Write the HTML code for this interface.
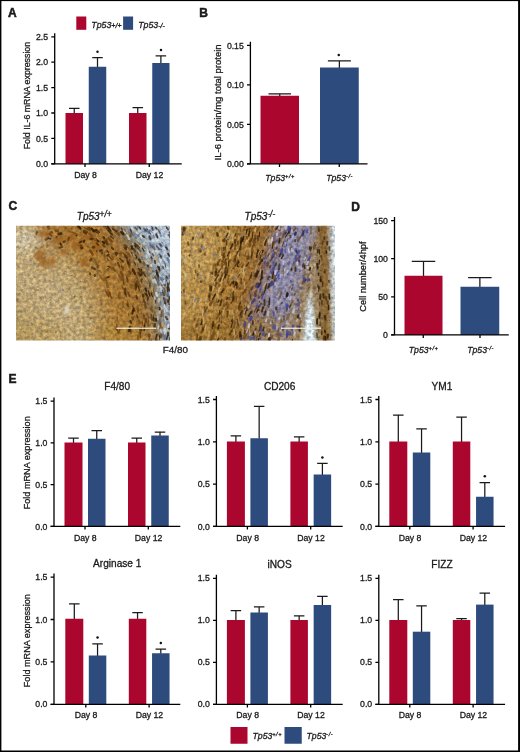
<!DOCTYPE html>
<html><head><meta charset="utf-8"><title>Figure</title>
<style>
html,body{margin:0;padding:0;background:#fff;}
body{width:520px;height:752px;overflow:hidden;position:relative;font-family:"Liberation Sans",sans-serif;}
svg{position:absolute;left:0;top:0;display:block;}
svg text{font-family:"Liberation Sans",sans-serif;fill:#1a1a1a;stroke:#1a1a1a;stroke-width:0.3px;}
</style></head><body>
<svg width="520" height="752" viewBox="0 0 520 752" style="opacity:0.999">
<rect x="0" y="0" width="520" height="752" fill="#fff"/>
<path d="M74.25 113.50V108.25M69.00 108.25H79.50" stroke="#1a1a1a" stroke-width="1.25" fill="none"/>
<rect x="65.50" y="113.00" width="17.50" height="50.80" fill="#AB062D"/>
<path d="M97.50 67.25V57.50M92.25 57.50H102.75" stroke="#1a1a1a" stroke-width="1.25" fill="none"/>
<rect x="88.75" y="66.75" width="17.50" height="97.05" fill="#2E4B7E"/>
<circle cx="97.50" cy="51.75" r="1.25" fill="#111"/>
<path d="M137.75 113.50V107.50M132.50 107.50H143.00" stroke="#1a1a1a" stroke-width="1.25" fill="none"/>
<rect x="129.00" y="113.00" width="17.50" height="50.80" fill="#AB062D"/>
<path d="M160.88 63.50V55.75M155.62 55.75H166.12" stroke="#1a1a1a" stroke-width="1.25" fill="none"/>
<rect x="152.25" y="63.00" width="17.25" height="100.80" fill="#2E4B7E"/>
<circle cx="161.00" cy="50.00" r="1.25" fill="#111"/>
<path d="M54.70 33.20V163.80M51.30 163.80H181.75" stroke="#000" stroke-width="1.3" fill="none"/>
<path d="M51.30 163.80H54.70M51.30 138.40H54.70M51.30 113.00H54.70M51.30 87.60H54.70M51.30 62.20H54.70M51.30 36.80H54.70M85.00 163.80V167.00M149.25 163.80V167.00" stroke="#000" stroke-width="1.3" fill="none"/>
<text x="48.10" y="166.95" font-size="8.7" text-anchor="end">0.0</text>
<text x="48.10" y="141.55" font-size="8.7" text-anchor="end">0.5</text>
<text x="48.10" y="116.15" font-size="8.7" text-anchor="end">1.0</text>
<text x="48.10" y="90.75" font-size="8.7" text-anchor="end">1.5</text>
<text x="48.10" y="65.35" font-size="8.7" text-anchor="end">2.0</text>
<text x="48.10" y="39.95" font-size="8.7" text-anchor="end">2.5</text>
<text x="85.50" y="178.00" font-size="8.7" text-anchor="middle">Day 8</text>
<text x="149.50" y="178.00" font-size="8.7" text-anchor="middle">Day 12</text>
<text transform="translate(29.60,95.60) rotate(-90)" font-size="9.3" text-anchor="middle" textLength="107.5" lengthAdjust="spacingAndGlyphs">Fold IL-6 mRNA expression</text>
<rect x="76.3" y="16.5" width="10" height="13.3" fill="#AB062D"/>
<rect x="123.1" y="16.5" width="10" height="13.3" fill="#2E4B7E"/>
<text x="91.30" y="28.20" font-size="8.8" font-style="italic" text-anchor="start">Tp53<tspan font-size="7.00" dy="-0.50" letter-spacing="0">+/+</tspan></text>
<text x="138.20" y="28.20" font-size="8.8" font-style="italic" text-anchor="start">Tp53<tspan font-size="7.00" dy="-0.50" letter-spacing="0">-/-</tspan></text>
<text x="8.00" y="16.60" font-size="12.0" text-anchor="start" font-weight="bold" style="stroke-width:0.5px">A</text>
<path d="M279.75 96.25V93.75M268.50 93.75H291.00" stroke="#1a1a1a" stroke-width="1.25" fill="none"/>
<rect x="260.50" y="95.75" width="38.50" height="68.05" fill="#AB062D"/>
<path d="M339.38 68.00V60.75M327.88 60.75H350.88" stroke="#1a1a1a" stroke-width="1.25" fill="none"/>
<rect x="320.00" y="67.50" width="38.75" height="96.30" fill="#2E4B7E"/>
<circle cx="338.75" cy="55.00" r="1.25" fill="#111"/>
<path d="M250.40 41.85V163.80M247.00 163.80H367.50" stroke="#000" stroke-width="1.3" fill="none"/>
<path d="M247.00 163.80H250.40M247.00 124.35H250.40M247.00 84.90H250.40M247.00 45.45H250.40M279.50 163.80V167.00M339.25 163.80V167.00" stroke="#000" stroke-width="1.3" fill="none"/>
<text x="243.80" y="166.95" font-size="8.7" text-anchor="end">0.00</text>
<text x="243.80" y="127.50" font-size="8.7" text-anchor="end">0.05</text>
<text x="243.80" y="88.05" font-size="8.7" text-anchor="end">0.10</text>
<text x="243.80" y="48.60" font-size="8.7" text-anchor="end">0.15</text>
<text x="280.00" y="181.00" font-size="8.7" font-style="italic" text-anchor="middle">Tp53<tspan font-size="5.74" dy="-3.22" letter-spacing="0.45">+/+</tspan></text>
<text x="339.50" y="181.00" font-size="8.7" font-style="italic" text-anchor="middle">Tp53<tspan font-size="5.74" dy="-3.22" letter-spacing="0.45">-/-</tspan></text>
<text transform="translate(220.50,102.40) rotate(-90)" font-size="9.3" text-anchor="middle" textLength="116" lengthAdjust="spacingAndGlyphs">IL-6 protein/mg total protein</text>
<text x="199.30" y="16.80" font-size="12.0" text-anchor="start" font-weight="bold" style="stroke-width:0.5px">B</text>
<text x="8.60" y="210.20" font-size="12.0" text-anchor="start" font-weight="bold" style="stroke-width:0.5px">C</text>
<text x="76.80" y="219.90" font-size="10" font-style="italic" text-anchor="start">Tp53<tspan font-size="8.20" dy="-3.00" letter-spacing="0">+/+</tspan></text>
<text x="244.60" y="219.90" font-size="10" font-style="italic" text-anchor="start">Tp53<tspan font-size="8.20" dy="-3.00" letter-spacing="0">-/-</tspan></text>
<defs>
<filter id="tex1" x="0" y="0" width="100%" height="100%" color-interpolation-filters="sRGB">
<feGaussianBlur in="SourceGraphic" stdDeviation="1.5" result="b"/>
<feTurbulence type="fractalNoise" baseFrequency="0.3" numOctaves="3" seed="5" result="n"/>
<feColorMatrix in="n" values="1 0 0 0 0  0.94 0.06 0 0 0  0.84 0 0.16 0 0  0 0 0 0 1" result="ng"/>
<feComposite in="b" in2="ng" operator="arithmetic" k1="0.72" k2="0.61" k3="0" k4="0"/>
</filter>
<filter id="tex2" x="0" y="0" width="100%" height="100%" color-interpolation-filters="sRGB">
<feGaussianBlur in="SourceGraphic" stdDeviation="1.5" result="b"/>
<feTurbulence type="fractalNoise" baseFrequency="0.3" numOctaves="3" seed="17" result="n"/>
<feColorMatrix in="n" values="1 0 0 0 0  0.94 0.06 0 0 0  0.84 0 0.16 0 0  0 0 0 0 1" result="ng"/>
<feComposite in="b" in2="ng" operator="arithmetic" k1="0.8" k2="0.57" k3="0" k4="0"/>
</filter>
<filter id="sblur" x="-10%" y="-10%" width="120%" height="120%"><feGaussianBlur stdDeviation="0.6"/></filter>
<filter id="lblur" x="-20%" y="-20%" width="140%" height="140%"><feGaussianBlur stdDeviation="1.8"/></filter>
<filter id="xblur" x="-30%" y="-30%" width="160%" height="160%"><feGaussianBlur stdDeviation="7"/></filter>
<clipPath id="c1"><rect x="16" y="225.8" width="154" height="114.6"/></clipPath>
<clipPath id="c2"><rect x="181" y="225.8" width="154" height="114.6"/></clipPath>
<radialGradient id="rg1" gradientUnits="userSpaceOnUse" cx="0" cy="330" r="210">
<stop offset="0" stop-color="#B89E6A"/>
<stop offset="0.30" stop-color="#C4AC7E"/>
<stop offset="0.42" stop-color="#C0A672"/>
<stop offset="0.49" stop-color="#B48E52"/>
<stop offset="0.56" stop-color="#AE7E38"/>
<stop offset="0.68" stop-color="#A47434"/>
<stop offset="0.75" stop-color="#8E7C5C"/>
<stop offset="0.79" stop-color="#98A2A8"/>
<stop offset="0.87" stop-color="#AEBECE"/>
<stop offset="1" stop-color="#B6C6D6"/>
</radialGradient>
<linearGradient id="lg2" gradientUnits="userSpaceOnUse" x1="181" y1="226" x2="353.4" y2="277.7">
<stop offset="0" stop-color="#BC9854"/>
<stop offset="0.23" stop-color="#B48C48"/>
<stop offset="0.37" stop-color="#A87A36"/>
<stop offset="0.46" stop-color="#9A6E36"/>
<stop offset="0.53" stop-color="#8E7C84"/>
<stop offset="0.61" stop-color="#8E8CAA"/>
<stop offset="0.70" stop-color="#948EA2"/>
<stop offset="0.75" stop-color="#9A8468"/>
<stop offset="1" stop-color="#987C48"/>
</linearGradient>
</defs>
<g clip-path="url(#c1)">
<g filter="url(#tex1)"><rect x="4.0" y="213.8" width="178.0" height="138.6" fill="url(#rg1)"/><g filter="url(#xblur)"><ellipse cx="24" cy="238" rx="16" ry="14" fill="#D6CCB2" fill-opacity="0.85"/><ellipse cx="30" cy="335" rx="40" ry="14" fill="#B89A5C" fill-opacity="0.7"/><ellipse cx="70" cy="236" rx="30" ry="9" fill="#A87834" fill-opacity="0.8"/><ellipse cx="46" cy="258" rx="9" ry="9" fill="#A87834" fill-opacity="0.7"/><ellipse cx="120" cy="335" rx="28" ry="12" fill="#B08A3C" fill-opacity="0.6"/></g></g>
<g filter="url(#lblur)"><ellipse cx="45" cy="234" rx="8" ry="3.5" fill="#9A5E18" fill-opacity="0.75"/><ellipse cx="58" cy="240" rx="6" ry="3.5" fill="#9A5E18" fill-opacity="0.75"/><ellipse cx="40" cy="255" rx="5" ry="6" fill="#9A5E18" fill-opacity="0.75"/><ellipse cx="44" cy="263" rx="4" ry="4" fill="#9A5E18" fill-opacity="0.75"/><ellipse cx="52" cy="262" rx="3" ry="5" fill="#9A5E18" fill-opacity="0.75"/><ellipse cx="70" cy="238" rx="6" ry="3.5" fill="#9A5E18" fill-opacity="0.75"/><ellipse cx="78" cy="246" rx="7" ry="4" fill="#9A5E18" fill-opacity="0.75"/><ellipse cx="64" cy="252" rx="4" ry="3" fill="#9A5E18" fill-opacity="0.75"/><ellipse cx="88" cy="236" rx="7" ry="4" fill="#9A5E18" fill-opacity="0.75"/><ellipse cx="97" cy="248" rx="5" ry="6" fill="#9A5E18" fill-opacity="0.75"/><ellipse cx="84" cy="262" rx="4" ry="5" fill="#9A5E18" fill-opacity="0.75"/><ellipse cx="67" cy="310" rx="2.2" ry="5" fill="#EAE4D2" fill-opacity="0.85"/></g>
<g filter="url(#sblur)">
<path d="M157.9 277.5L158.8 280.9" stroke="#2E1A06" stroke-width="1.3" stroke-opacity="0.67" stroke-linecap="round"/><path d="M121.8 228.1L123.8 233.1" stroke="#2E1A06" stroke-width="1.9" stroke-opacity="0.71" stroke-linecap="round"/><path d="M96.5 232.0L98.3 233.3" stroke="#2E1A06" stroke-width="1.1" stroke-opacity="0.65" stroke-linecap="round"/><path d="M170.1 337.5L169.2 342.3" stroke="#2E1A06" stroke-width="1.5" stroke-opacity="0.55" stroke-linecap="round"/><path d="M132.9 269.5L135.1 273.9" stroke="#2E1A06" stroke-width="2.2" stroke-opacity="0.81" stroke-linecap="round"/><path d="M155.2 277.1L157.2 282.2" stroke="#2E1A06" stroke-width="1.2" stroke-opacity="0.72" stroke-linecap="round"/><path d="M135.4 256.0L136.4 257.5" stroke="#2E1A06" stroke-width="2.3" stroke-opacity="0.78" stroke-linecap="round"/><path d="M137.7 244.6L139.8 247.7" stroke="#2E1A06" stroke-width="1.3" stroke-opacity="0.76" stroke-linecap="round"/><path d="M165.8 316.5L165.3 319.2" stroke="#2E1A06" stroke-width="1.4" stroke-opacity="0.62" stroke-linecap="round"/><path d="M147.7 298.4L147.5 300.3" stroke="#2E1A06" stroke-width="1.4" stroke-opacity="0.56" stroke-linecap="round"/><path d="M134.1 262.5L135.9 264.5" stroke="#2E1A06" stroke-width="1.2" stroke-opacity="0.70" stroke-linecap="round"/><path d="M163.6 279.3L163.8 283.1" stroke="#2E1A06" stroke-width="1.3" stroke-opacity="0.52" stroke-linecap="round"/><path d="M155.6 318.3L156.2 320.7" stroke="#2E1A06" stroke-width="2.0" stroke-opacity="0.85" stroke-linecap="round"/><path d="M151.1 293.5L152.6 296.4" stroke="#2E1A06" stroke-width="1.1" stroke-opacity="0.86" stroke-linecap="round"/><path d="M107.4 258.4L108.3 260.4" stroke="#2E1A06" stroke-width="1.2" stroke-opacity="0.55" stroke-linecap="round"/><path d="M108.8 256.0L112.4 259.8" stroke="#2E1A06" stroke-width="1.1" stroke-opacity="0.57" stroke-linecap="round"/><path d="M83.8 232.1L85.5 233.4" stroke="#2E1A06" stroke-width="1.8" stroke-opacity="0.51" stroke-linecap="round"/><path d="M166.7 299.0L167.2 303.2" stroke="#2E1A06" stroke-width="1.3" stroke-opacity="0.47" stroke-linecap="round"/><path d="M129.8 326.8L129.2 331.2" stroke="#2E1A06" stroke-width="2.1" stroke-opacity="0.84" stroke-linecap="round"/><path d="M155.0 324.1L154.5 327.2" stroke="#2E1A06" stroke-width="2.1" stroke-opacity="0.70" stroke-linecap="round"/><path d="M168.8 324.4L169.2 328.8" stroke="#2E1A06" stroke-width="2.0" stroke-opacity="0.70" stroke-linecap="round"/><path d="M123.3 280.8L123.7 284.8" stroke="#2E1A06" stroke-width="1.4" stroke-opacity="0.45" stroke-linecap="round"/><path d="M155.6 299.8L155.4 303.1" stroke="#2E1A06" stroke-width="1.5" stroke-opacity="0.74" stroke-linecap="round"/><path d="M140.0 328.1L140.3 333.1" stroke="#2E1A06" stroke-width="1.8" stroke-opacity="0.59" stroke-linecap="round"/><path d="M145.4 321.0L144.4 325.2" stroke="#2E1A06" stroke-width="1.4" stroke-opacity="0.52" stroke-linecap="round"/><path d="M166.7 276.9L167.7 278.4" stroke="#2E1A06" stroke-width="2.1" stroke-opacity="0.47" stroke-linecap="round"/><path d="M125.0 289.8L125.3 292.5" stroke="#2E1A06" stroke-width="1.1" stroke-opacity="0.51" stroke-linecap="round"/><path d="M84.0 227.4L88.1 229.9" stroke="#2E1A06" stroke-width="1.3" stroke-opacity="0.47" stroke-linecap="round"/><path d="M140.0 333.5L140.7 337.7" stroke="#2E1A06" stroke-width="1.7" stroke-opacity="0.53" stroke-linecap="round"/><path d="M125.2 245.3L126.8 247.3" stroke="#2E1A06" stroke-width="1.9" stroke-opacity="0.67" stroke-linecap="round"/><path d="M159.5 307.6L159.8 309.6" stroke="#2E1A06" stroke-width="1.9" stroke-opacity="0.84" stroke-linecap="round"/><path d="M151.1 314.5L151.7 319.7" stroke="#2E1A06" stroke-width="1.9" stroke-opacity="0.54" stroke-linecap="round"/><path d="M167.4 336.0L166.6 339.6" stroke="#2E1A06" stroke-width="1.5" stroke-opacity="0.84" stroke-linecap="round"/><path d="M147.4 264.9L148.2 266.6" stroke="#2E1A06" stroke-width="1.8" stroke-opacity="0.78" stroke-linecap="round"/><path d="M88.9 228.0L93.2 230.1" stroke="#2E1A06" stroke-width="2.1" stroke-opacity="0.52" stroke-linecap="round"/><path d="M144.9 302.2L145.8 307.4" stroke="#2E1A06" stroke-width="2.2" stroke-opacity="0.49" stroke-linecap="round"/><path d="M145.5 288.7L146.4 291.3" stroke="#2E1A06" stroke-width="2.1" stroke-opacity="0.84" stroke-linecap="round"/><path d="M164.3 284.2L166.0 287.6" stroke="#2E1A06" stroke-width="1.7" stroke-opacity="0.67" stroke-linecap="round"/><path d="M107.4 227.0L111.0 231.0" stroke="#2E1A06" stroke-width="1.6" stroke-opacity="0.79" stroke-linecap="round"/><path d="M121.2 232.0L123.6 234.7" stroke="#2E1A06" stroke-width="2.2" stroke-opacity="0.85" stroke-linecap="round"/><path d="M141.4 327.3L141.8 330.7" stroke="#2E1A06" stroke-width="1.3" stroke-opacity="0.72" stroke-linecap="round"/><path d="M135.2 227.6L136.8 229.2" stroke="#2E1A06" stroke-width="1.9" stroke-opacity="0.59" stroke-linecap="round"/><path d="M96.8 243.2L98.2 245.0" stroke="#2E1A06" stroke-width="1.9" stroke-opacity="0.68" stroke-linecap="round"/><path d="M146.1 293.6L148.0 298.2" stroke="#2E1A06" stroke-width="2.0" stroke-opacity="0.80" stroke-linecap="round"/><path d="M154.8 260.6L155.2 263.4" stroke="#2E1A06" stroke-width="1.4" stroke-opacity="0.88" stroke-linecap="round"/><path d="M142.8 272.2L145.5 276.0" stroke="#2E1A06" stroke-width="1.6" stroke-opacity="0.74" stroke-linecap="round"/><path d="M102.7 241.9L104.5 243.3" stroke="#2E1A06" stroke-width="2.1" stroke-opacity="0.88" stroke-linecap="round"/><path d="M107.4 225.5L109.7 229.2" stroke="#2E1A06" stroke-width="1.3" stroke-opacity="0.65" stroke-linecap="round"/><path d="M129.2 271.3L130.5 273.2" stroke="#2E1A06" stroke-width="1.7" stroke-opacity="0.46" stroke-linecap="round"/><path d="M153.9 315.5L153.2 319.8" stroke="#2E1A06" stroke-width="1.9" stroke-opacity="0.62" stroke-linecap="round"/><path d="M167.6 316.8L167.1 319.3" stroke="#2E1A06" stroke-width="2.0" stroke-opacity="0.78" stroke-linecap="round"/><path d="M141.1 269.8L141.8 274.8" stroke="#2E1A06" stroke-width="1.9" stroke-opacity="0.78" stroke-linecap="round"/><path d="M132.5 270.6L135.2 274.0" stroke="#2E1A06" stroke-width="1.5" stroke-opacity="0.65" stroke-linecap="round"/><path d="M117.7 262.7L119.5 266.4" stroke="#2E1A06" stroke-width="1.7" stroke-opacity="0.62" stroke-linecap="round"/><path d="M170.0 297.3L170.0 301.6" stroke="#2E1A06" stroke-width="2.3" stroke-opacity="0.46" stroke-linecap="round"/><path d="M164.5 288.2L165.3 293.6" stroke="#2E1A06" stroke-width="2.1" stroke-opacity="0.48" stroke-linecap="round"/><path d="M108.3 230.6L112.0 234.4" stroke="#2E1A06" stroke-width="1.7" stroke-opacity="0.71" stroke-linecap="round"/><path d="M130.3 229.0L132.2 234.1" stroke="#2E1A06" stroke-width="1.2" stroke-opacity="0.84" stroke-linecap="round"/><path d="M126.8 276.8L127.8 282.1" stroke="#2E1A06" stroke-width="1.8" stroke-opacity="0.50" stroke-linecap="round"/><path d="M96.3 238.7L98.3 241.4" stroke="#2E1A06" stroke-width="1.6" stroke-opacity="0.56" stroke-linecap="round"/><path d="M135.7 283.9L135.9 289.4" stroke="#2E1A06" stroke-width="2.0" stroke-opacity="0.55" stroke-linecap="round"/><path d="M136.2 296.1L137.3 298.8" stroke="#2E1A06" stroke-width="1.9" stroke-opacity="0.69" stroke-linecap="round"/><path d="M131.7 246.3L132.3 248.8" stroke="#2E1A06" stroke-width="2.2" stroke-opacity="0.83" stroke-linecap="round"/><path d="M110.5 236.5L113.5 238.6" stroke="#2E1A06" stroke-width="1.2" stroke-opacity="0.74" stroke-linecap="round"/><path d="M130.4 321.0L131.0 322.8" stroke="#2E1A06" stroke-width="2.1" stroke-opacity="0.72" stroke-linecap="round"/><path d="M133.4 249.0L135.4 251.5" stroke="#2E1A06" stroke-width="2.1" stroke-opacity="0.61" stroke-linecap="round"/><path d="M130.8 329.7L131.0 332.9" stroke="#2E1A06" stroke-width="1.2" stroke-opacity="0.83" stroke-linecap="round"/><path d="M119.9 258.4L123.2 261.7" stroke="#2E1A06" stroke-width="1.4" stroke-opacity="0.73" stroke-linecap="round"/><path d="M127.1 304.1L128.2 306.5" stroke="#2E1A06" stroke-width="1.5" stroke-opacity="0.76" stroke-linecap="round"/><path d="M125.2 288.5L125.3 293.6" stroke="#2E1A06" stroke-width="2.2" stroke-opacity="0.64" stroke-linecap="round"/><path d="M139.0 259.5L140.4 261.9" stroke="#2E1A06" stroke-width="2.2" stroke-opacity="0.83" stroke-linecap="round"/><path d="M138.1 285.4L139.4 290.1" stroke="#2E1A06" stroke-width="1.3" stroke-opacity="0.78" stroke-linecap="round"/><path d="M151.3 257.3L152.0 258.8" stroke="#2E1A06" stroke-width="1.8" stroke-opacity="0.69" stroke-linecap="round"/><path d="M163.8 298.3L165.9 302.6" stroke="#2E1A06" stroke-width="1.8" stroke-opacity="0.79" stroke-linecap="round"/><path d="M129.6 327.9L129.4 329.8" stroke="#2E1A06" stroke-width="1.3" stroke-opacity="0.77" stroke-linecap="round"/><path d="M115.5 252.8L116.4 255.0" stroke="#2E1A06" stroke-width="1.7" stroke-opacity="0.78" stroke-linecap="round"/><path d="M164.9 301.1L165.4 304.6" stroke="#2E1A06" stroke-width="2.0" stroke-opacity="0.75" stroke-linecap="round"/><path d="M156.3 270.5L157.5 275.2" stroke="#2E1A06" stroke-width="2.1" stroke-opacity="0.80" stroke-linecap="round"/><path d="M144.6 325.0L144.2 330.3" stroke="#2E1A06" stroke-width="1.7" stroke-opacity="0.76" stroke-linecap="round"/><path d="M138.6 272.8L140.4 275.4" stroke="#2E1A06" stroke-width="2.0" stroke-opacity="0.88" stroke-linecap="round"/><path d="M135.0 245.6L136.0 247.1" stroke="#2E1A06" stroke-width="1.8" stroke-opacity="0.84" stroke-linecap="round"/><path d="M106.8 250.7L108.4 252.3" stroke="#2E1A06" stroke-width="1.3" stroke-opacity="0.78" stroke-linecap="round"/><path d="M141.7 279.5L142.0 282.0" stroke="#2E1A06" stroke-width="2.2" stroke-opacity="0.60" stroke-linecap="round"/><path d="M138.7 268.3L140.1 271.6" stroke="#2E1A06" stroke-width="1.4" stroke-opacity="0.88" stroke-linecap="round"/><path d="M116.8 252.4L117.7 253.7" stroke="#2E1A06" stroke-width="1.5" stroke-opacity="0.79" stroke-linecap="round"/><path d="M125.4 294.3L126.3 296.2" stroke="#2E1A06" stroke-width="1.5" stroke-opacity="0.56" stroke-linecap="round"/><path d="M149.9 282.9L149.8 287.0" stroke="#2E1A06" stroke-width="1.4" stroke-opacity="0.68" stroke-linecap="round"/><path d="M146.1 319.1L146.5 320.9" stroke="#2E1A06" stroke-width="2.0" stroke-opacity="0.49" stroke-linecap="round"/><path d="M162.3 290.7L164.0 295.3" stroke="#2E1A06" stroke-width="2.0" stroke-opacity="0.63" stroke-linecap="round"/><path d="M142.4 248.1L144.1 251.3" stroke="#2E1A06" stroke-width="1.3" stroke-opacity="0.81" stroke-linecap="round"/><path d="M143.6 300.0L144.0 301.5" stroke="#2E1A06" stroke-width="2.0" stroke-opacity="0.55" stroke-linecap="round"/><path d="M137.9 247.9L140.3 251.1" stroke="#2E1A06" stroke-width="1.6" stroke-opacity="0.68" stroke-linecap="round"/><path d="M127.5 261.2L129.8 265.9" stroke="#2E1A06" stroke-width="2.0" stroke-opacity="0.59" stroke-linecap="round"/><path d="M142.6 235.7L144.1 237.1" stroke="#2E1A06" stroke-width="1.9" stroke-opacity="0.75" stroke-linecap="round"/><path d="M144.5 292.9L145.3 294.6" stroke="#2E1A06" stroke-width="1.3" stroke-opacity="0.50" stroke-linecap="round"/><path d="M157.3 273.0L158.2 276.5" stroke="#2E1A06" stroke-width="2.0" stroke-opacity="0.80" stroke-linecap="round"/><path d="M78.4 226.5L80.6 228.7" stroke="#2E1A06" stroke-width="2.3" stroke-opacity="0.79" stroke-linecap="round"/><path d="M143.0 294.8L143.2 296.9" stroke="#2E1A06" stroke-width="2.2" stroke-opacity="0.69" stroke-linecap="round"/><path d="M167.9 282.8L168.1 287.1" stroke="#2E1A06" stroke-width="1.3" stroke-opacity="0.86" stroke-linecap="round"/><path d="M111.9 247.8L113.2 249.1" stroke="#2E1A06" stroke-width="1.8" stroke-opacity="0.75" stroke-linecap="round"/><path d="M156.3 337.1L155.7 341.9" stroke="#2E1A06" stroke-width="1.2" stroke-opacity="0.80" stroke-linecap="round"/><path d="M142.6 245.8L145.2 248.4" stroke="#2E1A06" stroke-width="1.1" stroke-opacity="0.53" stroke-linecap="round"/><path d="M167.8 331.4L168.2 335.5" stroke="#2E1A06" stroke-width="1.9" stroke-opacity="0.77" stroke-linecap="round"/><path d="M139.1 226.8L140.5 228.6" stroke="#2E1A06" stroke-width="1.3" stroke-opacity="0.62" stroke-linecap="round"/><path d="M102.4 244.5L105.0 246.9" stroke="#2E1A06" stroke-width="1.8" stroke-opacity="0.59" stroke-linecap="round"/><path d="M113.1 228.9L116.5 231.4" stroke="#2E1A06" stroke-width="2.3" stroke-opacity="0.71" stroke-linecap="round"/><path d="M133.0 310.3L132.4 313.6" stroke="#2E1A06" stroke-width="2.1" stroke-opacity="0.82" stroke-linecap="round"/><path d="M127.9 292.2L129.6 296.4" stroke="#2E1A06" stroke-width="1.8" stroke-opacity="0.48" stroke-linecap="round"/><path d="M156.9 334.6L155.8 338.6" stroke="#2E1A06" stroke-width="1.6" stroke-opacity="0.80" stroke-linecap="round"/><path d="M153.6 317.7L154.1 320.8" stroke="#2E1A06" stroke-width="1.8" stroke-opacity="0.47" stroke-linecap="round"/><path d="M159.6 336.1L160.1 339.5" stroke="#2E1A06" stroke-width="1.5" stroke-opacity="0.85" stroke-linecap="round"/><path d="M152.8 246.2L155.4 250.2" stroke="#2E1A06" stroke-width="1.7" stroke-opacity="0.52" stroke-linecap="round"/><path d="M151.6 338.7L151.3 341.0" stroke="#2E1A06" stroke-width="1.3" stroke-opacity="0.83" stroke-linecap="round"/><path d="M127.1 259.2L128.4 264.1" stroke="#2E1A06" stroke-width="2.0" stroke-opacity="0.51" stroke-linecap="round"/><path d="M124.7 247.5L126.2 249.1" stroke="#2E1A06" stroke-width="1.9" stroke-opacity="0.79" stroke-linecap="round"/><path d="M151.8 292.3L152.6 294.5" stroke="#2E1A06" stroke-width="2.2" stroke-opacity="0.74" stroke-linecap="round"/><path d="M96.2 229.8L99.3 232.2" stroke="#2E1A06" stroke-width="1.4" stroke-opacity="0.80" stroke-linecap="round"/><path d="M131.8 252.8L133.0 255.1" stroke="#2E1A06" stroke-width="1.3" stroke-opacity="0.84" stroke-linecap="round"/><path d="M136.4 283.3L136.8 286.8" stroke="#2E1A06" stroke-width="1.9" stroke-opacity="0.67" stroke-linecap="round"/><path d="M134.8 243.3L137.4 246.2" stroke="#2E1A06" stroke-width="1.6" stroke-opacity="0.78" stroke-linecap="round"/><path d="M137.0 315.2L137.3 317.7" stroke="#2E1A06" stroke-width="1.4" stroke-opacity="0.70" stroke-linecap="round"/><path d="M91.6 228.3L94.1 231.4" stroke="#2E1A06" stroke-width="1.8" stroke-opacity="0.83" stroke-linecap="round"/><path d="M137.3 252.2L138.5 253.9" stroke="#2E1A06" stroke-width="1.2" stroke-opacity="0.59" stroke-linecap="round"/><path d="M143.8 315.1L144.1 316.8" stroke="#2E1A06" stroke-width="1.5" stroke-opacity="0.54" stroke-linecap="round"/><path d="M133.2 308.8L133.9 311.1" stroke="#2E1A06" stroke-width="1.8" stroke-opacity="0.55" stroke-linecap="round"/><path d="M166.9 295.0L167.3 296.6" stroke="#2E1A06" stroke-width="1.9" stroke-opacity="0.48" stroke-linecap="round"/><path d="M148.5 291.1L149.8 295.9" stroke="#2E1A06" stroke-width="1.6" stroke-opacity="0.81" stroke-linecap="round"/><path d="M168.1 301.3L169.8 306.0" stroke="#2E1A06" stroke-width="1.6" stroke-opacity="0.48" stroke-linecap="round"/><path d="M121.6 266.5L123.4 268.3" stroke="#2E1A06" stroke-width="1.3" stroke-opacity="0.56" stroke-linecap="round"/><path d="M125.1 255.5L127.1 257.7" stroke="#2E1A06" stroke-width="2.2" stroke-opacity="0.60" stroke-linecap="round"/><path d="M132.8 306.4L135.1 311.0" stroke="#2E1A06" stroke-width="1.5" stroke-opacity="0.62" stroke-linecap="round"/><path d="M94.7 231.2L97.2 233.0" stroke="#2E1A06" stroke-width="1.1" stroke-opacity="0.51" stroke-linecap="round"/><path d="M106.7 228.5L108.7 230.4" stroke="#2E1A06" stroke-width="1.8" stroke-opacity="0.51" stroke-linecap="round"/><path d="M123.9 253.6L125.7 257.6" stroke="#2E1A06" stroke-width="1.3" stroke-opacity="0.54" stroke-linecap="round"/><path d="M148.6 250.6L150.1 252.8" stroke="#2E1A06" stroke-width="1.4" stroke-opacity="0.47" stroke-linecap="round"/>
<path d="M119.4 330.0L119.1 332.3" stroke="#6A3E0E" stroke-width="2.1" stroke-opacity="0.78" stroke-linecap="round"/><path d="M112.3 234.9L114.5 237.3" stroke="#6A3E0E" stroke-width="1.3" stroke-opacity="0.55" stroke-linecap="round"/><path d="M122.8 287.4L125.3 290.9" stroke="#6A3E0E" stroke-width="1.7" stroke-opacity="0.55" stroke-linecap="round"/><path d="M105.4 278.4L107.0 280.7" stroke="#6A3E0E" stroke-width="1.2" stroke-opacity="0.54" stroke-linecap="round"/><path d="M153.1 289.4L153.5 291.9" stroke="#6A3E0E" stroke-width="1.5" stroke-opacity="0.59" stroke-linecap="round"/><path d="M161.1 312.2L161.2 316.2" stroke="#6A3E0E" stroke-width="1.8" stroke-opacity="0.57" stroke-linecap="round"/><path d="M149.9 267.5L153.1 271.6" stroke="#6A3E0E" stroke-width="1.4" stroke-opacity="0.60" stroke-linecap="round"/><path d="M120.4 252.0L121.1 253.3" stroke="#6A3E0E" stroke-width="1.8" stroke-opacity="0.50" stroke-linecap="round"/><path d="M123.1 301.8L123.1 307.2" stroke="#6A3E0E" stroke-width="1.4" stroke-opacity="0.65" stroke-linecap="round"/><path d="M130.8 285.9L131.9 288.1" stroke="#6A3E0E" stroke-width="1.7" stroke-opacity="0.47" stroke-linecap="round"/><path d="M94.4 239.8L95.9 240.7" stroke="#6A3E0E" stroke-width="1.3" stroke-opacity="0.68" stroke-linecap="round"/><path d="M134.8 279.8L135.0 282.0" stroke="#6A3E0E" stroke-width="2.4" stroke-opacity="0.42" stroke-linecap="round"/><path d="M137.5 268.9L139.8 272.6" stroke="#6A3E0E" stroke-width="2.2" stroke-opacity="0.53" stroke-linecap="round"/><path d="M145.6 318.9L146.0 322.6" stroke="#6A3E0E" stroke-width="2.2" stroke-opacity="0.65" stroke-linecap="round"/><path d="M143.8 316.6L144.1 318.6" stroke="#6A3E0E" stroke-width="2.1" stroke-opacity="0.49" stroke-linecap="round"/><path d="M120.9 272.1L122.8 275.6" stroke="#6A3E0E" stroke-width="2.5" stroke-opacity="0.80" stroke-linecap="round"/><path d="M65.3 227.8L68.4 229.8" stroke="#6A3E0E" stroke-width="1.7" stroke-opacity="0.52" stroke-linecap="round"/><path d="M139.1 320.6L139.4 323.2" stroke="#6A3E0E" stroke-width="2.1" stroke-opacity="0.71" stroke-linecap="round"/><path d="M121.7 286.4L124.1 290.4" stroke="#6A3E0E" stroke-width="1.4" stroke-opacity="0.44" stroke-linecap="round"/><path d="M90.0 238.9L92.4 240.2" stroke="#6A3E0E" stroke-width="2.0" stroke-opacity="0.46" stroke-linecap="round"/><path d="M111.6 256.2L113.0 258.2" stroke="#6A3E0E" stroke-width="1.7" stroke-opacity="0.50" stroke-linecap="round"/><path d="M140.0 270.4L140.6 272.0" stroke="#6A3E0E" stroke-width="2.1" stroke-opacity="0.65" stroke-linecap="round"/><path d="M149.6 338.2L148.7 341.3" stroke="#6A3E0E" stroke-width="2.2" stroke-opacity="0.47" stroke-linecap="round"/><path d="M138.1 308.5L137.9 311.6" stroke="#6A3E0E" stroke-width="2.4" stroke-opacity="0.71" stroke-linecap="round"/><path d="M122.7 252.8L126.5 256.2" stroke="#6A3E0E" stroke-width="2.0" stroke-opacity="0.49" stroke-linecap="round"/><path d="M117.2 317.2L117.2 320.2" stroke="#6A3E0E" stroke-width="1.7" stroke-opacity="0.51" stroke-linecap="round"/><path d="M129.1 248.1L131.3 252.0" stroke="#6A3E0E" stroke-width="2.2" stroke-opacity="0.47" stroke-linecap="round"/><path d="M124.1 245.0L125.3 247.3" stroke="#6A3E0E" stroke-width="2.5" stroke-opacity="0.53" stroke-linecap="round"/><path d="M112.5 267.5L115.0 270.7" stroke="#6A3E0E" stroke-width="2.1" stroke-opacity="0.76" stroke-linecap="round"/><path d="M147.6 296.1L148.2 299.6" stroke="#6A3E0E" stroke-width="1.4" stroke-opacity="0.73" stroke-linecap="round"/><path d="M121.3 275.9L123.1 279.6" stroke="#6A3E0E" stroke-width="1.7" stroke-opacity="0.49" stroke-linecap="round"/><path d="M107.4 290.0L109.6 292.9" stroke="#6A3E0E" stroke-width="2.1" stroke-opacity="0.58" stroke-linecap="round"/><path d="M106.0 291.7L108.7 296.2" stroke="#6A3E0E" stroke-width="1.9" stroke-opacity="0.80" stroke-linecap="round"/><path d="M129.3 259.5L130.0 263.9" stroke="#6A3E0E" stroke-width="1.8" stroke-opacity="0.75" stroke-linecap="round"/><path d="M90.2 250.6L93.0 254.6" stroke="#6A3E0E" stroke-width="2.5" stroke-opacity="0.73" stroke-linecap="round"/><path d="M137.3 282.2L140.4 286.7" stroke="#6A3E0E" stroke-width="2.4" stroke-opacity="0.68" stroke-linecap="round"/><path d="M137.0 280.8L137.4 283.3" stroke="#6A3E0E" stroke-width="2.4" stroke-opacity="0.71" stroke-linecap="round"/><path d="M137.6 242.2L139.8 244.2" stroke="#6A3E0E" stroke-width="1.3" stroke-opacity="0.54" stroke-linecap="round"/><path d="M148.9 320.4L149.4 322.3" stroke="#6A3E0E" stroke-width="1.7" stroke-opacity="0.74" stroke-linecap="round"/><path d="M151.0 308.0L151.0 310.3" stroke="#6A3E0E" stroke-width="1.8" stroke-opacity="0.41" stroke-linecap="round"/><path d="M112.1 256.0L113.8 259.5" stroke="#6A3E0E" stroke-width="1.5" stroke-opacity="0.45" stroke-linecap="round"/><path d="M122.2 278.4L123.4 280.1" stroke="#6A3E0E" stroke-width="2.5" stroke-opacity="0.64" stroke-linecap="round"/><path d="M128.7 265.9L130.1 268.3" stroke="#6A3E0E" stroke-width="1.4" stroke-opacity="0.65" stroke-linecap="round"/><path d="M119.0 275.6L121.4 280.3" stroke="#6A3E0E" stroke-width="2.2" stroke-opacity="0.64" stroke-linecap="round"/><path d="M83.7 232.3L86.4 234.0" stroke="#6A3E0E" stroke-width="1.8" stroke-opacity="0.78" stroke-linecap="round"/><path d="M118.4 252.7L120.6 254.9" stroke="#6A3E0E" stroke-width="2.5" stroke-opacity="0.50" stroke-linecap="round"/><path d="M142.3 321.3L142.4 325.2" stroke="#6A3E0E" stroke-width="1.3" stroke-opacity="0.76" stroke-linecap="round"/><path d="M118.5 262.7L119.6 267.7" stroke="#6A3E0E" stroke-width="1.2" stroke-opacity="0.65" stroke-linecap="round"/><path d="M119.4 292.5L119.3 297.9" stroke="#6A3E0E" stroke-width="2.6" stroke-opacity="0.56" stroke-linecap="round"/><path d="M143.8 298.1L143.4 302.4" stroke="#6A3E0E" stroke-width="1.3" stroke-opacity="0.58" stroke-linecap="round"/><path d="M129.7 234.4L130.8 236.3" stroke="#6A3E0E" stroke-width="2.1" stroke-opacity="0.70" stroke-linecap="round"/><path d="M128.4 313.8L128.7 315.7" stroke="#6A3E0E" stroke-width="1.2" stroke-opacity="0.74" stroke-linecap="round"/><path d="M161.4 327.7L161.5 329.3" stroke="#6A3E0E" stroke-width="2.0" stroke-opacity="0.61" stroke-linecap="round"/><path d="M93.2 257.9L96.5 261.1" stroke="#6A3E0E" stroke-width="1.8" stroke-opacity="0.42" stroke-linecap="round"/><path d="M100.3 276.6L103.6 280.3" stroke="#6A3E0E" stroke-width="2.4" stroke-opacity="0.46" stroke-linecap="round"/><path d="M148.6 334.7L149.4 337.8" stroke="#6A3E0E" stroke-width="1.4" stroke-opacity="0.73" stroke-linecap="round"/><path d="M128.9 306.4L129.3 308.5" stroke="#6A3E0E" stroke-width="1.2" stroke-opacity="0.44" stroke-linecap="round"/><path d="M114.9 322.1L115.1 323.8" stroke="#6A3E0E" stroke-width="1.3" stroke-opacity="0.50" stroke-linecap="round"/><path d="M116.8 324.8L116.7 330.1" stroke="#6A3E0E" stroke-width="1.9" stroke-opacity="0.76" stroke-linecap="round"/><path d="M129.1 254.1L130.7 256.7" stroke="#6A3E0E" stroke-width="1.9" stroke-opacity="0.54" stroke-linecap="round"/><path d="M99.5 270.8L101.2 272.5" stroke="#6A3E0E" stroke-width="1.7" stroke-opacity="0.53" stroke-linecap="round"/><path d="M89.1 250.5L92.0 253.9" stroke="#6A3E0E" stroke-width="1.2" stroke-opacity="0.56" stroke-linecap="round"/><path d="M109.4 292.0L110.3 294.7" stroke="#6A3E0E" stroke-width="1.9" stroke-opacity="0.70" stroke-linecap="round"/><path d="M137.5 272.3L139.6 276.8" stroke="#6A3E0E" stroke-width="1.6" stroke-opacity="0.67" stroke-linecap="round"/><path d="M143.7 262.1L144.4 264.8" stroke="#6A3E0E" stroke-width="2.3" stroke-opacity="0.66" stroke-linecap="round"/><path d="M112.9 226.2L115.8 230.6" stroke="#6A3E0E" stroke-width="2.0" stroke-opacity="0.40" stroke-linecap="round"/><path d="M129.3 271.6L129.7 275.8" stroke="#6A3E0E" stroke-width="2.5" stroke-opacity="0.43" stroke-linecap="round"/><path d="M135.4 274.3L137.3 278.3" stroke="#6A3E0E" stroke-width="1.8" stroke-opacity="0.57" stroke-linecap="round"/><path d="M128.7 233.1L129.6 234.9" stroke="#6A3E0E" stroke-width="2.1" stroke-opacity="0.62" stroke-linecap="round"/><path d="M87.5 228.4L90.0 230.4" stroke="#6A3E0E" stroke-width="2.1" stroke-opacity="0.77" stroke-linecap="round"/><path d="M106.6 284.0L107.6 286.8" stroke="#6A3E0E" stroke-width="2.4" stroke-opacity="0.54" stroke-linecap="round"/><path d="M104.5 278.5L107.3 283.2" stroke="#6A3E0E" stroke-width="2.2" stroke-opacity="0.49" stroke-linecap="round"/><path d="M104.2 254.5L104.9 256.1" stroke="#6A3E0E" stroke-width="1.7" stroke-opacity="0.69" stroke-linecap="round"/><path d="M155.3 276.5L156.9 279.6" stroke="#6A3E0E" stroke-width="2.3" stroke-opacity="0.44" stroke-linecap="round"/><path d="M161.6 311.2L163.2 315.7" stroke="#6A3E0E" stroke-width="2.3" stroke-opacity="0.49" stroke-linecap="round"/><path d="M108.6 237.8L111.3 241.5" stroke="#6A3E0E" stroke-width="2.5" stroke-opacity="0.77" stroke-linecap="round"/><path d="M121.3 265.0L123.0 270.0" stroke="#6A3E0E" stroke-width="1.6" stroke-opacity="0.74" stroke-linecap="round"/><path d="M127.0 255.3L128.9 257.0" stroke="#6A3E0E" stroke-width="2.0" stroke-opacity="0.50" stroke-linecap="round"/><path d="M148.4 321.8L148.4 325.7" stroke="#6A3E0E" stroke-width="2.2" stroke-opacity="0.61" stroke-linecap="round"/><path d="M117.3 328.9L118.0 333.4" stroke="#6A3E0E" stroke-width="1.3" stroke-opacity="0.77" stroke-linecap="round"/><path d="M160.6 282.0L162.0 285.5" stroke="#6A3E0E" stroke-width="1.5" stroke-opacity="0.78" stroke-linecap="round"/><path d="M115.1 232.5L119.3 235.5" stroke="#6A3E0E" stroke-width="2.0" stroke-opacity="0.45" stroke-linecap="round"/><path d="M118.1 232.9L119.1 234.2" stroke="#6A3E0E" stroke-width="2.6" stroke-opacity="0.67" stroke-linecap="round"/><path d="M147.1 314.1L148.4 317.4" stroke="#6A3E0E" stroke-width="1.9" stroke-opacity="0.47" stroke-linecap="round"/><path d="M95.9 265.1L98.3 267.7" stroke="#6A3E0E" stroke-width="2.2" stroke-opacity="0.57" stroke-linecap="round"/><path d="M89.6 233.6L92.0 236.1" stroke="#6A3E0E" stroke-width="2.6" stroke-opacity="0.62" stroke-linecap="round"/><path d="M161.4 335.1L159.8 340.2" stroke="#6A3E0E" stroke-width="2.4" stroke-opacity="0.77" stroke-linecap="round"/><path d="M109.0 293.8L111.7 298.3" stroke="#6A3E0E" stroke-width="1.9" stroke-opacity="0.78" stroke-linecap="round"/><path d="M149.6 334.7L150.0 336.3" stroke="#6A3E0E" stroke-width="2.4" stroke-opacity="0.68" stroke-linecap="round"/><path d="M132.4 317.7L132.9 319.1" stroke="#6A3E0E" stroke-width="2.3" stroke-opacity="0.79" stroke-linecap="round"/><path d="M143.7 271.3L145.0 273.8" stroke="#6A3E0E" stroke-width="1.2" stroke-opacity="0.71" stroke-linecap="round"/><path d="M95.8 262.5L98.2 265.9" stroke="#6A3E0E" stroke-width="1.5" stroke-opacity="0.75" stroke-linecap="round"/><path d="M136.3 262.8L137.1 265.1" stroke="#6A3E0E" stroke-width="1.6" stroke-opacity="0.61" stroke-linecap="round"/><path d="M127.4 300.8L128.3 305.3" stroke="#6A3E0E" stroke-width="1.3" stroke-opacity="0.71" stroke-linecap="round"/><path d="M156.0 337.8L156.6 340.8" stroke="#6A3E0E" stroke-width="2.3" stroke-opacity="0.71" stroke-linecap="round"/><path d="M72.2 232.2L76.9 234.3" stroke="#6A3E0E" stroke-width="1.5" stroke-opacity="0.75" stroke-linecap="round"/><path d="M164.3 331.2L163.5 333.9" stroke="#6A3E0E" stroke-width="1.4" stroke-opacity="0.69" stroke-linecap="round"/><path d="M151.5 306.4L152.3 311.7" stroke="#6A3E0E" stroke-width="1.7" stroke-opacity="0.45" stroke-linecap="round"/><path d="M68.3 230.9L70.8 232.0" stroke="#6A3E0E" stroke-width="1.4" stroke-opacity="0.61" stroke-linecap="round"/><path d="M131.9 284.0L134.8 288.4" stroke="#6A3E0E" stroke-width="1.5" stroke-opacity="0.43" stroke-linecap="round"/><path d="M157.9 282.5L158.7 284.5" stroke="#6A3E0E" stroke-width="2.0" stroke-opacity="0.52" stroke-linecap="round"/><path d="M138.3 335.6L137.9 338.9" stroke="#6A3E0E" stroke-width="2.4" stroke-opacity="0.59" stroke-linecap="round"/><path d="M133.0 271.0L134.0 272.4" stroke="#6A3E0E" stroke-width="1.4" stroke-opacity="0.69" stroke-linecap="round"/><path d="M47.6 227.3L49.5 228.8" stroke="#6A3E0E" stroke-width="1.9" stroke-opacity="0.66" stroke-linecap="round"/><path d="M87.0 246.2L88.2 247.2" stroke="#6A3E0E" stroke-width="1.3" stroke-opacity="0.50" stroke-linecap="round"/><path d="M110.6 266.6L112.0 269.7" stroke="#6A3E0E" stroke-width="1.6" stroke-opacity="0.54" stroke-linecap="round"/><path d="M151.8 290.8L152.5 293.9" stroke="#6A3E0E" stroke-width="1.8" stroke-opacity="0.53" stroke-linecap="round"/><path d="M159.5 321.1L160.7 326.0" stroke="#6A3E0E" stroke-width="1.9" stroke-opacity="0.79" stroke-linecap="round"/><path d="M126.1 251.4L128.7 254.1" stroke="#6A3E0E" stroke-width="2.5" stroke-opacity="0.51" stroke-linecap="round"/><path d="M94.8 268.6L95.6 269.9" stroke="#6A3E0E" stroke-width="1.6" stroke-opacity="0.63" stroke-linecap="round"/>
<path d="M138.5 250.5L139.9 254.8" stroke="#C8A060" stroke-width="1.1" stroke-opacity="0.76" stroke-linecap="round"/><path d="M167.1 328.9L166.3 332.9" stroke="#C8A060" stroke-width="1.5" stroke-opacity="0.72" stroke-linecap="round"/><path d="M138.0 244.2L140.8 247.7" stroke="#C8A060" stroke-width="1.1" stroke-opacity="0.77" stroke-linecap="round"/><path d="M159.5 298.5L159.7 300.7" stroke="#C8A060" stroke-width="1.0" stroke-opacity="0.79" stroke-linecap="round"/><path d="M149.8 260.2L150.6 262.6" stroke="#C8A060" stroke-width="1.6" stroke-opacity="0.79" stroke-linecap="round"/><path d="M126.8 230.5L129.0 234.6" stroke="#C8A060" stroke-width="1.6" stroke-opacity="0.75" stroke-linecap="round"/><path d="M137.9 250.1L139.2 253.9" stroke="#C8A060" stroke-width="1.5" stroke-opacity="0.61" stroke-linecap="round"/><path d="M155.5 256.8L157.2 261.4" stroke="#C8A060" stroke-width="1.8" stroke-opacity="0.71" stroke-linecap="round"/><path d="M130.1 253.3L131.3 255.6" stroke="#C8A060" stroke-width="1.1" stroke-opacity="0.53" stroke-linecap="round"/><path d="M161.7 297.5L162.5 300.7" stroke="#C8A060" stroke-width="1.1" stroke-opacity="0.59" stroke-linecap="round"/><path d="M154.7 252.8L155.2 256.4" stroke="#C8A060" stroke-width="1.4" stroke-opacity="0.48" stroke-linecap="round"/><path d="M133.3 231.3L134.7 233.3" stroke="#C8A060" stroke-width="1.1" stroke-opacity="0.69" stroke-linecap="round"/><path d="M162.9 321.7L162.8 325.2" stroke="#C8A060" stroke-width="1.2" stroke-opacity="0.79" stroke-linecap="round"/><path d="M151.3 276.3L151.6 279.5" stroke="#C8A060" stroke-width="1.8" stroke-opacity="0.71" stroke-linecap="round"/><path d="M132.8 254.0L135.2 257.0" stroke="#C8A060" stroke-width="1.3" stroke-opacity="0.80" stroke-linecap="round"/><path d="M135.9 261.0L136.6 265.1" stroke="#C8A060" stroke-width="1.1" stroke-opacity="0.63" stroke-linecap="round"/><path d="M153.6 300.4L153.6 303.2" stroke="#C8A060" stroke-width="1.3" stroke-opacity="0.46" stroke-linecap="round"/><path d="M142.9 268.1L144.2 270.6" stroke="#C8A060" stroke-width="1.4" stroke-opacity="0.41" stroke-linecap="round"/><path d="M150.1 331.4L150.6 334.1" stroke="#C8A060" stroke-width="1.0" stroke-opacity="0.43" stroke-linecap="round"/><path d="M122.1 227.0L124.1 231.0" stroke="#C8A060" stroke-width="1.1" stroke-opacity="0.68" stroke-linecap="round"/><path d="M150.3 249.4L152.2 252.2" stroke="#C8A060" stroke-width="1.3" stroke-opacity="0.72" stroke-linecap="round"/><path d="M156.6 302.2L157.3 304.6" stroke="#C8A060" stroke-width="1.5" stroke-opacity="0.49" stroke-linecap="round"/><path d="M151.8 324.4L152.1 327.1" stroke="#C8A060" stroke-width="1.1" stroke-opacity="0.69" stroke-linecap="round"/><path d="M145.5 278.0L147.1 281.1" stroke="#C8A060" stroke-width="1.7" stroke-opacity="0.70" stroke-linecap="round"/><path d="M149.9 319.6L149.6 323.6" stroke="#C8A060" stroke-width="1.6" stroke-opacity="0.58" stroke-linecap="round"/><path d="M152.2 337.1L150.9 341.7" stroke="#C8A060" stroke-width="1.0" stroke-opacity="0.50" stroke-linecap="round"/><path d="M164.9 286.4L166.2 289.7" stroke="#C8A060" stroke-width="1.7" stroke-opacity="0.61" stroke-linecap="round"/><path d="M154.4 301.8L154.9 304.4" stroke="#C8A060" stroke-width="1.4" stroke-opacity="0.53" stroke-linecap="round"/><path d="M132.3 231.4L133.2 233.3" stroke="#C8A060" stroke-width="1.0" stroke-opacity="0.48" stroke-linecap="round"/><path d="M142.6 245.2L144.4 248.7" stroke="#C8A060" stroke-width="1.7" stroke-opacity="0.42" stroke-linecap="round"/><path d="M141.5 253.1L144.1 256.3" stroke="#C8A060" stroke-width="1.3" stroke-opacity="0.79" stroke-linecap="round"/><path d="M156.9 302.1L157.7 304.1" stroke="#C8A060" stroke-width="1.1" stroke-opacity="0.52" stroke-linecap="round"/><path d="M166.4 300.7L167.3 304.4" stroke="#C8A060" stroke-width="1.5" stroke-opacity="0.60" stroke-linecap="round"/><path d="M150.4 268.6L151.7 270.3" stroke="#C8A060" stroke-width="1.7" stroke-opacity="0.64" stroke-linecap="round"/><path d="M152.4 291.6L153.0 294.7" stroke="#C8A060" stroke-width="1.7" stroke-opacity="0.45" stroke-linecap="round"/><path d="M164.1 326.9L163.2 330.5" stroke="#C8A060" stroke-width="1.8" stroke-opacity="0.74" stroke-linecap="round"/><path d="M134.9 231.5L137.6 234.3" stroke="#C8A060" stroke-width="1.2" stroke-opacity="0.64" stroke-linecap="round"/><path d="M145.7 247.1L147.8 250.1" stroke="#C8A060" stroke-width="0.9" stroke-opacity="0.40" stroke-linecap="round"/><path d="M113.7 228.0L116.0 229.4" stroke="#C8A060" stroke-width="1.0" stroke-opacity="0.43" stroke-linecap="round"/><path d="M152.1 287.4L152.2 291.2" stroke="#C8A060" stroke-width="1.5" stroke-opacity="0.79" stroke-linecap="round"/><path d="M168.4 315.2L168.7 318.1" stroke="#C8A060" stroke-width="1.4" stroke-opacity="0.72" stroke-linecap="round"/><path d="M151.8 280.1L153.0 282.2" stroke="#C8A060" stroke-width="1.7" stroke-opacity="0.70" stroke-linecap="round"/><path d="M159.8 263.0L160.3 265.4" stroke="#C8A060" stroke-width="1.0" stroke-opacity="0.41" stroke-linecap="round"/><path d="M154.2 315.2L155.2 317.6" stroke="#C8A060" stroke-width="1.4" stroke-opacity="0.59" stroke-linecap="round"/><path d="M162.0 295.2L162.2 298.1" stroke="#C8A060" stroke-width="1.7" stroke-opacity="0.72" stroke-linecap="round"/><path d="M162.3 323.5L162.3 326.3" stroke="#C8A060" stroke-width="1.2" stroke-opacity="0.47" stroke-linecap="round"/><path d="M142.5 280.9L144.0 284.5" stroke="#C8A060" stroke-width="1.2" stroke-opacity="0.47" stroke-linecap="round"/><path d="M166.0 294.0L166.2 296.4" stroke="#C8A060" stroke-width="1.4" stroke-opacity="0.65" stroke-linecap="round"/><path d="M151.2 335.3L150.8 338.5" stroke="#C8A060" stroke-width="1.2" stroke-opacity="0.56" stroke-linecap="round"/><path d="M156.9 259.2L158.8 261.7" stroke="#C8A060" stroke-width="1.0" stroke-opacity="0.66" stroke-linecap="round"/>
<path d="M153.1 234.7L153.7 236.2" stroke="#566A90" stroke-width="1.5" stroke-opacity="0.75" stroke-linecap="round"/><path d="M127.7 228.1L128.9 230.4" stroke="#566A90" stroke-width="1.6" stroke-opacity="0.48" stroke-linecap="round"/><path d="M168.9 290.4L168.7 293.7" stroke="#566A90" stroke-width="2.1" stroke-opacity="0.66" stroke-linecap="round"/><path d="M163.3 260.3L164.1 262.2" stroke="#566A90" stroke-width="1.9" stroke-opacity="0.51" stroke-linecap="round"/><path d="M166.1 244.8L166.8 247.6" stroke="#566A90" stroke-width="2.3" stroke-opacity="0.48" stroke-linecap="round"/><path d="M155.9 279.5L156.4 280.7" stroke="#566A90" stroke-width="1.5" stroke-opacity="0.66" stroke-linecap="round"/><path d="M161.0 321.2L161.2 322.3" stroke="#566A90" stroke-width="1.6" stroke-opacity="0.52" stroke-linecap="round"/><path d="M137.3 234.8L138.3 235.9" stroke="#566A90" stroke-width="2.1" stroke-opacity="0.69" stroke-linecap="round"/><path d="M159.4 244.1L161.5 246.8" stroke="#566A90" stroke-width="2.2" stroke-opacity="0.45" stroke-linecap="round"/><path d="M160.4 292.7L161.9 295.3" stroke="#566A90" stroke-width="1.5" stroke-opacity="0.69" stroke-linecap="round"/><path d="M151.0 266.1L151.7 268.1" stroke="#566A90" stroke-width="1.2" stroke-opacity="0.44" stroke-linecap="round"/><path d="M147.4 230.5L148.9 233.0" stroke="#566A90" stroke-width="1.9" stroke-opacity="0.76" stroke-linecap="round"/><path d="M127.7 231.4L129.6 234.1" stroke="#566A90" stroke-width="1.2" stroke-opacity="0.59" stroke-linecap="round"/><path d="M161.2 331.0L160.4 334.1" stroke="#566A90" stroke-width="1.5" stroke-opacity="0.50" stroke-linecap="round"/><path d="M168.4 261.2L169.0 262.0" stroke="#566A90" stroke-width="1.5" stroke-opacity="0.69" stroke-linecap="round"/><path d="M144.9 230.0L146.0 231.2" stroke="#566A90" stroke-width="2.1" stroke-opacity="0.76" stroke-linecap="round"/><path d="M164.9 335.7L164.9 338.5" stroke="#566A90" stroke-width="2.1" stroke-opacity="0.71" stroke-linecap="round"/><path d="M164.3 333.1L163.5 336.3" stroke="#566A90" stroke-width="2.2" stroke-opacity="0.73" stroke-linecap="round"/><path d="M144.8 230.3L145.3 231.3" stroke="#566A90" stroke-width="1.8" stroke-opacity="0.76" stroke-linecap="round"/><path d="M168.3 275.7L168.8 278.3" stroke="#566A90" stroke-width="2.0" stroke-opacity="0.55" stroke-linecap="round"/><path d="M156.6 302.8L156.6 303.9" stroke="#566A90" stroke-width="1.9" stroke-opacity="0.69" stroke-linecap="round"/><path d="M167.7 292.2L167.8 295.4" stroke="#566A90" stroke-width="2.4" stroke-opacity="0.58" stroke-linecap="round"/><path d="M153.9 270.8L154.4 271.7" stroke="#566A90" stroke-width="1.6" stroke-opacity="0.80" stroke-linecap="round"/><path d="M168.3 313.9L168.4 315.3" stroke="#566A90" stroke-width="1.9" stroke-opacity="0.64" stroke-linecap="round"/><path d="M166.9 269.3L167.2 270.5" stroke="#566A90" stroke-width="1.5" stroke-opacity="0.49" stroke-linecap="round"/><path d="M161.5 239.1L162.8 241.6" stroke="#566A90" stroke-width="1.2" stroke-opacity="0.72" stroke-linecap="round"/><path d="M123.3 229.2L124.3 231.3" stroke="#566A90" stroke-width="2.0" stroke-opacity="0.45" stroke-linecap="round"/><path d="M162.7 259.1L163.6 260.4" stroke="#566A90" stroke-width="1.4" stroke-opacity="0.41" stroke-linecap="round"/><path d="M149.7 230.6L151.6 232.6" stroke="#566A90" stroke-width="2.0" stroke-opacity="0.73" stroke-linecap="round"/><path d="M137.3 225.2L138.7 227.2" stroke="#566A90" stroke-width="2.1" stroke-opacity="0.78" stroke-linecap="round"/><path d="M160.7 249.3L161.4 250.1" stroke="#566A90" stroke-width="1.3" stroke-opacity="0.72" stroke-linecap="round"/><path d="M139.4 249.9L140.8 251.2" stroke="#566A90" stroke-width="2.1" stroke-opacity="0.59" stroke-linecap="round"/><path d="M167.7 258.0L168.1 260.0" stroke="#566A90" stroke-width="2.4" stroke-opacity="0.70" stroke-linecap="round"/><path d="M162.5 283.1L162.8 284.4" stroke="#566A90" stroke-width="1.3" stroke-opacity="0.58" stroke-linecap="round"/><path d="M160.9 292.8L161.7 294.3" stroke="#566A90" stroke-width="1.9" stroke-opacity="0.56" stroke-linecap="round"/><path d="M158.8 248.9L159.9 250.0" stroke="#566A90" stroke-width="1.2" stroke-opacity="0.72" stroke-linecap="round"/><path d="M149.9 243.0L150.4 243.9" stroke="#566A90" stroke-width="1.5" stroke-opacity="0.65" stroke-linecap="round"/><path d="M160.0 319.3L159.2 322.3" stroke="#566A90" stroke-width="1.9" stroke-opacity="0.77" stroke-linecap="round"/><path d="M166.9 280.9L167.6 284.3" stroke="#566A90" stroke-width="1.7" stroke-opacity="0.43" stroke-linecap="round"/><path d="M165.2 280.2L165.6 281.6" stroke="#566A90" stroke-width="1.6" stroke-opacity="0.47" stroke-linecap="round"/><path d="M151.9 245.1L153.7 247.2" stroke="#566A90" stroke-width="1.8" stroke-opacity="0.80" stroke-linecap="round"/><path d="M155.5 276.0L156.4 278.4" stroke="#566A90" stroke-width="1.4" stroke-opacity="0.54" stroke-linecap="round"/><path d="M162.4 310.3L162.2 311.5" stroke="#566A90" stroke-width="1.2" stroke-opacity="0.42" stroke-linecap="round"/><path d="M141.7 257.0L142.4 257.8" stroke="#566A90" stroke-width="1.8" stroke-opacity="0.74" stroke-linecap="round"/><path d="M165.0 298.5L165.4 301.6" stroke="#566A90" stroke-width="2.3" stroke-opacity="0.67" stroke-linecap="round"/><path d="M158.1 280.4L158.5 281.9" stroke="#566A90" stroke-width="2.2" stroke-opacity="0.51" stroke-linecap="round"/><path d="M168.6 262.4L170.0 265.6" stroke="#566A90" stroke-width="1.8" stroke-opacity="0.47" stroke-linecap="round"/><path d="M169.0 296.0L169.4 298.1" stroke="#566A90" stroke-width="2.0" stroke-opacity="0.74" stroke-linecap="round"/><path d="M135.8 237.1L136.5 238.2" stroke="#566A90" stroke-width="1.4" stroke-opacity="0.62" stroke-linecap="round"/><path d="M161.0 276.3L162.0 279.0" stroke="#566A90" stroke-width="1.7" stroke-opacity="0.45" stroke-linecap="round"/><path d="M161.3 279.6L162.7 282.0" stroke="#566A90" stroke-width="2.0" stroke-opacity="0.45" stroke-linecap="round"/><path d="M164.4 267.5L164.6 268.5" stroke="#566A90" stroke-width="2.0" stroke-opacity="0.42" stroke-linecap="round"/><path d="M133.7 232.8L134.4 234.2" stroke="#566A90" stroke-width="2.1" stroke-opacity="0.49" stroke-linecap="round"/><path d="M162.2 239.9L162.8 243.1" stroke="#566A90" stroke-width="2.1" stroke-opacity="0.51" stroke-linecap="round"/><path d="M160.6 301.5L160.5 304.5" stroke="#566A90" stroke-width="1.4" stroke-opacity="0.60" stroke-linecap="round"/><path d="M150.1 245.6L150.9 247.2" stroke="#566A90" stroke-width="1.9" stroke-opacity="0.78" stroke-linecap="round"/><path d="M161.3 278.6L161.5 280.1" stroke="#566A90" stroke-width="2.0" stroke-opacity="0.74" stroke-linecap="round"/><path d="M158.6 272.1L160.0 274.2" stroke="#566A90" stroke-width="1.6" stroke-opacity="0.53" stroke-linecap="round"/><path d="M131.5 233.5L132.8 235.2" stroke="#566A90" stroke-width="2.2" stroke-opacity="0.65" stroke-linecap="round"/><path d="M160.5 234.1L161.2 235.8" stroke="#566A90" stroke-width="1.8" stroke-opacity="0.68" stroke-linecap="round"/>
<path d="M132.5 243.5L133.0 244.6" stroke="#D4DEEA" stroke-width="1.3" stroke-opacity="0.51" stroke-linecap="round"/><path d="M160.8 339.2L160.3 341.6" stroke="#D4DEEA" stroke-width="1.9" stroke-opacity="0.64" stroke-linecap="round"/><path d="M160.3 286.4L161.6 288.8" stroke="#D4DEEA" stroke-width="1.7" stroke-opacity="0.69" stroke-linecap="round"/><path d="M131.5 228.0L133.0 229.5" stroke="#D4DEEA" stroke-width="1.9" stroke-opacity="0.74" stroke-linecap="round"/><path d="M158.8 299.1L158.8 301.3" stroke="#D4DEEA" stroke-width="2.1" stroke-opacity="0.57" stroke-linecap="round"/><path d="M128.5 238.1L129.2 239.0" stroke="#D4DEEA" stroke-width="2.2" stroke-opacity="0.70" stroke-linecap="round"/><path d="M131.1 226.4L132.1 227.4" stroke="#D4DEEA" stroke-width="2.3" stroke-opacity="0.46" stroke-linecap="round"/><path d="M165.1 328.8L165.7 331.1" stroke="#D4DEEA" stroke-width="2.1" stroke-opacity="0.71" stroke-linecap="round"/><path d="M151.1 265.0L151.4 266.0" stroke="#D4DEEA" stroke-width="1.9" stroke-opacity="0.83" stroke-linecap="round"/><path d="M136.6 232.4L137.6 233.7" stroke="#D4DEEA" stroke-width="1.6" stroke-opacity="0.78" stroke-linecap="round"/><path d="M167.7 315.7L168.1 317.5" stroke="#D4DEEA" stroke-width="2.0" stroke-opacity="0.50" stroke-linecap="round"/><path d="M157.7 317.1L158.1 319.4" stroke="#D4DEEA" stroke-width="1.6" stroke-opacity="0.47" stroke-linecap="round"/><path d="M166.4 268.0L167.5 270.7" stroke="#D4DEEA" stroke-width="2.4" stroke-opacity="0.48" stroke-linecap="round"/><path d="M160.8 329.6L161.4 331.9" stroke="#D4DEEA" stroke-width="2.1" stroke-opacity="0.65" stroke-linecap="round"/><path d="M161.9 230.4L164.0 232.4" stroke="#D4DEEA" stroke-width="1.3" stroke-opacity="0.82" stroke-linecap="round"/><path d="M123.2 230.6L125.2 233.0" stroke="#D4DEEA" stroke-width="1.4" stroke-opacity="0.57" stroke-linecap="round"/><path d="M155.8 250.4L157.2 251.9" stroke="#D4DEEA" stroke-width="1.7" stroke-opacity="0.83" stroke-linecap="round"/><path d="M147.3 249.4L148.1 251.0" stroke="#D4DEEA" stroke-width="1.9" stroke-opacity="0.70" stroke-linecap="round"/><path d="M163.0 241.0L164.4 244.1" stroke="#D4DEEA" stroke-width="1.2" stroke-opacity="0.60" stroke-linecap="round"/><path d="M158.5 326.2L158.1 328.4" stroke="#D4DEEA" stroke-width="1.6" stroke-opacity="0.75" stroke-linecap="round"/><path d="M160.7 259.5L161.2 260.9" stroke="#D4DEEA" stroke-width="1.6" stroke-opacity="0.74" stroke-linecap="round"/><path d="M168.5 324.7L168.2 326.8" stroke="#D4DEEA" stroke-width="2.0" stroke-opacity="0.77" stroke-linecap="round"/><path d="M169.2 233.4L170.2 234.6" stroke="#D4DEEA" stroke-width="2.2" stroke-opacity="0.82" stroke-linecap="round"/><path d="M157.2 234.9L159.3 237.6" stroke="#D4DEEA" stroke-width="1.9" stroke-opacity="0.75" stroke-linecap="round"/><path d="M165.9 235.3L166.8 237.7" stroke="#D4DEEA" stroke-width="2.3" stroke-opacity="0.74" stroke-linecap="round"/><path d="M166.8 266.0L167.1 268.3" stroke="#D4DEEA" stroke-width="1.2" stroke-opacity="0.80" stroke-linecap="round"/><path d="M160.6 232.3L161.1 233.4" stroke="#D4DEEA" stroke-width="2.3" stroke-opacity="0.51" stroke-linecap="round"/><path d="M127.2 235.8L128.0 236.7" stroke="#D4DEEA" stroke-width="1.7" stroke-opacity="0.58" stroke-linecap="round"/><path d="M152.4 239.6L153.2 241.0" stroke="#D4DEEA" stroke-width="1.3" stroke-opacity="0.76" stroke-linecap="round"/><path d="M158.2 263.4L159.3 265.0" stroke="#D4DEEA" stroke-width="2.1" stroke-opacity="0.60" stroke-linecap="round"/><path d="M126.8 234.7L128.3 236.2" stroke="#D4DEEA" stroke-width="1.5" stroke-opacity="0.59" stroke-linecap="round"/><path d="M152.3 240.4L153.2 241.6" stroke="#D4DEEA" stroke-width="1.8" stroke-opacity="0.78" stroke-linecap="round"/><path d="M168.9 306.3L169.5 309.0" stroke="#D4DEEA" stroke-width="2.4" stroke-opacity="0.84" stroke-linecap="round"/><path d="M169.9 318.6L169.6 320.2" stroke="#D4DEEA" stroke-width="1.9" stroke-opacity="0.47" stroke-linecap="round"/><path d="M159.7 258.6L160.8 261.3" stroke="#D4DEEA" stroke-width="1.8" stroke-opacity="0.66" stroke-linecap="round"/><path d="M164.8 318.5L165.5 320.5" stroke="#D4DEEA" stroke-width="1.5" stroke-opacity="0.76" stroke-linecap="round"/><path d="M163.3 265.1L164.0 268.0" stroke="#D4DEEA" stroke-width="1.9" stroke-opacity="0.60" stroke-linecap="round"/><path d="M140.5 235.3L141.7 237.8" stroke="#D4DEEA" stroke-width="1.8" stroke-opacity="0.83" stroke-linecap="round"/><path d="M165.7 308.5L166.8 311.2" stroke="#D4DEEA" stroke-width="1.7" stroke-opacity="0.65" stroke-linecap="round"/><path d="M149.0 256.2L149.5 257.6" stroke="#D4DEEA" stroke-width="1.5" stroke-opacity="0.49" stroke-linecap="round"/><path d="M146.5 255.6L146.8 257.5" stroke="#D4DEEA" stroke-width="2.3" stroke-opacity="0.71" stroke-linecap="round"/><path d="M155.7 225.4L156.9 226.4" stroke="#D4DEEA" stroke-width="1.6" stroke-opacity="0.82" stroke-linecap="round"/><path d="M169.6 292.1L170.2 294.7" stroke="#D4DEEA" stroke-width="1.9" stroke-opacity="0.61" stroke-linecap="round"/><path d="M167.6 329.9L167.8 331.2" stroke="#D4DEEA" stroke-width="2.3" stroke-opacity="0.46" stroke-linecap="round"/><path d="M164.3 330.3L164.7 333.4" stroke="#D4DEEA" stroke-width="2.1" stroke-opacity="0.82" stroke-linecap="round"/><path d="M159.9 311.7L159.8 313.2" stroke="#D4DEEA" stroke-width="2.2" stroke-opacity="0.45" stroke-linecap="round"/><path d="M159.4 274.0L161.2 276.5" stroke="#D4DEEA" stroke-width="1.6" stroke-opacity="0.57" stroke-linecap="round"/><path d="M155.7 238.1L156.6 239.6" stroke="#D4DEEA" stroke-width="2.2" stroke-opacity="0.75" stroke-linecap="round"/><path d="M168.7 324.6L168.4 327.0" stroke="#D4DEEA" stroke-width="2.2" stroke-opacity="0.66" stroke-linecap="round"/><path d="M143.9 243.3L144.3 244.3" stroke="#D4DEEA" stroke-width="2.2" stroke-opacity="0.53" stroke-linecap="round"/><path d="M161.0 238.4L162.3 240.9" stroke="#D4DEEA" stroke-width="2.3" stroke-opacity="0.63" stroke-linecap="round"/><path d="M145.3 261.3L147.5 263.7" stroke="#D4DEEA" stroke-width="2.3" stroke-opacity="0.46" stroke-linecap="round"/><path d="M139.0 229.4L140.0 230.4" stroke="#D4DEEA" stroke-width="2.2" stroke-opacity="0.46" stroke-linecap="round"/><path d="M147.5 252.1L149.0 254.5" stroke="#D4DEEA" stroke-width="2.1" stroke-opacity="0.71" stroke-linecap="round"/><path d="M164.6 304.9L164.6 306.9" stroke="#D4DEEA" stroke-width="1.8" stroke-opacity="0.83" stroke-linecap="round"/><path d="M164.1 280.9L164.1 283.1" stroke="#D4DEEA" stroke-width="2.1" stroke-opacity="0.79" stroke-linecap="round"/><path d="M164.4 309.6L164.7 312.1" stroke="#D4DEEA" stroke-width="1.3" stroke-opacity="0.74" stroke-linecap="round"/><path d="M165.1 227.5L166.5 229.2" stroke="#D4DEEA" stroke-width="1.9" stroke-opacity="0.71" stroke-linecap="round"/><path d="M153.0 279.9L153.3 281.8" stroke="#D4DEEA" stroke-width="2.0" stroke-opacity="0.49" stroke-linecap="round"/><path d="M150.5 232.1L152.8 234.5" stroke="#D4DEEA" stroke-width="1.4" stroke-opacity="0.70" stroke-linecap="round"/><path d="M163.3 257.9L164.2 260.0" stroke="#D4DEEA" stroke-width="2.4" stroke-opacity="0.51" stroke-linecap="round"/><path d="M167.7 267.7L168.2 268.6" stroke="#D4DEEA" stroke-width="1.6" stroke-opacity="0.66" stroke-linecap="round"/><path d="M160.6 281.1L162.3 283.8" stroke="#D4DEEA" stroke-width="1.7" stroke-opacity="0.73" stroke-linecap="round"/><path d="M152.4 251.7L154.4 253.8" stroke="#D4DEEA" stroke-width="1.8" stroke-opacity="0.57" stroke-linecap="round"/><path d="M154.7 296.9L155.1 299.6" stroke="#D4DEEA" stroke-width="1.5" stroke-opacity="0.68" stroke-linecap="round"/><path d="M160.6 226.8L161.8 228.2" stroke="#D4DEEA" stroke-width="1.5" stroke-opacity="0.76" stroke-linecap="round"/><path d="M156.2 292.9L156.9 295.7" stroke="#D4DEEA" stroke-width="2.3" stroke-opacity="0.76" stroke-linecap="round"/><path d="M154.6 279.7L156.0 282.5" stroke="#D4DEEA" stroke-width="2.3" stroke-opacity="0.67" stroke-linecap="round"/><path d="M160.7 289.2L161.5 291.4" stroke="#D4DEEA" stroke-width="1.7" stroke-opacity="0.56" stroke-linecap="round"/><path d="M157.7 230.0L158.0 231.1" stroke="#D4DEEA" stroke-width="2.0" stroke-opacity="0.56" stroke-linecap="round"/>
<path d="M168.1 253.3L169.8 256.3" stroke="#2A1704" stroke-width="1.5" stroke-opacity="0.51" stroke-linecap="round"/><path d="M169.0 234.6L170.3 238.0" stroke="#2A1704" stroke-width="1.7" stroke-opacity="0.59" stroke-linecap="round"/><path d="M169.2 306.4L169.2 309.7" stroke="#2A1704" stroke-width="1.9" stroke-opacity="0.46" stroke-linecap="round"/><path d="M160.2 243.6L162.0 246.4" stroke="#2A1704" stroke-width="1.0" stroke-opacity="0.66" stroke-linecap="round"/><path d="M159.5 243.9L160.6 245.6" stroke="#2A1704" stroke-width="1.3" stroke-opacity="0.48" stroke-linecap="round"/><path d="M168.1 253.9L168.8 255.8" stroke="#2A1704" stroke-width="1.8" stroke-opacity="0.69" stroke-linecap="round"/><path d="M156.8 246.1L158.9 249.0" stroke="#2A1704" stroke-width="1.8" stroke-opacity="0.55" stroke-linecap="round"/><path d="M166.0 275.7L167.5 278.0" stroke="#2A1704" stroke-width="1.3" stroke-opacity="0.44" stroke-linecap="round"/><path d="M167.9 287.5L168.1 289.3" stroke="#2A1704" stroke-width="1.0" stroke-opacity="0.67" stroke-linecap="round"/><path d="M151.5 226.6L153.1 228.2" stroke="#2A1704" stroke-width="1.2" stroke-opacity="0.60" stroke-linecap="round"/><path d="M168.2 287.6L169.5 290.6" stroke="#2A1704" stroke-width="1.9" stroke-opacity="0.69" stroke-linecap="round"/><path d="M169.1 275.0L170.0 277.0" stroke="#2A1704" stroke-width="1.3" stroke-opacity="0.46" stroke-linecap="round"/><path d="M169.6 232.4L170.3 233.9" stroke="#2A1704" stroke-width="2.0" stroke-opacity="0.58" stroke-linecap="round"/><path d="M165.7 247.0L167.7 249.5" stroke="#2A1704" stroke-width="1.5" stroke-opacity="0.60" stroke-linecap="round"/><path d="M139.8 227.9L140.6 229.2" stroke="#2A1704" stroke-width="1.5" stroke-opacity="0.62" stroke-linecap="round"/><path d="M157.9 266.6L159.1 269.2" stroke="#2A1704" stroke-width="1.9" stroke-opacity="0.74" stroke-linecap="round"/><path d="M169.6 281.4L169.8 284.8" stroke="#2A1704" stroke-width="1.3" stroke-opacity="0.41" stroke-linecap="round"/><path d="M160.8 255.9L161.3 257.9" stroke="#2A1704" stroke-width="1.9" stroke-opacity="0.49" stroke-linecap="round"/><path d="M166.1 247.3L167.0 249.4" stroke="#2A1704" stroke-width="1.7" stroke-opacity="0.52" stroke-linecap="round"/><path d="M158.3 229.9L160.1 233.1" stroke="#2A1704" stroke-width="1.9" stroke-opacity="0.56" stroke-linecap="round"/><path d="M167.1 288.5L167.7 291.6" stroke="#2A1704" stroke-width="1.3" stroke-opacity="0.79" stroke-linecap="round"/><path d="M156.3 234.3L157.6 237.4" stroke="#2A1704" stroke-width="1.9" stroke-opacity="0.79" stroke-linecap="round"/><path d="M146.5 228.1L147.6 229.7" stroke="#2A1704" stroke-width="1.2" stroke-opacity="0.55" stroke-linecap="round"/><path d="M149.0 231.7L150.5 233.9" stroke="#2A1704" stroke-width="1.3" stroke-opacity="0.47" stroke-linecap="round"/><path d="M166.9 228.0L168.2 229.5" stroke="#2A1704" stroke-width="1.8" stroke-opacity="0.67" stroke-linecap="round"/><path d="M168.9 296.7L169.7 298.9" stroke="#2A1704" stroke-width="1.2" stroke-opacity="0.64" stroke-linecap="round"/><path d="M143.7 228.3L146.1 230.3" stroke="#2A1704" stroke-width="1.8" stroke-opacity="0.44" stroke-linecap="round"/><path d="M167.9 283.2L167.8 287.0" stroke="#2A1704" stroke-width="1.0" stroke-opacity="0.71" stroke-linecap="round"/><path d="M155.8 227.5L156.9 229.0" stroke="#2A1704" stroke-width="1.6" stroke-opacity="0.72" stroke-linecap="round"/><path d="M164.9 263.3L165.8 267.2" stroke="#2A1704" stroke-width="1.0" stroke-opacity="0.64" stroke-linecap="round"/><path d="M159.4 254.4L161.0 256.3" stroke="#2A1704" stroke-width="1.8" stroke-opacity="0.48" stroke-linecap="round"/><path d="M152.0 228.4L153.0 230.1" stroke="#2A1704" stroke-width="1.7" stroke-opacity="0.67" stroke-linecap="round"/><path d="M165.7 277.6L166.5 280.9" stroke="#2A1704" stroke-width="1.0" stroke-opacity="0.62" stroke-linecap="round"/><path d="M168.3 299.6L168.1 301.8" stroke="#2A1704" stroke-width="1.7" stroke-opacity="0.77" stroke-linecap="round"/><path d="M149.3 236.1L150.5 239.6" stroke="#2A1704" stroke-width="1.8" stroke-opacity="0.70" stroke-linecap="round"/><path d="M150.2 244.7L152.5 247.7" stroke="#2A1704" stroke-width="1.0" stroke-opacity="0.43" stroke-linecap="round"/><path d="M162.9 266.1L163.4 268.4" stroke="#2A1704" stroke-width="1.2" stroke-opacity="0.70" stroke-linecap="round"/><path d="M159.2 267.0L159.6 270.7" stroke="#2A1704" stroke-width="1.5" stroke-opacity="0.77" stroke-linecap="round"/><path d="M166.0 225.5L166.8 228.3" stroke="#2A1704" stroke-width="1.3" stroke-opacity="0.55" stroke-linecap="round"/><path d="M152.6 253.9L153.7 256.0" stroke="#2A1704" stroke-width="1.3" stroke-opacity="0.60" stroke-linecap="round"/>
<path d="M106.7 239.5L104.4 241.0" stroke="#3A2006" stroke-width="1.9" stroke-opacity="0.50" stroke-linecap="round"/><path d="M64.7 241.5L63.8 241.7" stroke="#3A2006" stroke-width="2.5" stroke-opacity="0.68" stroke-linecap="round"/><path d="M94.9 275.1L94.8 275.9" stroke="#3A2006" stroke-width="2.3" stroke-opacity="0.74" stroke-linecap="round"/><path d="M102.0 253.4L102.2 252.8" stroke="#3A2006" stroke-width="2.2" stroke-opacity="0.60" stroke-linecap="round"/><path d="M92.1 267.5L94.6 268.9" stroke="#3A2006" stroke-width="2.6" stroke-opacity="0.64" stroke-linecap="round"/><path d="M79.7 242.6L81.3 241.5" stroke="#3A2006" stroke-width="1.9" stroke-opacity="0.88" stroke-linecap="round"/><path d="M50.4 238.7L48.7 238.3" stroke="#3A2006" stroke-width="1.9" stroke-opacity="0.79" stroke-linecap="round"/><path d="M103.6 237.1L104.4 238.6" stroke="#3A2006" stroke-width="2.2" stroke-opacity="0.76" stroke-linecap="round"/><path d="M96.7 250.8L97.1 251.8" stroke="#3A2006" stroke-width="1.6" stroke-opacity="0.55" stroke-linecap="round"/><path d="M90.5 260.1L91.4 259.0" stroke="#3A2006" stroke-width="2.8" stroke-opacity="0.66" stroke-linecap="round"/><path d="M97.6 240.8L98.4 241.3" stroke="#3A2006" stroke-width="2.4" stroke-opacity="0.70" stroke-linecap="round"/><path d="M58.7 234.0L61.1 233.6" stroke="#3A2006" stroke-width="2.8" stroke-opacity="0.83" stroke-linecap="round"/><path d="M48.8 226.0L48.2 226.0" stroke="#3A2006" stroke-width="2.1" stroke-opacity="0.64" stroke-linecap="round"/><path d="M78.2 225.9L79.9 227.9" stroke="#3A2006" stroke-width="1.8" stroke-opacity="0.83" stroke-linecap="round"/><path d="M51.4 236.0L49.6 233.6" stroke="#3A2006" stroke-width="1.7" stroke-opacity="0.51" stroke-linecap="round"/><path d="M37.1 231.7L36.4 234.5" stroke="#3A2006" stroke-width="1.7" stroke-opacity="0.63" stroke-linecap="round"/><path d="M76.2 235.8L77.0 235.4" stroke="#3A2006" stroke-width="1.5" stroke-opacity="0.89" stroke-linecap="round"/><path d="M108.8 254.4L107.3 255.7" stroke="#3A2006" stroke-width="2.0" stroke-opacity="0.86" stroke-linecap="round"/><path d="M106.3 241.6L107.3 244.3" stroke="#3A2006" stroke-width="2.8" stroke-opacity="0.68" stroke-linecap="round"/><path d="M84.6 231.4L86.7 232.1" stroke="#3A2006" stroke-width="2.8" stroke-opacity="0.63" stroke-linecap="round"/><path d="M90.0 273.3L90.4 274.5" stroke="#3A2006" stroke-width="2.0" stroke-opacity="0.66" stroke-linecap="round"/><path d="M45.8 239.4L47.4 238.5" stroke="#3A2006" stroke-width="2.7" stroke-opacity="0.54" stroke-linecap="round"/><path d="M55.8 230.5L58.0 231.0" stroke="#3A2006" stroke-width="2.7" stroke-opacity="0.52" stroke-linecap="round"/><path d="M60.3 243.3L61.1 244.9" stroke="#3A2006" stroke-width="1.9" stroke-opacity="0.89" stroke-linecap="round"/><path d="M81.4 248.3L82.6 248.2" stroke="#3A2006" stroke-width="2.1" stroke-opacity="0.69" stroke-linecap="round"/><path d="M93.6 231.1L96.2 230.2" stroke="#3A2006" stroke-width="2.4" stroke-opacity="0.84" stroke-linecap="round"/><path d="M57.2 236.4L56.3 237.2" stroke="#3A2006" stroke-width="1.4" stroke-opacity="0.71" stroke-linecap="round"/><path d="M69.0 237.4L68.2 240.1" stroke="#3A2006" stroke-width="1.8" stroke-opacity="0.59" stroke-linecap="round"/><path d="M59.7 247.7L62.5 246.8" stroke="#3A2006" stroke-width="1.9" stroke-opacity="0.70" stroke-linecap="round"/><path d="M80.9 245.7L81.5 247.2" stroke="#3A2006" stroke-width="2.7" stroke-opacity="0.54" stroke-linecap="round"/><path d="M94.0 247.2L93.2 247.4" stroke="#3A2006" stroke-width="2.8" stroke-opacity="0.69" stroke-linecap="round"/><path d="M101.6 250.3L100.0 251.1" stroke="#3A2006" stroke-width="2.4" stroke-opacity="0.77" stroke-linecap="round"/><path d="M93.4 238.7L91.0 239.4" stroke="#3A2006" stroke-width="1.6" stroke-opacity="0.70" stroke-linecap="round"/><path d="M84.3 240.5L83.7 241.6" stroke="#3A2006" stroke-width="2.5" stroke-opacity="0.84" stroke-linecap="round"/><path d="M107.9 266.2L109.4 267.2" stroke="#3A2006" stroke-width="1.4" stroke-opacity="0.85" stroke-linecap="round"/><path d="M107.1 277.6L109.0 276.9" stroke="#3A2006" stroke-width="1.9" stroke-opacity="0.81" stroke-linecap="round"/><path d="M106.1 226.5L103.8 226.6" stroke="#3A2006" stroke-width="1.6" stroke-opacity="0.61" stroke-linecap="round"/><path d="M90.4 238.8L91.9 238.0" stroke="#3A2006" stroke-width="1.8" stroke-opacity="0.52" stroke-linecap="round"/><path d="M51.0 232.0L52.4 232.2" stroke="#3A2006" stroke-width="1.6" stroke-opacity="0.63" stroke-linecap="round"/><path d="M107.7 269.8L108.4 269.1" stroke="#3A2006" stroke-width="2.6" stroke-opacity="0.49" stroke-linecap="round"/>
<path d="M88.9 313.8L88.0 314.4" stroke="#6A4A1E" stroke-width="1.4" stroke-opacity="0.48" stroke-linecap="round"/><path d="M61.8 305.8L62.1 307.6" stroke="#6A4A1E" stroke-width="1.3" stroke-opacity="0.40" stroke-linecap="round"/><path d="M37.5 330.8L38.6 330.9" stroke="#6A4A1E" stroke-width="1.6" stroke-opacity="0.29" stroke-linecap="round"/><path d="M79.4 240.8L80.2 241.3" stroke="#6A4A1E" stroke-width="2.0" stroke-opacity="0.27" stroke-linecap="round"/><path d="M102.5 304.3L101.1 304.5" stroke="#6A4A1E" stroke-width="1.4" stroke-opacity="0.44" stroke-linecap="round"/><path d="M47.8 245.3L46.9 246.7" stroke="#6A4A1E" stroke-width="1.9" stroke-opacity="0.46" stroke-linecap="round"/><path d="M34.7 289.3L36.1 290.4" stroke="#6A4A1E" stroke-width="1.4" stroke-opacity="0.36" stroke-linecap="round"/><path d="M99.8 275.6L101.2 275.9" stroke="#6A4A1E" stroke-width="1.1" stroke-opacity="0.55" stroke-linecap="round"/><path d="M35.9 247.3L35.9 248.1" stroke="#6A4A1E" stroke-width="1.5" stroke-opacity="0.58" stroke-linecap="round"/><path d="M73.0 275.1L71.2 275.6" stroke="#6A4A1E" stroke-width="1.0" stroke-opacity="0.53" stroke-linecap="round"/><path d="M90.1 306.7L89.3 308.0" stroke="#6A4A1E" stroke-width="1.9" stroke-opacity="0.53" stroke-linecap="round"/><path d="M38.5 286.6L39.2 287.2" stroke="#6A4A1E" stroke-width="1.1" stroke-opacity="0.25" stroke-linecap="round"/><path d="M74.9 296.2L74.4 296.5" stroke="#6A4A1E" stroke-width="1.1" stroke-opacity="0.57" stroke-linecap="round"/><path d="M92.5 242.5L92.5 244.0" stroke="#6A4A1E" stroke-width="1.5" stroke-opacity="0.44" stroke-linecap="round"/><path d="M35.4 232.7L36.6 233.0" stroke="#6A4A1E" stroke-width="1.9" stroke-opacity="0.35" stroke-linecap="round"/><path d="M17.6 299.1L16.9 300.6" stroke="#6A4A1E" stroke-width="1.9" stroke-opacity="0.49" stroke-linecap="round"/><path d="M104.3 316.5L105.2 317.3" stroke="#6A4A1E" stroke-width="1.6" stroke-opacity="0.39" stroke-linecap="round"/><path d="M59.3 267.4L60.3 268.3" stroke="#6A4A1E" stroke-width="1.3" stroke-opacity="0.30" stroke-linecap="round"/><path d="M74.8 296.4L74.0 298.0" stroke="#6A4A1E" stroke-width="1.8" stroke-opacity="0.46" stroke-linecap="round"/><path d="M105.2 290.0L105.2 290.8" stroke="#6A4A1E" stroke-width="1.4" stroke-opacity="0.34" stroke-linecap="round"/><path d="M41.4 246.6L42.7 247.0" stroke="#6A4A1E" stroke-width="1.8" stroke-opacity="0.50" stroke-linecap="round"/><path d="M103.7 329.7L104.9 330.6" stroke="#6A4A1E" stroke-width="1.1" stroke-opacity="0.30" stroke-linecap="round"/><path d="M18.8 245.9L17.1 246.6" stroke="#6A4A1E" stroke-width="1.0" stroke-opacity="0.29" stroke-linecap="round"/><path d="M98.3 262.3L98.1 263.3" stroke="#6A4A1E" stroke-width="1.6" stroke-opacity="0.58" stroke-linecap="round"/><path d="M22.7 273.3L21.6 274.6" stroke="#6A4A1E" stroke-width="1.3" stroke-opacity="0.26" stroke-linecap="round"/><path d="M38.4 289.8L37.1 290.2" stroke="#6A4A1E" stroke-width="1.4" stroke-opacity="0.51" stroke-linecap="round"/><path d="M108.3 279.5L108.0 280.8" stroke="#6A4A1E" stroke-width="1.9" stroke-opacity="0.28" stroke-linecap="round"/><path d="M56.0 331.2L55.9 332.3" stroke="#6A4A1E" stroke-width="1.4" stroke-opacity="0.51" stroke-linecap="round"/><path d="M81.2 296.8L80.2 297.1" stroke="#6A4A1E" stroke-width="1.6" stroke-opacity="0.58" stroke-linecap="round"/><path d="M83.4 323.9L82.9 324.2" stroke="#6A4A1E" stroke-width="1.2" stroke-opacity="0.49" stroke-linecap="round"/><path d="M90.3 317.9L91.3 318.3" stroke="#6A4A1E" stroke-width="1.8" stroke-opacity="0.50" stroke-linecap="round"/><path d="M69.4 288.2L68.8 289.2" stroke="#6A4A1E" stroke-width="2.0" stroke-opacity="0.52" stroke-linecap="round"/><path d="M62.7 290.1L63.5 290.4" stroke="#6A4A1E" stroke-width="1.7" stroke-opacity="0.53" stroke-linecap="round"/><path d="M40.9 247.6L40.9 248.5" stroke="#6A4A1E" stroke-width="1.2" stroke-opacity="0.34" stroke-linecap="round"/><path d="M54.6 324.0L54.3 324.6" stroke="#6A4A1E" stroke-width="1.1" stroke-opacity="0.48" stroke-linecap="round"/><path d="M77.4 244.4L78.9 245.4" stroke="#6A4A1E" stroke-width="1.7" stroke-opacity="0.54" stroke-linecap="round"/><path d="M78.8 261.6L77.5 262.9" stroke="#6A4A1E" stroke-width="1.6" stroke-opacity="0.46" stroke-linecap="round"/><path d="M104.5 336.8L104.1 338.0" stroke="#6A4A1E" stroke-width="1.5" stroke-opacity="0.40" stroke-linecap="round"/><path d="M80.3 281.1L80.8 281.8" stroke="#6A4A1E" stroke-width="1.6" stroke-opacity="0.52" stroke-linecap="round"/><path d="M34.0 276.8L34.7 277.0" stroke="#6A4A1E" stroke-width="1.3" stroke-opacity="0.58" stroke-linecap="round"/>
<path d="M25.1 284.5L26.9 284.6" stroke="#8C94A8" stroke-width="2.0" stroke-opacity="0.39" stroke-linecap="round"/><path d="M50.2 236.8L49.9 237.3" stroke="#8C94A8" stroke-width="1.6" stroke-opacity="0.38" stroke-linecap="round"/><path d="M76.9 306.6L78.6 307.4" stroke="#8C94A8" stroke-width="2.0" stroke-opacity="0.58" stroke-linecap="round"/><path d="M48.5 239.6L48.7 241.5" stroke="#8C94A8" stroke-width="1.1" stroke-opacity="0.53" stroke-linecap="round"/><path d="M93.1 277.8L92.4 279.4" stroke="#8C94A8" stroke-width="1.9" stroke-opacity="0.47" stroke-linecap="round"/><path d="M90.3 322.7L91.0 323.1" stroke="#8C94A8" stroke-width="1.4" stroke-opacity="0.39" stroke-linecap="round"/><path d="M16.6 276.5L15.5 276.7" stroke="#8C94A8" stroke-width="1.4" stroke-opacity="0.48" stroke-linecap="round"/><path d="M18.6 244.8L18.4 245.8" stroke="#8C94A8" stroke-width="1.2" stroke-opacity="0.32" stroke-linecap="round"/><path d="M102.9 311.2L102.5 312.5" stroke="#8C94A8" stroke-width="1.2" stroke-opacity="0.43" stroke-linecap="round"/><path d="M81.0 278.5L80.8 279.1" stroke="#8C94A8" stroke-width="1.3" stroke-opacity="0.42" stroke-linecap="round"/><path d="M92.4 333.7L92.6 334.9" stroke="#8C94A8" stroke-width="1.6" stroke-opacity="0.34" stroke-linecap="round"/><path d="M36.3 264.5L36.9 264.6" stroke="#8C94A8" stroke-width="2.0" stroke-opacity="0.55" stroke-linecap="round"/><path d="M45.1 265.7L44.6 265.8" stroke="#8C94A8" stroke-width="1.4" stroke-opacity="0.52" stroke-linecap="round"/><path d="M81.8 339.8L80.4 339.6" stroke="#8C94A8" stroke-width="1.7" stroke-opacity="0.36" stroke-linecap="round"/><path d="M65.0 256.1L63.6 257.0" stroke="#8C94A8" stroke-width="1.8" stroke-opacity="0.49" stroke-linecap="round"/><path d="M89.3 242.2L89.2 242.9" stroke="#8C94A8" stroke-width="1.4" stroke-opacity="0.41" stroke-linecap="round"/><path d="M54.2 284.7L55.4 284.8" stroke="#8C94A8" stroke-width="1.8" stroke-opacity="0.31" stroke-linecap="round"/><path d="M62.8 225.7L61.2 226.7" stroke="#8C94A8" stroke-width="1.5" stroke-opacity="0.44" stroke-linecap="round"/><path d="M87.4 234.1L88.1 235.1" stroke="#8C94A8" stroke-width="1.5" stroke-opacity="0.41" stroke-linecap="round"/><path d="M29.2 292.9L29.3 293.6" stroke="#8C94A8" stroke-width="1.3" stroke-opacity="0.47" stroke-linecap="round"/><path d="M46.4 307.8L46.3 308.3" stroke="#8C94A8" stroke-width="1.9" stroke-opacity="0.40" stroke-linecap="round"/><path d="M90.0 324.3L88.4 324.8" stroke="#8C94A8" stroke-width="1.6" stroke-opacity="0.33" stroke-linecap="round"/><path d="M44.7 255.4L43.2 256.3" stroke="#8C94A8" stroke-width="1.9" stroke-opacity="0.43" stroke-linecap="round"/><path d="M76.2 266.5L77.4 266.8" stroke="#8C94A8" stroke-width="1.6" stroke-opacity="0.57" stroke-linecap="round"/><path d="M52.2 254.7L53.3 255.1" stroke="#8C94A8" stroke-width="1.1" stroke-opacity="0.39" stroke-linecap="round"/><path d="M106.4 314.8L106.7 315.6" stroke="#8C94A8" stroke-width="1.4" stroke-opacity="0.49" stroke-linecap="round"/><path d="M42.9 296.7L42.4 297.4" stroke="#8C94A8" stroke-width="1.7" stroke-opacity="0.47" stroke-linecap="round"/><path d="M99.8 318.3L99.7 319.6" stroke="#8C94A8" stroke-width="1.7" stroke-opacity="0.34" stroke-linecap="round"/><path d="M52.7 238.4L51.8 239.7" stroke="#8C94A8" stroke-width="1.1" stroke-opacity="0.42" stroke-linecap="round"/><path d="M18.0 303.9L17.3 304.3" stroke="#8C94A8" stroke-width="1.1" stroke-opacity="0.34" stroke-linecap="round"/><path d="M104.6 249.8L103.5 251.4" stroke="#8C94A8" stroke-width="1.5" stroke-opacity="0.43" stroke-linecap="round"/><path d="M54.7 243.2L53.6 243.9" stroke="#8C94A8" stroke-width="1.6" stroke-opacity="0.37" stroke-linecap="round"/><path d="M40.9 238.9L40.2 239.9" stroke="#8C94A8" stroke-width="2.2" stroke-opacity="0.41" stroke-linecap="round"/><path d="M49.5 251.0L50.0 251.6" stroke="#8C94A8" stroke-width="1.5" stroke-opacity="0.44" stroke-linecap="round"/><path d="M95.7 265.5L95.0 266.5" stroke="#8C94A8" stroke-width="1.7" stroke-opacity="0.58" stroke-linecap="round"/><path d="M49.5 247.6L51.1 248.3" stroke="#8C94A8" stroke-width="1.3" stroke-opacity="0.55" stroke-linecap="round"/><path d="M21.9 306.0L22.0 306.8" stroke="#8C94A8" stroke-width="2.0" stroke-opacity="0.36" stroke-linecap="round"/><path d="M27.6 289.3L29.5 289.5" stroke="#8C94A8" stroke-width="1.4" stroke-opacity="0.32" stroke-linecap="round"/><path d="M61.7 289.8L63.1 290.4" stroke="#8C94A8" stroke-width="2.0" stroke-opacity="0.58" stroke-linecap="round"/><path d="M98.4 275.5L99.1 276.7" stroke="#8C94A8" stroke-width="1.5" stroke-opacity="0.37" stroke-linecap="round"/><path d="M30.8 236.9L29.5 238.3" stroke="#8C94A8" stroke-width="1.3" stroke-opacity="0.36" stroke-linecap="round"/><path d="M24.6 237.5L23.8 238.1" stroke="#8C94A8" stroke-width="1.2" stroke-opacity="0.51" stroke-linecap="round"/><path d="M33.2 335.0L35.1 335.1" stroke="#8C94A8" stroke-width="1.5" stroke-opacity="0.45" stroke-linecap="round"/><path d="M38.8 330.2L38.4 331.4" stroke="#8C94A8" stroke-width="1.8" stroke-opacity="0.55" stroke-linecap="round"/><path d="M26.7 259.8L27.8 260.4" stroke="#8C94A8" stroke-width="2.1" stroke-opacity="0.36" stroke-linecap="round"/><path d="M52.5 271.5L53.4 272.8" stroke="#8C94A8" stroke-width="2.0" stroke-opacity="0.41" stroke-linecap="round"/><path d="M95.4 320.4L95.5 322.4" stroke="#8C94A8" stroke-width="1.3" stroke-opacity="0.47" stroke-linecap="round"/><path d="M99.2 251.9L98.3 252.1" stroke="#8C94A8" stroke-width="1.5" stroke-opacity="0.58" stroke-linecap="round"/><path d="M98.6 269.2L100.0 269.4" stroke="#8C94A8" stroke-width="1.4" stroke-opacity="0.57" stroke-linecap="round"/><path d="M55.2 285.9L56.4 287.0" stroke="#8C94A8" stroke-width="1.2" stroke-opacity="0.58" stroke-linecap="round"/><path d="M42.8 241.1L41.9 241.8" stroke="#8C94A8" stroke-width="1.5" stroke-opacity="0.47" stroke-linecap="round"/><path d="M84.0 325.8L84.6 326.1" stroke="#8C94A8" stroke-width="1.2" stroke-opacity="0.54" stroke-linecap="round"/><path d="M47.9 266.6L48.8 266.7" stroke="#8C94A8" stroke-width="1.3" stroke-opacity="0.36" stroke-linecap="round"/><path d="M42.2 308.5L43.3 309.1" stroke="#8C94A8" stroke-width="1.0" stroke-opacity="0.55" stroke-linecap="round"/><path d="M87.7 253.7L88.2 254.0" stroke="#8C94A8" stroke-width="1.1" stroke-opacity="0.48" stroke-linecap="round"/>
</g>
<rect x="116.4" y="327.6" width="39.6" height="1.3" fill="#F0ECD8" fill-opacity="0.95"/>
</g>
<g clip-path="url(#c2)">
<g filter="url(#tex2)"><rect x="169.0" y="213.8" width="178.0" height="138.6" fill="url(#lg2)"/><g filter="url(#xblur)"><ellipse cx="205" cy="335" rx="45" ry="16" fill="#9C7430" fill-opacity="0.75"/><ellipse cx="262" cy="330" rx="22" ry="18" fill="#9A7434" fill-opacity="0.7"/><ellipse cx="196" cy="250" rx="16" ry="26" fill="#C4A262" fill-opacity="0.6"/></g><g filter="url(#lblur)"><path d="M317 222 C321 260 321 300 323 344 L331 344 C330 300 329 260 328 222Z" fill="#8A6630"/><path d="M310 287 C308 300 304 320 303 344 L316.5 344 C315 322 313 302 310 287Z" fill="#DCEAF0"/><path d="M329.8 222 C330 260 331 300 332.5 344 L340 344 L340 222Z" fill="#D0DAE0"/></g></g>
<g filter="url(#sblur)">
<path d="M249.2 279.4L251.1 275.5" stroke="#2E1A06" stroke-width="1.2" stroke-opacity="0.57" stroke-linecap="round"/><path d="M256.5 275.9L257.6 271.0" stroke="#2E1A06" stroke-width="2.3" stroke-opacity="0.54" stroke-linecap="round"/><path d="M225.2 277.7L225.6 271.2" stroke="#2E1A06" stroke-width="1.7" stroke-opacity="0.79" stroke-linecap="round"/><path d="M254.5 311.7L257.8 305.5" stroke="#2E1A06" stroke-width="1.4" stroke-opacity="0.59" stroke-linecap="round"/><path d="M263.8 314.8L267.2 308.8" stroke="#2E1A06" stroke-width="2.0" stroke-opacity="0.71" stroke-linecap="round"/><path d="M215.2 275.8L216.4 269.1" stroke="#2E1A06" stroke-width="2.1" stroke-opacity="0.58" stroke-linecap="round"/><path d="M272.4 248.2L273.1 242.0" stroke="#2E1A06" stroke-width="1.3" stroke-opacity="0.82" stroke-linecap="round"/><path d="M260.7 279.9L262.3 277.4" stroke="#2E1A06" stroke-width="1.9" stroke-opacity="0.82" stroke-linecap="round"/><path d="M241.0 283.2L241.2 278.6" stroke="#2E1A06" stroke-width="1.1" stroke-opacity="0.71" stroke-linecap="round"/><path d="M235.0 325.0L237.3 319.6" stroke="#2E1A06" stroke-width="1.8" stroke-opacity="0.55" stroke-linecap="round"/><path d="M220.2 280.2L221.1 278.0" stroke="#2E1A06" stroke-width="1.6" stroke-opacity="0.54" stroke-linecap="round"/><path d="M200.7 340.5L201.7 336.7" stroke="#2E1A06" stroke-width="1.1" stroke-opacity="0.48" stroke-linecap="round"/><path d="M257.7 311.7L259.2 306.2" stroke="#2E1A06" stroke-width="1.9" stroke-opacity="0.81" stroke-linecap="round"/><path d="M268.1 231.0L268.8 227.9" stroke="#2E1A06" stroke-width="2.1" stroke-opacity="0.72" stroke-linecap="round"/><path d="M221.8 292.2L223.7 289.3" stroke="#2E1A06" stroke-width="1.9" stroke-opacity="0.83" stroke-linecap="round"/><path d="M240.9 243.8L241.5 237.8" stroke="#2E1A06" stroke-width="2.1" stroke-opacity="0.78" stroke-linecap="round"/><path d="M280.0 230.8L280.2 227.4" stroke="#2E1A06" stroke-width="1.2" stroke-opacity="0.68" stroke-linecap="round"/><path d="M239.2 255.2L239.4 252.1" stroke="#2E1A06" stroke-width="2.0" stroke-opacity="0.60" stroke-linecap="round"/><path d="M262.9 295.3L265.1 290.5" stroke="#2E1A06" stroke-width="1.2" stroke-opacity="0.84" stroke-linecap="round"/><path d="M212.2 328.5L212.9 325.3" stroke="#2E1A06" stroke-width="1.4" stroke-opacity="0.76" stroke-linecap="round"/><path d="M215.2 285.9L216.5 283.2" stroke="#2E1A06" stroke-width="2.1" stroke-opacity="0.55" stroke-linecap="round"/><path d="M261.0 295.0L262.2 291.4" stroke="#2E1A06" stroke-width="1.8" stroke-opacity="0.81" stroke-linecap="round"/><path d="M226.5 244.8L226.6 240.5" stroke="#2E1A06" stroke-width="1.5" stroke-opacity="0.67" stroke-linecap="round"/><path d="M230.5 248.8L232.8 243.9" stroke="#2E1A06" stroke-width="1.6" stroke-opacity="0.80" stroke-linecap="round"/><path d="M210.7 290.2L211.4 287.1" stroke="#2E1A06" stroke-width="2.3" stroke-opacity="0.84" stroke-linecap="round"/><path d="M233.2 283.4L233.5 281.5" stroke="#2E1A06" stroke-width="2.1" stroke-opacity="0.87" stroke-linecap="round"/><path d="M256.2 286.2L257.0 283.8" stroke="#2E1A06" stroke-width="2.2" stroke-opacity="0.58" stroke-linecap="round"/><path d="M250.8 278.1L251.4 272.5" stroke="#2E1A06" stroke-width="1.5" stroke-opacity="0.55" stroke-linecap="round"/><path d="M242.7 241.1L243.5 236.6" stroke="#2E1A06" stroke-width="1.9" stroke-opacity="0.82" stroke-linecap="round"/><path d="M235.1 265.9L238.1 260.6" stroke="#2E1A06" stroke-width="1.9" stroke-opacity="0.59" stroke-linecap="round"/><path d="M240.1 315.1L241.0 312.2" stroke="#2E1A06" stroke-width="1.2" stroke-opacity="0.72" stroke-linecap="round"/><path d="M275.0 265.9L276.5 263.1" stroke="#2E1A06" stroke-width="1.7" stroke-opacity="0.69" stroke-linecap="round"/><path d="M252.8 323.6L252.9 320.6" stroke="#2E1A06" stroke-width="1.7" stroke-opacity="0.54" stroke-linecap="round"/><path d="M254.3 276.3L255.7 273.2" stroke="#2E1A06" stroke-width="1.2" stroke-opacity="0.58" stroke-linecap="round"/><path d="M256.6 257.1L258.0 250.4" stroke="#2E1A06" stroke-width="1.6" stroke-opacity="0.86" stroke-linecap="round"/><path d="M259.8 254.4L262.3 250.8" stroke="#2E1A06" stroke-width="2.1" stroke-opacity="0.58" stroke-linecap="round"/><path d="M226.2 236.9L228.0 233.2" stroke="#2E1A06" stroke-width="1.5" stroke-opacity="0.80" stroke-linecap="round"/><path d="M219.4 321.6L221.2 315.3" stroke="#2E1A06" stroke-width="1.9" stroke-opacity="0.47" stroke-linecap="round"/><path d="M269.5 304.7L269.6 298.1" stroke="#2E1A06" stroke-width="1.3" stroke-opacity="0.78" stroke-linecap="round"/><path d="M275.3 280.8L275.4 273.9" stroke="#2E1A06" stroke-width="2.1" stroke-opacity="0.50" stroke-linecap="round"/><path d="M217.8 302.2L218.8 300.2" stroke="#2E1A06" stroke-width="1.5" stroke-opacity="0.79" stroke-linecap="round"/><path d="M271.9 257.6L275.0 252.6" stroke="#2E1A06" stroke-width="2.0" stroke-opacity="0.49" stroke-linecap="round"/><path d="M248.8 235.6L249.4 231.4" stroke="#2E1A06" stroke-width="1.7" stroke-opacity="0.82" stroke-linecap="round"/><path d="M245.1 312.2L245.0 305.7" stroke="#2E1A06" stroke-width="2.1" stroke-opacity="0.59" stroke-linecap="round"/><path d="M259.2 264.5L261.8 259.9" stroke="#2E1A06" stroke-width="2.0" stroke-opacity="0.72" stroke-linecap="round"/><path d="M205.1 311.6L207.3 307.1" stroke="#2E1A06" stroke-width="1.7" stroke-opacity="0.47" stroke-linecap="round"/><path d="M219.9 295.0L220.5 292.3" stroke="#2E1A06" stroke-width="1.6" stroke-opacity="0.51" stroke-linecap="round"/><path d="M223.0 280.3L225.7 274.3" stroke="#2E1A06" stroke-width="1.2" stroke-opacity="0.62" stroke-linecap="round"/><path d="M228.5 266.1L228.7 260.8" stroke="#2E1A06" stroke-width="1.3" stroke-opacity="0.76" stroke-linecap="round"/><path d="M237.9 266.2L238.6 262.3" stroke="#2E1A06" stroke-width="2.1" stroke-opacity="0.84" stroke-linecap="round"/><path d="M268.6 307.3L268.9 301.1" stroke="#2E1A06" stroke-width="1.7" stroke-opacity="0.46" stroke-linecap="round"/><path d="M233.0 298.1L233.2 291.6" stroke="#2E1A06" stroke-width="1.7" stroke-opacity="0.65" stroke-linecap="round"/><path d="M240.4 250.0L240.7 245.7" stroke="#2E1A06" stroke-width="1.9" stroke-opacity="0.58" stroke-linecap="round"/><path d="M279.1 269.0L279.4 264.3" stroke="#2E1A06" stroke-width="2.1" stroke-opacity="0.63" stroke-linecap="round"/><path d="M254.8 239.9L255.3 235.3" stroke="#2E1A06" stroke-width="2.3" stroke-opacity="0.48" stroke-linecap="round"/><path d="M235.1 236.2L236.0 233.3" stroke="#2E1A06" stroke-width="1.2" stroke-opacity="0.72" stroke-linecap="round"/><path d="M232.9 300.3L234.3 296.9" stroke="#2E1A06" stroke-width="2.3" stroke-opacity="0.53" stroke-linecap="round"/><path d="M258.7 286.6L260.9 282.0" stroke="#2E1A06" stroke-width="1.5" stroke-opacity="0.80" stroke-linecap="round"/><path d="M215.1 280.4L218.3 275.0" stroke="#2E1A06" stroke-width="1.7" stroke-opacity="0.68" stroke-linecap="round"/><path d="M256.8 312.4L257.7 310.5" stroke="#2E1A06" stroke-width="1.7" stroke-opacity="0.69" stroke-linecap="round"/><path d="M259.2 336.3L260.4 333.3" stroke="#2E1A06" stroke-width="1.4" stroke-opacity="0.78" stroke-linecap="round"/><path d="M279.1 243.1L279.7 240.4" stroke="#2E1A06" stroke-width="1.6" stroke-opacity="0.79" stroke-linecap="round"/><path d="M248.7 258.9L249.3 253.7" stroke="#2E1A06" stroke-width="1.2" stroke-opacity="0.53" stroke-linecap="round"/><path d="M261.5 277.2L262.2 271.0" stroke="#2E1A06" stroke-width="1.9" stroke-opacity="0.85" stroke-linecap="round"/><path d="M219.9 314.1L221.7 311.3" stroke="#2E1A06" stroke-width="1.3" stroke-opacity="0.58" stroke-linecap="round"/><path d="M279.1 241.4L279.7 238.6" stroke="#2E1A06" stroke-width="1.9" stroke-opacity="0.80" stroke-linecap="round"/><path d="M270.5 260.6L273.2 256.6" stroke="#2E1A06" stroke-width="1.5" stroke-opacity="0.50" stroke-linecap="round"/><path d="M238.2 252.1L240.0 248.3" stroke="#2E1A06" stroke-width="1.1" stroke-opacity="0.67" stroke-linecap="round"/><path d="M212.7 299.4L215.4 294.1" stroke="#2E1A06" stroke-width="1.5" stroke-opacity="0.84" stroke-linecap="round"/><path d="M255.4 296.0L255.5 293.7" stroke="#2E1A06" stroke-width="2.0" stroke-opacity="0.73" stroke-linecap="round"/><path d="M272.4 278.1L273.5 271.8" stroke="#2E1A06" stroke-width="1.7" stroke-opacity="0.79" stroke-linecap="round"/><path d="M237.7 276.6L239.1 274.5" stroke="#2E1A06" stroke-width="1.7" stroke-opacity="0.65" stroke-linecap="round"/><path d="M234.8 249.0L235.6 245.3" stroke="#2E1A06" stroke-width="1.9" stroke-opacity="0.48" stroke-linecap="round"/><path d="M231.3 321.4L232.3 319.2" stroke="#2E1A06" stroke-width="1.1" stroke-opacity="0.71" stroke-linecap="round"/><path d="M252.5 335.1L255.8 329.0" stroke="#2E1A06" stroke-width="1.9" stroke-opacity="0.61" stroke-linecap="round"/><path d="M270.5 276.8L273.7 272.1" stroke="#2E1A06" stroke-width="1.9" stroke-opacity="0.51" stroke-linecap="round"/><path d="M265.3 289.9L266.5 283.5" stroke="#2E1A06" stroke-width="1.6" stroke-opacity="0.75" stroke-linecap="round"/><path d="M273.8 284.9L274.4 279.9" stroke="#2E1A06" stroke-width="1.2" stroke-opacity="0.64" stroke-linecap="round"/><path d="M262.2 311.3L263.0 307.4" stroke="#2E1A06" stroke-width="2.3" stroke-opacity="0.84" stroke-linecap="round"/><path d="M213.2 325.6L213.3 321.9" stroke="#2E1A06" stroke-width="2.1" stroke-opacity="0.68" stroke-linecap="round"/><path d="M282.4 254.6L282.4 249.3" stroke="#2E1A06" stroke-width="1.9" stroke-opacity="0.54" stroke-linecap="round"/><path d="M240.6 338.1L240.7 335.5" stroke="#2E1A06" stroke-width="2.3" stroke-opacity="0.80" stroke-linecap="round"/><path d="M267.6 288.0L269.2 284.0" stroke="#2E1A06" stroke-width="2.1" stroke-opacity="0.51" stroke-linecap="round"/><path d="M236.0 284.8L236.1 282.1" stroke="#2E1A06" stroke-width="1.9" stroke-opacity="0.87" stroke-linecap="round"/><path d="M231.8 341.9L233.9 336.1" stroke="#2E1A06" stroke-width="1.2" stroke-opacity="0.51" stroke-linecap="round"/><path d="M282.0 247.2L283.6 242.0" stroke="#2E1A06" stroke-width="1.2" stroke-opacity="0.51" stroke-linecap="round"/><path d="M218.1 272.9L220.7 268.9" stroke="#2E1A06" stroke-width="1.3" stroke-opacity="0.53" stroke-linecap="round"/><path d="M262.4 252.3L263.0 250.4" stroke="#2E1A06" stroke-width="1.6" stroke-opacity="0.73" stroke-linecap="round"/><path d="M259.4 236.3L259.5 232.1" stroke="#2E1A06" stroke-width="1.2" stroke-opacity="0.82" stroke-linecap="round"/><path d="M257.7 287.3L259.5 284.2" stroke="#2E1A06" stroke-width="1.7" stroke-opacity="0.84" stroke-linecap="round"/><path d="M235.5 256.8L237.7 252.0" stroke="#2E1A06" stroke-width="1.7" stroke-opacity="0.54" stroke-linecap="round"/><path d="M200.8 324.7L202.6 320.8" stroke="#2E1A06" stroke-width="1.4" stroke-opacity="0.84" stroke-linecap="round"/><path d="M217.6 340.5L218.6 338.4" stroke="#2E1A06" stroke-width="1.5" stroke-opacity="0.85" stroke-linecap="round"/><path d="M264.8 315.3L265.5 311.9" stroke="#2E1A06" stroke-width="1.9" stroke-opacity="0.48" stroke-linecap="round"/><path d="M225.2 249.8L225.6 247.0" stroke="#2E1A06" stroke-width="1.1" stroke-opacity="0.69" stroke-linecap="round"/><path d="M244.6 313.8L247.0 307.4" stroke="#2E1A06" stroke-width="1.9" stroke-opacity="0.83" stroke-linecap="round"/><path d="M251.5 257.8L252.3 252.1" stroke="#2E1A06" stroke-width="1.5" stroke-opacity="0.64" stroke-linecap="round"/><path d="M244.2 229.5L244.9 226.4" stroke="#2E1A06" stroke-width="2.3" stroke-opacity="0.47" stroke-linecap="round"/><path d="M275.9 229.6L279.0 224.7" stroke="#2E1A06" stroke-width="1.2" stroke-opacity="0.87" stroke-linecap="round"/><path d="M255.4 227.8L255.5 224.9" stroke="#2E1A06" stroke-width="1.5" stroke-opacity="0.56" stroke-linecap="round"/><path d="M201.9 323.9L202.0 319.7" stroke="#2E1A06" stroke-width="2.1" stroke-opacity="0.52" stroke-linecap="round"/><path d="M268.7 287.1L272.0 281.7" stroke="#2E1A06" stroke-width="2.1" stroke-opacity="0.68" stroke-linecap="round"/><path d="M198.8 340.7L200.2 336.8" stroke="#2E1A06" stroke-width="1.5" stroke-opacity="0.56" stroke-linecap="round"/><path d="M229.7 334.7L231.6 330.7" stroke="#2E1A06" stroke-width="1.8" stroke-opacity="0.56" stroke-linecap="round"/><path d="M260.0 259.7L260.9 255.0" stroke="#2E1A06" stroke-width="1.1" stroke-opacity="0.68" stroke-linecap="round"/><path d="M252.6 324.2L252.9 322.0" stroke="#2E1A06" stroke-width="1.5" stroke-opacity="0.46" stroke-linecap="round"/><path d="M252.7 302.1L254.2 299.6" stroke="#2E1A06" stroke-width="2.2" stroke-opacity="0.60" stroke-linecap="round"/><path d="M223.6 272.1L226.1 267.3" stroke="#2E1A06" stroke-width="2.2" stroke-opacity="0.71" stroke-linecap="round"/><path d="M220.2 305.3L221.7 299.8" stroke="#2E1A06" stroke-width="1.8" stroke-opacity="0.73" stroke-linecap="round"/><path d="M236.8 288.0L237.1 283.1" stroke="#2E1A06" stroke-width="1.7" stroke-opacity="0.67" stroke-linecap="round"/><path d="M228.7 281.6L228.7 279.2" stroke="#2E1A06" stroke-width="2.3" stroke-opacity="0.45" stroke-linecap="round"/><path d="M226.5 275.4L227.9 268.6" stroke="#2E1A06" stroke-width="1.4" stroke-opacity="0.66" stroke-linecap="round"/><path d="M285.4 237.3L288.8 231.7" stroke="#2E1A06" stroke-width="1.2" stroke-opacity="0.80" stroke-linecap="round"/><path d="M239.9 336.3L240.0 332.2" stroke="#2E1A06" stroke-width="2.2" stroke-opacity="0.61" stroke-linecap="round"/><path d="M230.1 285.7L232.0 282.2" stroke="#2E1A06" stroke-width="1.5" stroke-opacity="0.64" stroke-linecap="round"/><path d="M218.0 330.2L219.0 325.2" stroke="#2E1A06" stroke-width="1.2" stroke-opacity="0.54" stroke-linecap="round"/><path d="M228.0 239.3L228.9 236.7" stroke="#2E1A06" stroke-width="1.6" stroke-opacity="0.74" stroke-linecap="round"/><path d="M216.2 302.1L217.0 298.8" stroke="#2E1A06" stroke-width="1.4" stroke-opacity="0.49" stroke-linecap="round"/><path d="M237.7 265.8L239.3 262.6" stroke="#2E1A06" stroke-width="1.6" stroke-opacity="0.84" stroke-linecap="round"/><path d="M246.1 266.4L248.9 262.4" stroke="#2E1A06" stroke-width="1.2" stroke-opacity="0.74" stroke-linecap="round"/><path d="M199.1 341.7L201.1 338.6" stroke="#2E1A06" stroke-width="1.7" stroke-opacity="0.50" stroke-linecap="round"/><path d="M262.2 261.1L264.1 258.1" stroke="#2E1A06" stroke-width="2.2" stroke-opacity="0.70" stroke-linecap="round"/><path d="M248.7 315.8L251.6 311.7" stroke="#2E1A06" stroke-width="2.1" stroke-opacity="0.83" stroke-linecap="round"/><path d="M249.8 292.4L252.5 286.9" stroke="#2E1A06" stroke-width="2.1" stroke-opacity="0.47" stroke-linecap="round"/><path d="M235.0 243.2L235.2 240.0" stroke="#2E1A06" stroke-width="2.0" stroke-opacity="0.68" stroke-linecap="round"/><path d="M219.3 314.4L219.7 310.6" stroke="#2E1A06" stroke-width="1.2" stroke-opacity="0.78" stroke-linecap="round"/><path d="M258.2 286.8L258.7 283.1" stroke="#2E1A06" stroke-width="1.4" stroke-opacity="0.87" stroke-linecap="round"/><path d="M255.7 276.6L258.2 271.5" stroke="#2E1A06" stroke-width="2.1" stroke-opacity="0.79" stroke-linecap="round"/><path d="M227.5 255.9L229.4 251.8" stroke="#2E1A06" stroke-width="1.4" stroke-opacity="0.84" stroke-linecap="round"/><path d="M240.1 247.4L240.6 244.8" stroke="#2E1A06" stroke-width="1.1" stroke-opacity="0.71" stroke-linecap="round"/><path d="M264.8 245.0L266.2 239.5" stroke="#2E1A06" stroke-width="1.8" stroke-opacity="0.83" stroke-linecap="round"/><path d="M257.9 240.1L258.2 236.4" stroke="#2E1A06" stroke-width="2.2" stroke-opacity="0.55" stroke-linecap="round"/><path d="M232.5 316.6L232.8 314.5" stroke="#2E1A06" stroke-width="1.5" stroke-opacity="0.50" stroke-linecap="round"/><path d="M258.9 331.4L261.2 325.2" stroke="#2E1A06" stroke-width="1.1" stroke-opacity="0.72" stroke-linecap="round"/><path d="M267.9 256.0L269.0 253.8" stroke="#2E1A06" stroke-width="1.5" stroke-opacity="0.58" stroke-linecap="round"/><path d="M264.6 305.3L264.5 300.2" stroke="#2E1A06" stroke-width="2.1" stroke-opacity="0.73" stroke-linecap="round"/><path d="M281.3 258.4L283.3 255.3" stroke="#2E1A06" stroke-width="1.5" stroke-opacity="0.84" stroke-linecap="round"/><path d="M219.8 281.3L222.4 275.0" stroke="#2E1A06" stroke-width="1.7" stroke-opacity="0.45" stroke-linecap="round"/><path d="M240.4 242.8L243.1 238.8" stroke="#2E1A06" stroke-width="1.4" stroke-opacity="0.85" stroke-linecap="round"/><path d="M227.3 316.7L227.6 311.5" stroke="#2E1A06" stroke-width="1.9" stroke-opacity="0.57" stroke-linecap="round"/><path d="M252.8 246.8L255.4 242.0" stroke="#2E1A06" stroke-width="1.6" stroke-opacity="0.47" stroke-linecap="round"/><path d="M231.2 327.5L232.8 320.7" stroke="#2E1A06" stroke-width="1.1" stroke-opacity="0.82" stroke-linecap="round"/><path d="M289.1 232.7L290.0 228.3" stroke="#2E1A06" stroke-width="2.3" stroke-opacity="0.70" stroke-linecap="round"/><path d="M234.1 287.6L234.7 285.3" stroke="#2E1A06" stroke-width="1.5" stroke-opacity="0.53" stroke-linecap="round"/><path d="M209.4 299.6L209.6 296.1" stroke="#2E1A06" stroke-width="2.1" stroke-opacity="0.51" stroke-linecap="round"/><path d="M217.9 328.3L219.1 324.8" stroke="#2E1A06" stroke-width="1.6" stroke-opacity="0.68" stroke-linecap="round"/><path d="M238.5 308.4L240.4 302.3" stroke="#2E1A06" stroke-width="1.7" stroke-opacity="0.65" stroke-linecap="round"/><path d="M208.9 297.0L209.6 293.8" stroke="#2E1A06" stroke-width="2.2" stroke-opacity="0.57" stroke-linecap="round"/><path d="M231.0 303.4L233.5 299.0" stroke="#2E1A06" stroke-width="1.3" stroke-opacity="0.56" stroke-linecap="round"/><path d="M241.4 317.0L242.1 310.8" stroke="#2E1A06" stroke-width="2.0" stroke-opacity="0.53" stroke-linecap="round"/><path d="M250.0 241.8L251.5 239.0" stroke="#2E1A06" stroke-width="2.0" stroke-opacity="0.66" stroke-linecap="round"/><path d="M226.3 304.4L227.0 301.9" stroke="#2E1A06" stroke-width="1.6" stroke-opacity="0.53" stroke-linecap="round"/><path d="M223.1 258.0L224.0 253.4" stroke="#2E1A06" stroke-width="1.8" stroke-opacity="0.59" stroke-linecap="round"/><path d="M252.2 238.7L252.9 232.2" stroke="#2E1A06" stroke-width="1.2" stroke-opacity="0.77" stroke-linecap="round"/><path d="M246.8 233.9L247.0 229.6" stroke="#2E1A06" stroke-width="1.9" stroke-opacity="0.81" stroke-linecap="round"/>
<path d="M244.8 291.7L246.1 288.0" stroke="#6A3E0E" stroke-width="2.6" stroke-opacity="0.49" stroke-linecap="round"/><path d="M272.7 230.6L272.9 224.1" stroke="#6A3E0E" stroke-width="1.8" stroke-opacity="0.55" stroke-linecap="round"/><path d="M264.7 255.9L265.6 253.1" stroke="#6A3E0E" stroke-width="2.3" stroke-opacity="0.79" stroke-linecap="round"/><path d="M244.6 255.6L244.8 252.0" stroke="#6A3E0E" stroke-width="2.4" stroke-opacity="0.72" stroke-linecap="round"/><path d="M201.5 332.4L203.1 328.2" stroke="#6A3E0E" stroke-width="2.1" stroke-opacity="0.70" stroke-linecap="round"/><path d="M212.9 268.7L214.6 264.3" stroke="#6A3E0E" stroke-width="2.2" stroke-opacity="0.49" stroke-linecap="round"/><path d="M210.1 304.8L212.4 301.4" stroke="#6A3E0E" stroke-width="2.5" stroke-opacity="0.78" stroke-linecap="round"/><path d="M302.0 234.4L304.9 229.2" stroke="#6A3E0E" stroke-width="1.4" stroke-opacity="0.44" stroke-linecap="round"/><path d="M234.4 261.9L235.2 259.1" stroke="#6A3E0E" stroke-width="2.4" stroke-opacity="0.41" stroke-linecap="round"/><path d="M254.8 336.4L254.8 330.4" stroke="#6A3E0E" stroke-width="2.0" stroke-opacity="0.48" stroke-linecap="round"/><path d="M202.8 327.7L206.5 322.3" stroke="#6A3E0E" stroke-width="1.2" stroke-opacity="0.41" stroke-linecap="round"/><path d="M232.5 269.7L233.8 267.6" stroke="#6A3E0E" stroke-width="1.9" stroke-opacity="0.79" stroke-linecap="round"/><path d="M196.9 340.4L197.3 333.9" stroke="#6A3E0E" stroke-width="1.7" stroke-opacity="0.79" stroke-linecap="round"/><path d="M271.8 274.0L273.2 269.2" stroke="#6A3E0E" stroke-width="2.4" stroke-opacity="0.44" stroke-linecap="round"/><path d="M269.3 331.4L269.7 329.3" stroke="#6A3E0E" stroke-width="1.8" stroke-opacity="0.64" stroke-linecap="round"/><path d="M308.5 288.9L309.8 286.9" stroke="#6A3E0E" stroke-width="1.5" stroke-opacity="0.72" stroke-linecap="round"/><path d="M283.3 274.7L283.5 268.5" stroke="#6A3E0E" stroke-width="1.3" stroke-opacity="0.43" stroke-linecap="round"/><path d="M249.6 246.4L250.3 243.7" stroke="#6A3E0E" stroke-width="2.3" stroke-opacity="0.72" stroke-linecap="round"/><path d="M242.0 267.1L243.3 264.1" stroke="#6A3E0E" stroke-width="1.7" stroke-opacity="0.68" stroke-linecap="round"/><path d="M263.7 229.2L266.8 223.6" stroke="#6A3E0E" stroke-width="1.8" stroke-opacity="0.44" stroke-linecap="round"/><path d="M238.7 267.3L239.6 263.6" stroke="#6A3E0E" stroke-width="1.4" stroke-opacity="0.42" stroke-linecap="round"/><path d="M211.1 274.9L211.3 272.2" stroke="#6A3E0E" stroke-width="2.0" stroke-opacity="0.63" stroke-linecap="round"/><path d="M223.6 308.9L224.1 304.3" stroke="#6A3E0E" stroke-width="2.4" stroke-opacity="0.63" stroke-linecap="round"/><path d="M256.9 231.3L259.0 227.7" stroke="#6A3E0E" stroke-width="2.5" stroke-opacity="0.58" stroke-linecap="round"/><path d="M197.6 321.4L198.8 318.4" stroke="#6A3E0E" stroke-width="1.9" stroke-opacity="0.49" stroke-linecap="round"/><path d="M210.4 341.9L211.9 335.7" stroke="#6A3E0E" stroke-width="2.3" stroke-opacity="0.68" stroke-linecap="round"/><path d="M238.2 322.4L239.4 316.3" stroke="#6A3E0E" stroke-width="2.5" stroke-opacity="0.54" stroke-linecap="round"/><path d="M214.0 330.8L214.8 324.8" stroke="#6A3E0E" stroke-width="1.9" stroke-opacity="0.46" stroke-linecap="round"/><path d="M297.8 241.1L301.5 235.2" stroke="#6A3E0E" stroke-width="1.7" stroke-opacity="0.76" stroke-linecap="round"/><path d="M250.7 298.6L250.7 292.1" stroke="#6A3E0E" stroke-width="1.2" stroke-opacity="0.52" stroke-linecap="round"/><path d="M263.9 311.7L264.0 308.7" stroke="#6A3E0E" stroke-width="1.2" stroke-opacity="0.40" stroke-linecap="round"/><path d="M212.5 336.0L213.1 332.0" stroke="#6A3E0E" stroke-width="1.5" stroke-opacity="0.58" stroke-linecap="round"/><path d="M218.0 252.2L219.0 248.1" stroke="#6A3E0E" stroke-width="2.6" stroke-opacity="0.57" stroke-linecap="round"/><path d="M289.7 288.3L292.4 284.2" stroke="#6A3E0E" stroke-width="1.6" stroke-opacity="0.47" stroke-linecap="round"/><path d="M243.3 338.2L245.4 332.1" stroke="#6A3E0E" stroke-width="2.2" stroke-opacity="0.52" stroke-linecap="round"/><path d="M250.3 252.2L252.6 247.8" stroke="#6A3E0E" stroke-width="2.0" stroke-opacity="0.74" stroke-linecap="round"/><path d="M216.5 318.7L219.3 313.9" stroke="#6A3E0E" stroke-width="2.0" stroke-opacity="0.52" stroke-linecap="round"/><path d="M239.2 309.6L241.1 306.7" stroke="#6A3E0E" stroke-width="2.2" stroke-opacity="0.80" stroke-linecap="round"/><path d="M244.0 286.9L247.2 282.0" stroke="#6A3E0E" stroke-width="1.3" stroke-opacity="0.75" stroke-linecap="round"/><path d="M236.2 240.3L237.5 235.1" stroke="#6A3E0E" stroke-width="1.7" stroke-opacity="0.48" stroke-linecap="round"/><path d="M310.7 233.5L311.1 226.9" stroke="#6A3E0E" stroke-width="1.8" stroke-opacity="0.51" stroke-linecap="round"/><path d="M217.4 263.7L220.0 259.6" stroke="#6A3E0E" stroke-width="1.9" stroke-opacity="0.75" stroke-linecap="round"/><path d="M243.8 323.5L244.5 320.4" stroke="#6A3E0E" stroke-width="1.5" stroke-opacity="0.55" stroke-linecap="round"/><path d="M256.0 341.3L257.4 335.7" stroke="#6A3E0E" stroke-width="1.6" stroke-opacity="0.69" stroke-linecap="round"/><path d="M278.7 340.4L278.9 333.8" stroke="#6A3E0E" stroke-width="2.5" stroke-opacity="0.44" stroke-linecap="round"/><path d="M229.5 262.3L230.2 259.2" stroke="#6A3E0E" stroke-width="1.5" stroke-opacity="0.59" stroke-linecap="round"/><path d="M223.0 289.6L223.1 282.7" stroke="#6A3E0E" stroke-width="1.3" stroke-opacity="0.46" stroke-linecap="round"/><path d="M212.9 339.0L214.6 333.1" stroke="#6A3E0E" stroke-width="2.6" stroke-opacity="0.42" stroke-linecap="round"/><path d="M232.7 330.4L234.1 326.6" stroke="#6A3E0E" stroke-width="2.3" stroke-opacity="0.70" stroke-linecap="round"/><path d="M267.4 265.7L268.1 263.0" stroke="#6A3E0E" stroke-width="2.5" stroke-opacity="0.80" stroke-linecap="round"/><path d="M279.6 297.6L281.4 293.2" stroke="#6A3E0E" stroke-width="1.9" stroke-opacity="0.57" stroke-linecap="round"/><path d="M276.6 336.7L276.8 333.3" stroke="#6A3E0E" stroke-width="1.2" stroke-opacity="0.44" stroke-linecap="round"/><path d="M215.9 282.5L217.0 280.7" stroke="#6A3E0E" stroke-width="2.0" stroke-opacity="0.66" stroke-linecap="round"/><path d="M244.2 338.9L247.2 333.1" stroke="#6A3E0E" stroke-width="1.6" stroke-opacity="0.76" stroke-linecap="round"/><path d="M264.2 231.8L265.7 229.7" stroke="#6A3E0E" stroke-width="1.7" stroke-opacity="0.45" stroke-linecap="round"/><path d="M313.5 248.8L314.8 242.7" stroke="#6A3E0E" stroke-width="1.6" stroke-opacity="0.73" stroke-linecap="round"/><path d="M216.7 337.3L216.8 335.0" stroke="#6A3E0E" stroke-width="1.4" stroke-opacity="0.78" stroke-linecap="round"/><path d="M222.2 255.3L222.2 251.4" stroke="#6A3E0E" stroke-width="2.0" stroke-opacity="0.57" stroke-linecap="round"/><path d="M259.2 298.5L260.6 291.9" stroke="#6A3E0E" stroke-width="2.5" stroke-opacity="0.61" stroke-linecap="round"/><path d="M300.2 323.7L300.8 321.0" stroke="#6A3E0E" stroke-width="2.0" stroke-opacity="0.63" stroke-linecap="round"/><path d="M242.1 295.1L245.6 289.3" stroke="#6A3E0E" stroke-width="1.6" stroke-opacity="0.79" stroke-linecap="round"/><path d="M223.7 264.8L225.8 261.2" stroke="#6A3E0E" stroke-width="1.3" stroke-opacity="0.77" stroke-linecap="round"/><path d="M302.8 283.6L304.6 279.8" stroke="#6A3E0E" stroke-width="2.3" stroke-opacity="0.64" stroke-linecap="round"/><path d="M228.2 282.2L228.9 275.7" stroke="#6A3E0E" stroke-width="2.5" stroke-opacity="0.56" stroke-linecap="round"/><path d="M290.2 306.0L292.8 300.8" stroke="#6A3E0E" stroke-width="1.5" stroke-opacity="0.66" stroke-linecap="round"/><path d="M237.1 337.5L237.2 334.8" stroke="#6A3E0E" stroke-width="1.4" stroke-opacity="0.41" stroke-linecap="round"/><path d="M273.3 278.5L273.4 276.2" stroke="#6A3E0E" stroke-width="1.2" stroke-opacity="0.64" stroke-linecap="round"/><path d="M224.0 289.8L225.9 286.6" stroke="#6A3E0E" stroke-width="1.9" stroke-opacity="0.49" stroke-linecap="round"/><path d="M301.8 283.8L304.4 279.5" stroke="#6A3E0E" stroke-width="1.3" stroke-opacity="0.54" stroke-linecap="round"/><path d="M234.3 260.6L234.8 258.5" stroke="#6A3E0E" stroke-width="2.2" stroke-opacity="0.79" stroke-linecap="round"/><path d="M271.6 338.3L272.2 336.2" stroke="#6A3E0E" stroke-width="1.7" stroke-opacity="0.71" stroke-linecap="round"/><path d="M301.7 230.2L304.5 225.4" stroke="#6A3E0E" stroke-width="1.6" stroke-opacity="0.41" stroke-linecap="round"/><path d="M226.2 309.2L228.4 305.4" stroke="#6A3E0E" stroke-width="2.4" stroke-opacity="0.48" stroke-linecap="round"/><path d="M273.5 244.2L274.6 241.9" stroke="#6A3E0E" stroke-width="1.8" stroke-opacity="0.76" stroke-linecap="round"/><path d="M253.9 243.3L253.9 239.7" stroke="#6A3E0E" stroke-width="1.9" stroke-opacity="0.72" stroke-linecap="round"/><path d="M228.0 258.8L229.8 252.5" stroke="#6A3E0E" stroke-width="1.9" stroke-opacity="0.77" stroke-linecap="round"/><path d="M282.4 238.7L283.6 234.0" stroke="#6A3E0E" stroke-width="2.3" stroke-opacity="0.69" stroke-linecap="round"/><path d="M280.8 322.9L281.6 318.8" stroke="#6A3E0E" stroke-width="1.3" stroke-opacity="0.57" stroke-linecap="round"/><path d="M293.8 230.8L295.7 228.0" stroke="#6A3E0E" stroke-width="1.7" stroke-opacity="0.78" stroke-linecap="round"/><path d="M290.1 250.0L291.6 247.1" stroke="#6A3E0E" stroke-width="2.2" stroke-opacity="0.51" stroke-linecap="round"/><path d="M258.6 308.2L261.2 303.6" stroke="#6A3E0E" stroke-width="1.8" stroke-opacity="0.77" stroke-linecap="round"/><path d="M277.2 294.8L279.5 288.4" stroke="#6A3E0E" stroke-width="1.9" stroke-opacity="0.42" stroke-linecap="round"/><path d="M260.3 271.3L260.5 268.5" stroke="#6A3E0E" stroke-width="1.7" stroke-opacity="0.59" stroke-linecap="round"/><path d="M281.2 243.3L281.9 240.3" stroke="#6A3E0E" stroke-width="1.3" stroke-opacity="0.63" stroke-linecap="round"/><path d="M276.8 254.7L279.0 248.5" stroke="#6A3E0E" stroke-width="2.3" stroke-opacity="0.47" stroke-linecap="round"/><path d="M259.4 328.2L260.9 323.2" stroke="#6A3E0E" stroke-width="1.2" stroke-opacity="0.76" stroke-linecap="round"/><path d="M250.4 232.1L253.1 227.8" stroke="#6A3E0E" stroke-width="1.3" stroke-opacity="0.67" stroke-linecap="round"/><path d="M268.5 227.4L268.7 224.2" stroke="#6A3E0E" stroke-width="1.9" stroke-opacity="0.59" stroke-linecap="round"/><path d="M227.7 308.7L227.7 302.5" stroke="#6A3E0E" stroke-width="1.7" stroke-opacity="0.49" stroke-linecap="round"/><path d="M261.0 271.0L262.3 265.5" stroke="#6A3E0E" stroke-width="1.4" stroke-opacity="0.71" stroke-linecap="round"/><path d="M222.8 274.2L224.1 268.5" stroke="#6A3E0E" stroke-width="1.4" stroke-opacity="0.57" stroke-linecap="round"/><path d="M250.1 329.5L250.4 326.9" stroke="#6A3E0E" stroke-width="1.6" stroke-opacity="0.70" stroke-linecap="round"/><path d="M240.3 231.5L240.4 227.9" stroke="#6A3E0E" stroke-width="1.4" stroke-opacity="0.56" stroke-linecap="round"/><path d="M271.8 283.4L273.9 279.5" stroke="#6A3E0E" stroke-width="1.5" stroke-opacity="0.46" stroke-linecap="round"/><path d="M215.5 268.2L215.9 264.8" stroke="#6A3E0E" stroke-width="1.5" stroke-opacity="0.64" stroke-linecap="round"/><path d="M236.3 299.4L236.8 296.6" stroke="#6A3E0E" stroke-width="1.5" stroke-opacity="0.73" stroke-linecap="round"/><path d="M222.5 261.6L223.4 259.1" stroke="#6A3E0E" stroke-width="1.6" stroke-opacity="0.67" stroke-linecap="round"/><path d="M240.3 296.5L242.8 292.6" stroke="#6A3E0E" stroke-width="1.5" stroke-opacity="0.74" stroke-linecap="round"/><path d="M210.0 292.0L209.9 286.6" stroke="#6A3E0E" stroke-width="1.6" stroke-opacity="0.56" stroke-linecap="round"/><path d="M204.6 313.1L205.3 310.7" stroke="#6A3E0E" stroke-width="1.5" stroke-opacity="0.68" stroke-linecap="round"/><path d="M287.2 318.6L288.8 314.3" stroke="#6A3E0E" stroke-width="2.5" stroke-opacity="0.57" stroke-linecap="round"/><path d="M244.4 328.3L245.1 326.0" stroke="#6A3E0E" stroke-width="2.2" stroke-opacity="0.63" stroke-linecap="round"/><path d="M308.0 277.8L308.5 274.2" stroke="#6A3E0E" stroke-width="2.2" stroke-opacity="0.42" stroke-linecap="round"/><path d="M296.8 260.2L299.0 256.3" stroke="#6A3E0E" stroke-width="2.3" stroke-opacity="0.71" stroke-linecap="round"/><path d="M224.0 273.7L225.9 270.2" stroke="#6A3E0E" stroke-width="2.3" stroke-opacity="0.57" stroke-linecap="round"/><path d="M296.3 319.5L296.6 316.1" stroke="#6A3E0E" stroke-width="1.9" stroke-opacity="0.42" stroke-linecap="round"/><path d="M291.9 267.0L294.0 263.6" stroke="#6A3E0E" stroke-width="1.5" stroke-opacity="0.45" stroke-linecap="round"/><path d="M222.0 269.5L222.2 263.0" stroke="#6A3E0E" stroke-width="1.7" stroke-opacity="0.77" stroke-linecap="round"/><path d="M255.0 292.7L256.2 290.9" stroke="#6A3E0E" stroke-width="2.1" stroke-opacity="0.75" stroke-linecap="round"/><path d="M221.7 316.1L222.9 314.2" stroke="#6A3E0E" stroke-width="2.4" stroke-opacity="0.55" stroke-linecap="round"/>
<path d="M241.3 299.6L241.8 294.5" stroke="#D8BC84" stroke-width="1.3" stroke-opacity="0.39" stroke-linecap="round"/><path d="M254.9 272.0L256.5 265.8" stroke="#D8BC84" stroke-width="1.0" stroke-opacity="0.49" stroke-linecap="round"/><path d="M219.7 337.5L221.7 333.4" stroke="#D8BC84" stroke-width="0.9" stroke-opacity="0.46" stroke-linecap="round"/><path d="M263.6 286.7L265.9 282.8" stroke="#D8BC84" stroke-width="1.8" stroke-opacity="0.56" stroke-linecap="round"/><path d="M232.6 339.5L234.9 336.3" stroke="#D8BC84" stroke-width="1.0" stroke-opacity="0.45" stroke-linecap="round"/><path d="M260.4 254.3L261.6 251.5" stroke="#D8BC84" stroke-width="1.0" stroke-opacity="0.69" stroke-linecap="round"/><path d="M247.4 309.5L247.5 305.2" stroke="#D8BC84" stroke-width="1.3" stroke-opacity="0.59" stroke-linecap="round"/><path d="M272.8 230.7L274.7 226.7" stroke="#D8BC84" stroke-width="1.1" stroke-opacity="0.47" stroke-linecap="round"/><path d="M224.1 235.9L225.7 232.8" stroke="#D8BC84" stroke-width="1.6" stroke-opacity="0.40" stroke-linecap="round"/><path d="M232.0 276.3L232.9 271.7" stroke="#D8BC84" stroke-width="0.9" stroke-opacity="0.49" stroke-linecap="round"/><path d="M264.3 332.0L265.4 329.8" stroke="#D8BC84" stroke-width="1.3" stroke-opacity="0.42" stroke-linecap="round"/><path d="M212.4 279.5L214.1 276.0" stroke="#D8BC84" stroke-width="0.9" stroke-opacity="0.53" stroke-linecap="round"/><path d="M219.8 255.5L220.2 251.3" stroke="#D8BC84" stroke-width="1.6" stroke-opacity="0.52" stroke-linecap="round"/><path d="M276.2 277.0L276.4 273.5" stroke="#D8BC84" stroke-width="1.0" stroke-opacity="0.49" stroke-linecap="round"/><path d="M255.1 231.8L255.7 227.5" stroke="#D8BC84" stroke-width="1.5" stroke-opacity="0.68" stroke-linecap="round"/><path d="M246.7 235.4L248.4 230.7" stroke="#D8BC84" stroke-width="1.3" stroke-opacity="0.55" stroke-linecap="round"/><path d="M236.4 312.6L237.5 310.1" stroke="#D8BC84" stroke-width="1.1" stroke-opacity="0.45" stroke-linecap="round"/><path d="M244.3 312.2L245.4 309.2" stroke="#D8BC84" stroke-width="1.4" stroke-opacity="0.68" stroke-linecap="round"/><path d="M217.9 249.2L218.2 242.4" stroke="#D8BC84" stroke-width="1.1" stroke-opacity="0.55" stroke-linecap="round"/><path d="M250.1 303.3L251.3 301.1" stroke="#D8BC84" stroke-width="1.7" stroke-opacity="0.52" stroke-linecap="round"/><path d="M282.0 252.7L282.9 249.0" stroke="#D8BC84" stroke-width="1.6" stroke-opacity="0.69" stroke-linecap="round"/><path d="M208.9 336.9L209.3 331.4" stroke="#D8BC84" stroke-width="1.6" stroke-opacity="0.45" stroke-linecap="round"/><path d="M197.0 330.3L197.5 327.0" stroke="#D8BC84" stroke-width="1.0" stroke-opacity="0.52" stroke-linecap="round"/><path d="M257.8 254.6L260.8 249.8" stroke="#D8BC84" stroke-width="1.0" stroke-opacity="0.44" stroke-linecap="round"/><path d="M211.1 276.0L212.0 271.6" stroke="#D8BC84" stroke-width="1.4" stroke-opacity="0.67" stroke-linecap="round"/><path d="M268.2 242.2L269.7 237.6" stroke="#D8BC84" stroke-width="1.3" stroke-opacity="0.44" stroke-linecap="round"/><path d="M238.2 265.3L241.1 261.0" stroke="#D8BC84" stroke-width="1.3" stroke-opacity="0.47" stroke-linecap="round"/><path d="M218.5 292.0L219.7 286.8" stroke="#D8BC84" stroke-width="1.6" stroke-opacity="0.69" stroke-linecap="round"/><path d="M235.8 325.3L236.4 320.5" stroke="#D8BC84" stroke-width="1.0" stroke-opacity="0.52" stroke-linecap="round"/><path d="M284.0 272.0L286.3 267.1" stroke="#D8BC84" stroke-width="0.9" stroke-opacity="0.48" stroke-linecap="round"/><path d="M199.5 302.2L201.7 298.9" stroke="#D8BC84" stroke-width="1.4" stroke-opacity="0.69" stroke-linecap="round"/><path d="M230.0 258.2L230.2 254.5" stroke="#D8BC84" stroke-width="1.8" stroke-opacity="0.64" stroke-linecap="round"/><path d="M281.2 244.9L283.2 238.5" stroke="#D8BC84" stroke-width="1.5" stroke-opacity="0.43" stroke-linecap="round"/><path d="M243.1 278.0L245.3 271.6" stroke="#D8BC84" stroke-width="1.4" stroke-opacity="0.50" stroke-linecap="round"/><path d="M281.8 231.2L285.2 225.8" stroke="#D8BC84" stroke-width="1.3" stroke-opacity="0.51" stroke-linecap="round"/><path d="M259.7 294.0L262.4 288.5" stroke="#D8BC84" stroke-width="1.2" stroke-opacity="0.42" stroke-linecap="round"/><path d="M219.8 255.8L220.9 252.8" stroke="#D8BC84" stroke-width="1.4" stroke-opacity="0.38" stroke-linecap="round"/><path d="M263.7 242.4L267.1 236.5" stroke="#D8BC84" stroke-width="1.1" stroke-opacity="0.58" stroke-linecap="round"/><path d="M245.3 243.6L248.3 239.2" stroke="#D8BC84" stroke-width="1.5" stroke-opacity="0.68" stroke-linecap="round"/><path d="M202.3 316.1L202.9 309.5" stroke="#D8BC84" stroke-width="1.3" stroke-opacity="0.65" stroke-linecap="round"/><path d="M284.4 275.2L287.4 269.2" stroke="#D8BC84" stroke-width="0.9" stroke-opacity="0.56" stroke-linecap="round"/><path d="M260.0 295.6L262.3 291.2" stroke="#D8BC84" stroke-width="1.6" stroke-opacity="0.39" stroke-linecap="round"/><path d="M235.6 278.8L239.4 272.9" stroke="#D8BC84" stroke-width="1.5" stroke-opacity="0.46" stroke-linecap="round"/><path d="M244.1 253.6L246.3 247.9" stroke="#D8BC84" stroke-width="1.6" stroke-opacity="0.49" stroke-linecap="round"/><path d="M223.5 271.7L224.3 267.8" stroke="#D8BC84" stroke-width="1.7" stroke-opacity="0.36" stroke-linecap="round"/><path d="M232.3 291.6L233.8 288.0" stroke="#D8BC84" stroke-width="1.6" stroke-opacity="0.47" stroke-linecap="round"/><path d="M287.0 262.2L289.1 258.3" stroke="#D8BC84" stroke-width="1.0" stroke-opacity="0.54" stroke-linecap="round"/><path d="M257.2 314.8L258.6 311.6" stroke="#D8BC84" stroke-width="1.4" stroke-opacity="0.65" stroke-linecap="round"/><path d="M263.6 261.0L265.1 255.0" stroke="#D8BC84" stroke-width="1.2" stroke-opacity="0.47" stroke-linecap="round"/><path d="M259.1 308.8L261.1 305.5" stroke="#D8BC84" stroke-width="1.0" stroke-opacity="0.50" stroke-linecap="round"/><path d="M205.7 303.4L206.2 297.3" stroke="#D8BC84" stroke-width="1.7" stroke-opacity="0.51" stroke-linecap="round"/><path d="M243.3 273.5L244.2 266.9" stroke="#D8BC84" stroke-width="1.6" stroke-opacity="0.59" stroke-linecap="round"/><path d="M267.4 231.4L270.9 225.6" stroke="#D8BC84" stroke-width="1.5" stroke-opacity="0.47" stroke-linecap="round"/><path d="M270.6 292.9L271.9 288.2" stroke="#D8BC84" stroke-width="1.7" stroke-opacity="0.40" stroke-linecap="round"/><path d="M268.7 244.3L270.4 240.3" stroke="#D8BC84" stroke-width="1.7" stroke-opacity="0.61" stroke-linecap="round"/><path d="M240.8 327.1L243.3 322.4" stroke="#D8BC84" stroke-width="1.5" stroke-opacity="0.36" stroke-linecap="round"/><path d="M262.4 315.8L264.2 309.3" stroke="#D8BC84" stroke-width="1.4" stroke-opacity="0.55" stroke-linecap="round"/><path d="M237.8 241.8L238.4 235.5" stroke="#D8BC84" stroke-width="1.0" stroke-opacity="0.36" stroke-linecap="round"/><path d="M220.6 271.5L222.1 269.2" stroke="#D8BC84" stroke-width="1.2" stroke-opacity="0.57" stroke-linecap="round"/><path d="M281.2 231.5L281.9 228.7" stroke="#D8BC84" stroke-width="1.6" stroke-opacity="0.40" stroke-linecap="round"/>
<path d="M262.8 335.2L263.0 334.0" stroke="#3E429A" stroke-width="2.0" stroke-opacity="0.49" stroke-linecap="round"/><path d="M281.0 336.0L280.8 333.3" stroke="#3E429A" stroke-width="2.0" stroke-opacity="0.46" stroke-linecap="round"/><path d="M303.0 267.1L302.7 264.9" stroke="#3E429A" stroke-width="2.1" stroke-opacity="0.46" stroke-linecap="round"/><path d="M250.8 339.2L251.5 338.0" stroke="#3E429A" stroke-width="2.3" stroke-opacity="0.65" stroke-linecap="round"/><path d="M295.8 256.8L296.2 255.9" stroke="#3E429A" stroke-width="2.1" stroke-opacity="0.71" stroke-linecap="round"/><path d="M275.6 319.7L276.1 317.9" stroke="#3E429A" stroke-width="1.8" stroke-opacity="0.47" stroke-linecap="round"/><path d="M274.2 237.7L274.2 236.3" stroke="#3E429A" stroke-width="2.0" stroke-opacity="0.49" stroke-linecap="round"/><path d="M298.7 305.5L299.4 302.5" stroke="#3E429A" stroke-width="2.0" stroke-opacity="0.69" stroke-linecap="round"/><path d="M249.6 320.8L250.0 318.9" stroke="#3E429A" stroke-width="2.3" stroke-opacity="0.57" stroke-linecap="round"/><path d="M286.8 308.2L287.3 305.8" stroke="#3E429A" stroke-width="2.6" stroke-opacity="0.83" stroke-linecap="round"/><path d="M278.1 331.6L278.6 329.1" stroke="#3E429A" stroke-width="1.5" stroke-opacity="0.72" stroke-linecap="round"/><path d="M287.0 336.3L287.1 333.7" stroke="#3E429A" stroke-width="2.1" stroke-opacity="0.76" stroke-linecap="round"/><path d="M263.9 333.2L264.1 331.8" stroke="#3E429A" stroke-width="2.6" stroke-opacity="0.61" stroke-linecap="round"/><path d="M274.7 328.3L274.7 325.7" stroke="#3E429A" stroke-width="2.7" stroke-opacity="0.68" stroke-linecap="round"/><path d="M286.4 305.6L286.7 304.6" stroke="#3E429A" stroke-width="2.7" stroke-opacity="0.60" stroke-linecap="round"/><path d="M263.0 314.1L263.9 312.1" stroke="#3E429A" stroke-width="2.8" stroke-opacity="0.50" stroke-linecap="round"/><path d="M261.5 330.6L261.6 329.6" stroke="#3E429A" stroke-width="2.8" stroke-opacity="0.56" stroke-linecap="round"/><path d="M270.8 285.8L271.3 284.6" stroke="#3E429A" stroke-width="2.3" stroke-opacity="0.73" stroke-linecap="round"/><path d="M293.0 327.3L292.9 325.7" stroke="#3E429A" stroke-width="2.5" stroke-opacity="0.75" stroke-linecap="round"/><path d="M285.9 245.5L286.2 244.7" stroke="#3E429A" stroke-width="2.2" stroke-opacity="0.87" stroke-linecap="round"/><path d="M297.2 305.4L297.5 304.1" stroke="#3E429A" stroke-width="2.3" stroke-opacity="0.51" stroke-linecap="round"/><path d="M298.4 328.6L298.3 326.9" stroke="#3E429A" stroke-width="1.3" stroke-opacity="0.71" stroke-linecap="round"/><path d="M255.5 296.0L255.4 294.4" stroke="#3E429A" stroke-width="1.6" stroke-opacity="0.66" stroke-linecap="round"/><path d="M284.3 233.7L284.1 231.4" stroke="#3E429A" stroke-width="1.5" stroke-opacity="0.63" stroke-linecap="round"/><path d="M284.7 298.2L286.3 295.2" stroke="#3E429A" stroke-width="2.7" stroke-opacity="0.49" stroke-linecap="round"/><path d="M295.8 261.1L295.6 257.9" stroke="#3E429A" stroke-width="2.1" stroke-opacity="0.70" stroke-linecap="round"/><path d="M253.7 338.6L253.9 337.4" stroke="#3E429A" stroke-width="2.6" stroke-opacity="0.77" stroke-linecap="round"/><path d="M290.0 334.1L289.8 332.3" stroke="#3E429A" stroke-width="2.4" stroke-opacity="0.70" stroke-linecap="round"/><path d="M261.2 289.0L261.1 286.3" stroke="#3E429A" stroke-width="2.4" stroke-opacity="0.48" stroke-linecap="round"/><path d="M278.7 277.8L278.6 275.1" stroke="#3E429A" stroke-width="2.5" stroke-opacity="0.74" stroke-linecap="round"/><path d="M266.7 263.5L267.5 262.1" stroke="#3E429A" stroke-width="1.4" stroke-opacity="0.90" stroke-linecap="round"/><path d="M299.8 271.4L300.0 270.3" stroke="#3E429A" stroke-width="1.8" stroke-opacity="0.61" stroke-linecap="round"/><path d="M271.2 274.7L271.7 272.8" stroke="#3E429A" stroke-width="2.5" stroke-opacity="0.48" stroke-linecap="round"/><path d="M297.2 310.3L297.8 309.0" stroke="#3E429A" stroke-width="2.2" stroke-opacity="0.72" stroke-linecap="round"/><path d="M292.9 329.8L292.8 327.2" stroke="#3E429A" stroke-width="2.4" stroke-opacity="0.55" stroke-linecap="round"/><path d="M308.4 260.3L309.7 257.2" stroke="#3E429A" stroke-width="2.4" stroke-opacity="0.86" stroke-linecap="round"/><path d="M304.1 281.6L304.4 278.2" stroke="#3E429A" stroke-width="2.4" stroke-opacity="0.80" stroke-linecap="round"/><path d="M256.8 306.0L257.6 304.1" stroke="#3E429A" stroke-width="2.6" stroke-opacity="0.50" stroke-linecap="round"/><path d="M300.9 288.8L301.0 287.9" stroke="#3E429A" stroke-width="2.5" stroke-opacity="0.65" stroke-linecap="round"/><path d="M250.6 319.4L251.4 316.7" stroke="#3E429A" stroke-width="2.6" stroke-opacity="0.90" stroke-linecap="round"/><path d="M281.9 251.1L282.2 248.5" stroke="#3E429A" stroke-width="1.6" stroke-opacity="0.60" stroke-linecap="round"/><path d="M280.2 309.4L280.2 307.8" stroke="#3E429A" stroke-width="2.7" stroke-opacity="0.45" stroke-linecap="round"/><path d="M259.7 306.7L260.2 304.5" stroke="#3E429A" stroke-width="1.5" stroke-opacity="0.80" stroke-linecap="round"/><path d="M303.9 231.8L304.2 230.7" stroke="#3E429A" stroke-width="2.5" stroke-opacity="0.74" stroke-linecap="round"/><path d="M272.1 284.4L272.5 283.1" stroke="#3E429A" stroke-width="2.6" stroke-opacity="0.90" stroke-linecap="round"/><path d="M304.7 254.3L304.6 253.5" stroke="#3E429A" stroke-width="1.7" stroke-opacity="0.50" stroke-linecap="round"/><path d="M272.7 256.3L273.1 254.4" stroke="#3E429A" stroke-width="2.7" stroke-opacity="0.53" stroke-linecap="round"/><path d="M262.9 294.5L263.2 293.6" stroke="#3E429A" stroke-width="1.5" stroke-opacity="0.87" stroke-linecap="round"/><path d="M256.7 287.0L257.0 285.4" stroke="#3E429A" stroke-width="2.4" stroke-opacity="0.67" stroke-linecap="round"/><path d="M299.3 315.2L299.7 313.4" stroke="#3E429A" stroke-width="2.5" stroke-opacity="0.60" stroke-linecap="round"/><path d="M299.5 326.7L299.3 324.8" stroke="#3E429A" stroke-width="1.7" stroke-opacity="0.74" stroke-linecap="round"/><path d="M286.9 295.9L287.5 294.1" stroke="#3E429A" stroke-width="2.5" stroke-opacity="0.88" stroke-linecap="round"/><path d="M273.2 269.7L274.0 267.1" stroke="#3E429A" stroke-width="2.8" stroke-opacity="0.64" stroke-linecap="round"/><path d="M287.7 274.3L288.5 271.9" stroke="#3E429A" stroke-width="1.4" stroke-opacity="0.87" stroke-linecap="round"/><path d="M295.0 234.5L295.5 233.4" stroke="#3E429A" stroke-width="2.6" stroke-opacity="0.87" stroke-linecap="round"/><path d="M275.1 281.2L276.1 279.1" stroke="#3E429A" stroke-width="1.8" stroke-opacity="0.52" stroke-linecap="round"/><path d="M288.6 264.6L289.7 261.7" stroke="#3E429A" stroke-width="1.5" stroke-opacity="0.65" stroke-linecap="round"/><path d="M309.5 280.6L309.6 278.8" stroke="#3E429A" stroke-width="1.5" stroke-opacity="0.84" stroke-linecap="round"/><path d="M298.0 300.7L298.0 299.5" stroke="#3E429A" stroke-width="2.2" stroke-opacity="0.86" stroke-linecap="round"/><path d="M264.5 263.3L264.9 261.8" stroke="#3E429A" stroke-width="2.1" stroke-opacity="0.72" stroke-linecap="round"/><path d="M260.1 292.1L260.3 289.3" stroke="#3E429A" stroke-width="1.9" stroke-opacity="0.69" stroke-linecap="round"/><path d="M251.8 303.4L252.2 301.5" stroke="#3E429A" stroke-width="2.0" stroke-opacity="0.90" stroke-linecap="round"/><path d="M288.7 229.8L288.8 226.8" stroke="#3E429A" stroke-width="2.6" stroke-opacity="0.88" stroke-linecap="round"/><path d="M261.7 299.0L262.5 296.6" stroke="#3E429A" stroke-width="1.6" stroke-opacity="0.83" stroke-linecap="round"/><path d="M245.0 325.2L245.4 322.5" stroke="#3E429A" stroke-width="2.6" stroke-opacity="0.66" stroke-linecap="round"/><path d="M272.6 312.6L272.9 311.9" stroke="#3E429A" stroke-width="2.2" stroke-opacity="0.50" stroke-linecap="round"/><path d="M277.1 241.5L277.2 240.4" stroke="#3E429A" stroke-width="2.4" stroke-opacity="0.46" stroke-linecap="round"/><path d="M283.4 267.2L284.0 265.4" stroke="#3E429A" stroke-width="1.6" stroke-opacity="0.59" stroke-linecap="round"/><path d="M307.6 280.6L307.9 279.5" stroke="#3E429A" stroke-width="2.2" stroke-opacity="0.85" stroke-linecap="round"/><path d="M290.8 281.6L290.8 280.7" stroke="#3E429A" stroke-width="1.7" stroke-opacity="0.74" stroke-linecap="round"/><path d="M273.9 315.7L273.8 312.8" stroke="#3E429A" stroke-width="1.5" stroke-opacity="0.84" stroke-linecap="round"/><path d="M240.8 339.9L240.5 337.5" stroke="#3E429A" stroke-width="1.4" stroke-opacity="0.81" stroke-linecap="round"/><path d="M297.5 254.3L298.9 251.5" stroke="#3E429A" stroke-width="2.7" stroke-opacity="0.80" stroke-linecap="round"/><path d="M272.6 264.6L272.8 262.8" stroke="#3E429A" stroke-width="2.7" stroke-opacity="0.51" stroke-linecap="round"/><path d="M303.0 277.7L303.1 276.1" stroke="#3E429A" stroke-width="2.8" stroke-opacity="0.51" stroke-linecap="round"/><path d="M306.8 232.2L306.8 230.8" stroke="#3E429A" stroke-width="2.7" stroke-opacity="0.77" stroke-linecap="round"/><path d="M260.1 338.6L260.5 337.6" stroke="#3E429A" stroke-width="2.2" stroke-opacity="0.69" stroke-linecap="round"/><path d="M283.5 328.1L283.7 326.9" stroke="#3E429A" stroke-width="2.3" stroke-opacity="0.79" stroke-linecap="round"/><path d="M248.2 337.9L248.7 336.7" stroke="#3E429A" stroke-width="2.5" stroke-opacity="0.57" stroke-linecap="round"/><path d="M274.0 272.1L274.1 271.1" stroke="#3E429A" stroke-width="1.4" stroke-opacity="0.74" stroke-linecap="round"/><path d="M302.5 235.5L303.3 233.7" stroke="#3E429A" stroke-width="2.2" stroke-opacity="0.85" stroke-linecap="round"/><path d="M299.0 261.3L299.3 258.4" stroke="#3E429A" stroke-width="2.1" stroke-opacity="0.77" stroke-linecap="round"/><path d="M261.0 329.1L261.0 327.1" stroke="#3E429A" stroke-width="1.9" stroke-opacity="0.73" stroke-linecap="round"/><path d="M309.3 280.0L309.6 278.7" stroke="#3E429A" stroke-width="1.3" stroke-opacity="0.49" stroke-linecap="round"/><path d="M292.6 332.5L292.4 329.6" stroke="#3E429A" stroke-width="2.0" stroke-opacity="0.52" stroke-linecap="round"/><path d="M295.2 250.0L295.7 248.9" stroke="#3E429A" stroke-width="2.4" stroke-opacity="0.65" stroke-linecap="round"/><path d="M286.7 337.3L287.8 334.7" stroke="#3E429A" stroke-width="1.6" stroke-opacity="0.78" stroke-linecap="round"/><path d="M281.2 253.1L282.0 250.0" stroke="#3E429A" stroke-width="2.8" stroke-opacity="0.89" stroke-linecap="round"/><path d="M285.3 252.8L285.0 249.8" stroke="#3E429A" stroke-width="1.5" stroke-opacity="0.64" stroke-linecap="round"/><path d="M292.5 286.2L293.3 284.5" stroke="#3E429A" stroke-width="1.4" stroke-opacity="0.73" stroke-linecap="round"/><path d="M258.2 285.3L258.3 283.5" stroke="#3E429A" stroke-width="2.5" stroke-opacity="0.53" stroke-linecap="round"/><path d="M276.4 275.2L277.2 272.0" stroke="#3E429A" stroke-width="1.7" stroke-opacity="0.90" stroke-linecap="round"/><path d="M272.7 327.9L272.8 326.4" stroke="#3E429A" stroke-width="2.0" stroke-opacity="0.73" stroke-linecap="round"/><path d="M287.1 334.3L287.4 331.3" stroke="#3E429A" stroke-width="2.5" stroke-opacity="0.74" stroke-linecap="round"/><path d="M264.5 258.7L265.9 255.6" stroke="#3E429A" stroke-width="1.5" stroke-opacity="0.69" stroke-linecap="round"/><path d="M244.0 328.3L244.1 324.8" stroke="#3E429A" stroke-width="1.5" stroke-opacity="0.56" stroke-linecap="round"/><path d="M258.7 297.8L258.8 296.1" stroke="#3E429A" stroke-width="1.4" stroke-opacity="0.71" stroke-linecap="round"/><path d="M254.4 300.7L254.8 298.7" stroke="#3E429A" stroke-width="2.2" stroke-opacity="0.54" stroke-linecap="round"/><path d="M271.1 272.5L270.9 269.8" stroke="#3E429A" stroke-width="1.9" stroke-opacity="0.45" stroke-linecap="round"/><path d="M257.7 315.3L257.9 314.4" stroke="#3E429A" stroke-width="2.1" stroke-opacity="0.65" stroke-linecap="round"/>
<path d="M277.5 253.9L278.4 251.6" stroke="#CED2E4" stroke-width="1.2" stroke-opacity="0.42" stroke-linecap="round"/><path d="M310.8 269.4L312.1 266.9" stroke="#CED2E4" stroke-width="2.0" stroke-opacity="0.46" stroke-linecap="round"/><path d="M292.8 312.5L294.0 309.6" stroke="#CED2E4" stroke-width="2.1" stroke-opacity="0.63" stroke-linecap="round"/><path d="M284.6 297.1L284.7 295.7" stroke="#CED2E4" stroke-width="2.0" stroke-opacity="0.54" stroke-linecap="round"/><path d="M307.6 268.2L307.8 267.1" stroke="#CED2E4" stroke-width="1.9" stroke-opacity="0.70" stroke-linecap="round"/><path d="M276.9 235.0L277.2 233.7" stroke="#CED2E4" stroke-width="2.2" stroke-opacity="0.75" stroke-linecap="round"/><path d="M268.6 252.0L269.4 249.2" stroke="#CED2E4" stroke-width="1.2" stroke-opacity="0.41" stroke-linecap="round"/><path d="M293.5 331.0L293.7 328.1" stroke="#CED2E4" stroke-width="1.3" stroke-opacity="0.47" stroke-linecap="round"/><path d="M249.8 335.3L250.3 333.5" stroke="#CED2E4" stroke-width="1.3" stroke-opacity="0.45" stroke-linecap="round"/><path d="M283.2 264.1L283.3 261.3" stroke="#CED2E4" stroke-width="1.7" stroke-opacity="0.67" stroke-linecap="round"/><path d="M268.1 315.2L268.3 311.7" stroke="#CED2E4" stroke-width="1.9" stroke-opacity="0.44" stroke-linecap="round"/><path d="M275.2 274.0L276.5 271.1" stroke="#CED2E4" stroke-width="2.1" stroke-opacity="0.50" stroke-linecap="round"/><path d="M282.7 319.1L283.1 317.9" stroke="#CED2E4" stroke-width="1.6" stroke-opacity="0.41" stroke-linecap="round"/><path d="M279.4 228.8L279.3 227.3" stroke="#CED2E4" stroke-width="2.1" stroke-opacity="0.63" stroke-linecap="round"/><path d="M288.4 237.6L289.0 236.3" stroke="#CED2E4" stroke-width="1.2" stroke-opacity="0.47" stroke-linecap="round"/><path d="M274.9 284.7L275.5 282.4" stroke="#CED2E4" stroke-width="2.0" stroke-opacity="0.55" stroke-linecap="round"/><path d="M268.0 242.4L269.3 239.4" stroke="#CED2E4" stroke-width="1.3" stroke-opacity="0.51" stroke-linecap="round"/><path d="M272.1 239.8L272.3 237.9" stroke="#CED2E4" stroke-width="1.7" stroke-opacity="0.79" stroke-linecap="round"/><path d="M278.9 319.0L279.4 318.1" stroke="#CED2E4" stroke-width="1.9" stroke-opacity="0.78" stroke-linecap="round"/><path d="M285.3 245.3L285.4 242.8" stroke="#CED2E4" stroke-width="1.4" stroke-opacity="0.48" stroke-linecap="round"/><path d="M294.4 334.0L294.6 331.3" stroke="#CED2E4" stroke-width="1.5" stroke-opacity="0.57" stroke-linecap="round"/><path d="M248.7 327.1L249.4 324.2" stroke="#CED2E4" stroke-width="2.2" stroke-opacity="0.76" stroke-linecap="round"/><path d="M270.6 323.5L271.9 320.3" stroke="#CED2E4" stroke-width="1.7" stroke-opacity="0.68" stroke-linecap="round"/><path d="M304.4 259.3L305.1 257.7" stroke="#CED2E4" stroke-width="1.3" stroke-opacity="0.76" stroke-linecap="round"/><path d="M306.9 264.4L308.2 261.6" stroke="#CED2E4" stroke-width="1.8" stroke-opacity="0.71" stroke-linecap="round"/><path d="M297.0 309.8L297.4 308.3" stroke="#CED2E4" stroke-width="1.4" stroke-opacity="0.51" stroke-linecap="round"/><path d="M296.7 320.7L297.3 319.3" stroke="#CED2E4" stroke-width="1.8" stroke-opacity="0.59" stroke-linecap="round"/><path d="M271.0 242.6L272.2 239.5" stroke="#CED2E4" stroke-width="1.8" stroke-opacity="0.63" stroke-linecap="round"/><path d="M287.3 272.3L287.8 271.0" stroke="#CED2E4" stroke-width="2.1" stroke-opacity="0.69" stroke-linecap="round"/><path d="M292.6 237.4L293.7 234.7" stroke="#CED2E4" stroke-width="1.5" stroke-opacity="0.53" stroke-linecap="round"/><path d="M255.1 333.7L255.0 331.2" stroke="#CED2E4" stroke-width="1.6" stroke-opacity="0.73" stroke-linecap="round"/><path d="M275.4 246.5L275.8 245.0" stroke="#CED2E4" stroke-width="1.7" stroke-opacity="0.49" stroke-linecap="round"/><path d="M290.1 299.7L291.1 296.8" stroke="#CED2E4" stroke-width="1.6" stroke-opacity="0.65" stroke-linecap="round"/><path d="M276.3 287.5L276.9 285.3" stroke="#CED2E4" stroke-width="1.6" stroke-opacity="0.46" stroke-linecap="round"/><path d="M294.1 334.9L295.0 332.8" stroke="#CED2E4" stroke-width="2.0" stroke-opacity="0.62" stroke-linecap="round"/><path d="M314.5 266.0L314.8 264.0" stroke="#CED2E4" stroke-width="1.7" stroke-opacity="0.46" stroke-linecap="round"/><path d="M275.2 274.1L275.1 270.8" stroke="#CED2E4" stroke-width="1.6" stroke-opacity="0.78" stroke-linecap="round"/><path d="M268.8 336.7L269.2 333.7" stroke="#CED2E4" stroke-width="2.0" stroke-opacity="0.79" stroke-linecap="round"/><path d="M292.0 250.9L291.8 248.5" stroke="#CED2E4" stroke-width="1.6" stroke-opacity="0.66" stroke-linecap="round"/><path d="M285.6 228.3L286.0 226.2" stroke="#CED2E4" stroke-width="2.2" stroke-opacity="0.61" stroke-linecap="round"/><path d="M248.3 308.9L249.2 306.3" stroke="#CED2E4" stroke-width="1.4" stroke-opacity="0.45" stroke-linecap="round"/><path d="M297.3 264.1L297.6 262.5" stroke="#CED2E4" stroke-width="2.1" stroke-opacity="0.76" stroke-linecap="round"/><path d="M294.4 308.6L294.1 306.0" stroke="#CED2E4" stroke-width="1.9" stroke-opacity="0.41" stroke-linecap="round"/><path d="M289.1 252.7L288.7 249.2" stroke="#CED2E4" stroke-width="1.7" stroke-opacity="0.73" stroke-linecap="round"/><path d="M271.0 276.0L270.9 274.6" stroke="#CED2E4" stroke-width="1.6" stroke-opacity="0.55" stroke-linecap="round"/><path d="M284.7 270.4L284.6 269.3" stroke="#CED2E4" stroke-width="1.2" stroke-opacity="0.56" stroke-linecap="round"/><path d="M266.9 310.6L267.4 308.5" stroke="#CED2E4" stroke-width="2.1" stroke-opacity="0.40" stroke-linecap="round"/><path d="M265.8 321.4L266.7 319.1" stroke="#CED2E4" stroke-width="1.6" stroke-opacity="0.78" stroke-linecap="round"/><path d="M286.7 323.5L286.7 322.1" stroke="#CED2E4" stroke-width="1.9" stroke-opacity="0.49" stroke-linecap="round"/><path d="M291.2 290.6L291.7 287.2" stroke="#CED2E4" stroke-width="1.7" stroke-opacity="0.54" stroke-linecap="round"/><path d="M280.3 277.4L280.6 275.0" stroke="#CED2E4" stroke-width="1.9" stroke-opacity="0.56" stroke-linecap="round"/><path d="M259.1 303.1L259.4 299.6" stroke="#CED2E4" stroke-width="1.8" stroke-opacity="0.47" stroke-linecap="round"/><path d="M300.3 315.9L300.3 313.6" stroke="#CED2E4" stroke-width="1.3" stroke-opacity="0.56" stroke-linecap="round"/><path d="M246.7 332.8L247.3 329.8" stroke="#CED2E4" stroke-width="1.3" stroke-opacity="0.69" stroke-linecap="round"/><path d="M279.0 304.0L278.8 301.9" stroke="#CED2E4" stroke-width="1.3" stroke-opacity="0.57" stroke-linecap="round"/><path d="M309.8 277.5L311.0 275.0" stroke="#CED2E4" stroke-width="1.9" stroke-opacity="0.56" stroke-linecap="round"/><path d="M269.4 257.5L269.8 256.0" stroke="#CED2E4" stroke-width="1.4" stroke-opacity="0.47" stroke-linecap="round"/><path d="M300.4 319.4L300.5 316.2" stroke="#CED2E4" stroke-width="1.6" stroke-opacity="0.58" stroke-linecap="round"/><path d="M260.3 272.5L260.7 269.1" stroke="#CED2E4" stroke-width="1.2" stroke-opacity="0.63" stroke-linecap="round"/><path d="M277.0 329.0L276.9 326.4" stroke="#CED2E4" stroke-width="1.5" stroke-opacity="0.51" stroke-linecap="round"/>
<path d="M291.5 289.8L292.2 287.9" stroke="#2A1704" stroke-width="1.9" stroke-opacity="0.58" stroke-linecap="round"/><path d="M268.1 279.0L269.2 276.8" stroke="#2A1704" stroke-width="2.1" stroke-opacity="0.57" stroke-linecap="round"/><path d="M273.4 251.2L274.1 249.0" stroke="#2A1704" stroke-width="1.3" stroke-opacity="0.40" stroke-linecap="round"/><path d="M285.3 233.6L285.7 232.5" stroke="#2A1704" stroke-width="2.1" stroke-opacity="0.69" stroke-linecap="round"/><path d="M302.9 234.3L302.9 231.6" stroke="#2A1704" stroke-width="2.1" stroke-opacity="0.46" stroke-linecap="round"/><path d="M295.5 270.7L295.5 267.4" stroke="#2A1704" stroke-width="2.0" stroke-opacity="0.80" stroke-linecap="round"/><path d="M272.1 322.9L272.0 320.3" stroke="#2A1704" stroke-width="1.0" stroke-opacity="0.83" stroke-linecap="round"/><path d="M287.1 241.1L288.0 238.3" stroke="#2A1704" stroke-width="1.0" stroke-opacity="0.47" stroke-linecap="round"/><path d="M291.4 270.3L291.6 268.3" stroke="#2A1704" stroke-width="1.8" stroke-opacity="0.82" stroke-linecap="round"/><path d="M300.0 319.1L300.0 318.1" stroke="#2A1704" stroke-width="1.8" stroke-opacity="0.53" stroke-linecap="round"/><path d="M283.8 319.7L283.8 316.2" stroke="#2A1704" stroke-width="2.0" stroke-opacity="0.51" stroke-linecap="round"/><path d="M304.6 268.3L304.3 265.6" stroke="#2A1704" stroke-width="1.6" stroke-opacity="0.78" stroke-linecap="round"/><path d="M270.0 267.3L270.5 265.7" stroke="#2A1704" stroke-width="2.0" stroke-opacity="0.58" stroke-linecap="round"/><path d="M287.3 295.7L287.4 292.9" stroke="#2A1704" stroke-width="2.1" stroke-opacity="0.68" stroke-linecap="round"/><path d="M286.4 296.7L287.7 293.6" stroke="#2A1704" stroke-width="2.0" stroke-opacity="0.68" stroke-linecap="round"/><path d="M309.7 249.1L309.9 247.0" stroke="#2A1704" stroke-width="1.8" stroke-opacity="0.75" stroke-linecap="round"/><path d="M290.5 237.3L290.4 235.6" stroke="#2A1704" stroke-width="1.9" stroke-opacity="0.68" stroke-linecap="round"/><path d="M289.5 307.7L290.6 305.5" stroke="#2A1704" stroke-width="1.9" stroke-opacity="0.58" stroke-linecap="round"/><path d="M264.9 336.1L266.0 333.9" stroke="#2A1704" stroke-width="1.1" stroke-opacity="0.59" stroke-linecap="round"/><path d="M305.1 281.0L306.0 279.3" stroke="#2A1704" stroke-width="1.4" stroke-opacity="0.51" stroke-linecap="round"/><path d="M259.1 303.0L259.3 301.1" stroke="#2A1704" stroke-width="1.1" stroke-opacity="0.79" stroke-linecap="round"/><path d="M292.2 340.8L292.6 339.3" stroke="#2A1704" stroke-width="1.0" stroke-opacity="0.84" stroke-linecap="round"/><path d="M297.1 327.5L297.7 326.1" stroke="#2A1704" stroke-width="1.7" stroke-opacity="0.47" stroke-linecap="round"/><path d="M282.9 330.5L282.9 327.4" stroke="#2A1704" stroke-width="1.7" stroke-opacity="0.55" stroke-linecap="round"/><path d="M270.0 341.1L269.6 337.9" stroke="#2A1704" stroke-width="2.2" stroke-opacity="0.74" stroke-linecap="round"/><path d="M309.7 269.9L310.2 267.9" stroke="#2A1704" stroke-width="1.9" stroke-opacity="0.83" stroke-linecap="round"/><path d="M298.0 317.4L297.9 315.2" stroke="#2A1704" stroke-width="2.0" stroke-opacity="0.75" stroke-linecap="round"/><path d="M278.7 271.9L278.9 269.5" stroke="#2A1704" stroke-width="1.1" stroke-opacity="0.60" stroke-linecap="round"/><path d="M299.9 256.9L300.2 255.5" stroke="#2A1704" stroke-width="1.5" stroke-opacity="0.42" stroke-linecap="round"/><path d="M263.1 330.5L263.9 327.6" stroke="#2A1704" stroke-width="1.6" stroke-opacity="0.80" stroke-linecap="round"/><path d="M276.2 248.8L276.9 247.3" stroke="#2A1704" stroke-width="1.8" stroke-opacity="0.55" stroke-linecap="round"/><path d="M295.1 241.1L295.3 240.0" stroke="#2A1704" stroke-width="2.1" stroke-opacity="0.63" stroke-linecap="round"/><path d="M299.7 330.7L299.5 327.3" stroke="#2A1704" stroke-width="1.9" stroke-opacity="0.79" stroke-linecap="round"/><path d="M258.1 322.1L258.1 320.5" stroke="#2A1704" stroke-width="1.0" stroke-opacity="0.58" stroke-linecap="round"/><path d="M299.7 263.9L299.2 260.8" stroke="#2A1704" stroke-width="1.8" stroke-opacity="0.42" stroke-linecap="round"/><path d="M258.4 340.2L258.6 338.7" stroke="#2A1704" stroke-width="1.6" stroke-opacity="0.85" stroke-linecap="round"/><path d="M294.7 234.6L295.8 232.4" stroke="#2A1704" stroke-width="2.1" stroke-opacity="0.59" stroke-linecap="round"/><path d="M293.9 263.0L294.2 261.9" stroke="#2A1704" stroke-width="2.0" stroke-opacity="0.42" stroke-linecap="round"/><path d="M279.4 256.4L280.3 254.1" stroke="#2A1704" stroke-width="1.8" stroke-opacity="0.73" stroke-linecap="round"/><path d="M253.5 334.7L253.7 333.3" stroke="#2A1704" stroke-width="1.6" stroke-opacity="0.79" stroke-linecap="round"/><path d="M307.0 257.0L306.8 255.6" stroke="#2A1704" stroke-width="1.1" stroke-opacity="0.48" stroke-linecap="round"/><path d="M294.5 295.3L295.2 293.7" stroke="#2A1704" stroke-width="1.6" stroke-opacity="0.53" stroke-linecap="round"/><path d="M296.6 252.4L296.4 250.7" stroke="#2A1704" stroke-width="1.9" stroke-opacity="0.67" stroke-linecap="round"/><path d="M286.6 311.0L287.3 309.1" stroke="#2A1704" stroke-width="1.8" stroke-opacity="0.50" stroke-linecap="round"/><path d="M276.2 309.5L276.2 307.5" stroke="#2A1704" stroke-width="2.0" stroke-opacity="0.71" stroke-linecap="round"/><path d="M268.4 341.4L268.9 339.0" stroke="#2A1704" stroke-width="1.9" stroke-opacity="0.79" stroke-linecap="round"/><path d="M302.9 266.1L303.7 263.5" stroke="#2A1704" stroke-width="1.8" stroke-opacity="0.52" stroke-linecap="round"/><path d="M315.6 245.6L316.1 244.5" stroke="#2A1704" stroke-width="1.2" stroke-opacity="0.63" stroke-linecap="round"/><path d="M310.4 250.7L311.4 247.5" stroke="#2A1704" stroke-width="1.6" stroke-opacity="0.78" stroke-linecap="round"/><path d="M281.7 303.9L282.1 302.3" stroke="#2A1704" stroke-width="1.3" stroke-opacity="0.73" stroke-linecap="round"/>
<path d="M231.9 273.2L231.8 270.8" stroke="#46280A" stroke-width="1.7" stroke-opacity="0.54" stroke-linecap="round"/><path d="M235.7 334.0L235.3 332.0" stroke="#46280A" stroke-width="1.5" stroke-opacity="0.46" stroke-linecap="round"/><path d="M247.6 310.0L247.6 309.1" stroke="#46280A" stroke-width="1.9" stroke-opacity="0.84" stroke-linecap="round"/><path d="M184.8 251.7L184.9 250.6" stroke="#46280A" stroke-width="1.6" stroke-opacity="0.35" stroke-linecap="round"/><path d="M210.2 287.9L210.1 286.1" stroke="#46280A" stroke-width="2.6" stroke-opacity="0.54" stroke-linecap="round"/><path d="M238.2 325.5L237.9 322.7" stroke="#46280A" stroke-width="1.6" stroke-opacity="0.60" stroke-linecap="round"/><path d="M217.8 265.0L217.9 264.2" stroke="#46280A" stroke-width="2.1" stroke-opacity="0.55" stroke-linecap="round"/><path d="M204.5 309.2L204.6 307.2" stroke="#46280A" stroke-width="1.3" stroke-opacity="0.43" stroke-linecap="round"/><path d="M208.1 230.6L208.1 228.5" stroke="#46280A" stroke-width="1.8" stroke-opacity="0.45" stroke-linecap="round"/><path d="M184.2 263.9L184.1 262.5" stroke="#46280A" stroke-width="1.9" stroke-opacity="0.37" stroke-linecap="round"/><path d="M225.3 324.3L225.0 323.5" stroke="#46280A" stroke-width="1.9" stroke-opacity="0.42" stroke-linecap="round"/><path d="M225.3 260.7L226.1 259.2" stroke="#46280A" stroke-width="1.6" stroke-opacity="0.78" stroke-linecap="round"/><path d="M223.8 262.7L224.0 262.1" stroke="#46280A" stroke-width="1.3" stroke-opacity="0.71" stroke-linecap="round"/><path d="M188.3 244.8L187.9 242.3" stroke="#46280A" stroke-width="1.9" stroke-opacity="0.62" stroke-linecap="round"/><path d="M235.4 261.2L235.0 258.4" stroke="#46280A" stroke-width="1.5" stroke-opacity="0.61" stroke-linecap="round"/><path d="M234.9 242.4L234.4 240.2" stroke="#46280A" stroke-width="1.2" stroke-opacity="0.47" stroke-linecap="round"/><path d="M189.4 255.7L189.6 255.0" stroke="#46280A" stroke-width="1.7" stroke-opacity="0.78" stroke-linecap="round"/><path d="M184.4 230.6L185.0 227.9" stroke="#46280A" stroke-width="2.6" stroke-opacity="0.46" stroke-linecap="round"/><path d="M249.1 231.5L249.2 229.2" stroke="#46280A" stroke-width="1.3" stroke-opacity="0.75" stroke-linecap="round"/><path d="M228.6 299.5L228.6 298.3" stroke="#46280A" stroke-width="2.5" stroke-opacity="0.45" stroke-linecap="round"/><path d="M194.7 319.9L194.8 318.9" stroke="#46280A" stroke-width="2.0" stroke-opacity="0.44" stroke-linecap="round"/><path d="M247.3 238.7L246.4 236.6" stroke="#46280A" stroke-width="1.9" stroke-opacity="0.48" stroke-linecap="round"/><path d="M224.6 241.5L224.8 238.7" stroke="#46280A" stroke-width="1.9" stroke-opacity="0.70" stroke-linecap="round"/><path d="M194.5 278.7L194.6 277.9" stroke="#46280A" stroke-width="1.4" stroke-opacity="0.50" stroke-linecap="round"/><path d="M224.8 341.0L225.0 338.4" stroke="#46280A" stroke-width="2.3" stroke-opacity="0.47" stroke-linecap="round"/><path d="M231.6 247.1L232.1 246.1" stroke="#46280A" stroke-width="2.0" stroke-opacity="0.36" stroke-linecap="round"/><path d="M226.6 299.5L227.5 297.5" stroke="#46280A" stroke-width="1.6" stroke-opacity="0.80" stroke-linecap="round"/><path d="M200.4 251.6L200.4 250.9" stroke="#46280A" stroke-width="2.4" stroke-opacity="0.59" stroke-linecap="round"/><path d="M219.1 286.3L219.3 285.2" stroke="#46280A" stroke-width="2.3" stroke-opacity="0.46" stroke-linecap="round"/><path d="M193.3 239.1L193.2 238.0" stroke="#46280A" stroke-width="2.6" stroke-opacity="0.77" stroke-linecap="round"/><path d="M203.0 330.0L202.8 328.2" stroke="#46280A" stroke-width="1.6" stroke-opacity="0.85" stroke-linecap="round"/><path d="M182.8 234.3L183.3 232.3" stroke="#46280A" stroke-width="2.6" stroke-opacity="0.84" stroke-linecap="round"/><path d="M197.6 275.4L197.7 274.0" stroke="#46280A" stroke-width="1.6" stroke-opacity="0.47" stroke-linecap="round"/><path d="M220.7 322.7L220.9 321.4" stroke="#46280A" stroke-width="1.9" stroke-opacity="0.62" stroke-linecap="round"/><path d="M221.1 294.6L221.3 293.7" stroke="#46280A" stroke-width="1.3" stroke-opacity="0.79" stroke-linecap="round"/><path d="M185.5 303.3L185.4 301.6" stroke="#46280A" stroke-width="2.0" stroke-opacity="0.53" stroke-linecap="round"/><path d="M223.6 250.1L223.9 247.9" stroke="#46280A" stroke-width="2.0" stroke-opacity="0.65" stroke-linecap="round"/><path d="M247.5 258.9L247.5 256.4" stroke="#46280A" stroke-width="2.3" stroke-opacity="0.65" stroke-linecap="round"/><path d="M196.2 326.6L196.5 324.9" stroke="#46280A" stroke-width="2.5" stroke-opacity="0.45" stroke-linecap="round"/><path d="M201.0 281.9L200.9 281.4" stroke="#46280A" stroke-width="2.5" stroke-opacity="0.67" stroke-linecap="round"/><path d="M222.6 275.8L222.4 272.9" stroke="#46280A" stroke-width="2.2" stroke-opacity="0.47" stroke-linecap="round"/><path d="M195.7 272.6L195.4 270.4" stroke="#46280A" stroke-width="1.6" stroke-opacity="0.64" stroke-linecap="round"/><path d="M183.9 292.0L184.0 289.9" stroke="#46280A" stroke-width="2.0" stroke-opacity="0.50" stroke-linecap="round"/><path d="M233.2 283.4L233.1 282.8" stroke="#46280A" stroke-width="1.3" stroke-opacity="0.45" stroke-linecap="round"/><path d="M244.1 270.4L244.3 269.3" stroke="#46280A" stroke-width="1.7" stroke-opacity="0.39" stroke-linecap="round"/><path d="M217.6 235.8L216.9 233.1" stroke="#46280A" stroke-width="2.2" stroke-opacity="0.71" stroke-linecap="round"/><path d="M212.2 273.8L212.2 272.6" stroke="#46280A" stroke-width="2.1" stroke-opacity="0.79" stroke-linecap="round"/><path d="M201.6 247.1L201.9 245.1" stroke="#46280A" stroke-width="1.8" stroke-opacity="0.42" stroke-linecap="round"/><path d="M202.8 237.3L202.8 235.7" stroke="#46280A" stroke-width="2.2" stroke-opacity="0.70" stroke-linecap="round"/><path d="M232.9 227.1L233.1 225.6" stroke="#46280A" stroke-width="1.9" stroke-opacity="0.37" stroke-linecap="round"/><path d="M223.1 241.0L223.4 239.9" stroke="#46280A" stroke-width="1.9" stroke-opacity="0.78" stroke-linecap="round"/><path d="M244.2 333.4L244.8 330.8" stroke="#46280A" stroke-width="1.6" stroke-opacity="0.69" stroke-linecap="round"/><path d="M194.2 331.4L193.3 328.7" stroke="#46280A" stroke-width="1.8" stroke-opacity="0.40" stroke-linecap="round"/><path d="M218.4 279.4L219.0 278.5" stroke="#46280A" stroke-width="1.7" stroke-opacity="0.49" stroke-linecap="round"/><path d="M183.7 230.1L183.8 228.3" stroke="#46280A" stroke-width="2.5" stroke-opacity="0.84" stroke-linecap="round"/><path d="M224.3 257.7L224.9 256.2" stroke="#46280A" stroke-width="1.4" stroke-opacity="0.60" stroke-linecap="round"/><path d="M228.4 228.8L228.0 226.6" stroke="#46280A" stroke-width="2.2" stroke-opacity="0.72" stroke-linecap="round"/><path d="M198.6 251.5L198.6 248.6" stroke="#46280A" stroke-width="2.3" stroke-opacity="0.37" stroke-linecap="round"/><path d="M226.0 265.0L226.4 262.6" stroke="#46280A" stroke-width="1.7" stroke-opacity="0.72" stroke-linecap="round"/><path d="M199.0 267.0L198.9 265.2" stroke="#46280A" stroke-width="2.0" stroke-opacity="0.56" stroke-linecap="round"/><path d="M239.7 289.9L240.0 288.5" stroke="#46280A" stroke-width="1.9" stroke-opacity="0.35" stroke-linecap="round"/><path d="M221.8 261.4L221.8 260.8" stroke="#46280A" stroke-width="1.3" stroke-opacity="0.39" stroke-linecap="round"/><path d="M217.9 235.5L217.7 234.0" stroke="#46280A" stroke-width="2.0" stroke-opacity="0.66" stroke-linecap="round"/><path d="M240.2 333.4L240.1 332.6" stroke="#46280A" stroke-width="1.8" stroke-opacity="0.47" stroke-linecap="round"/><path d="M250.4 297.6L250.3 296.0" stroke="#46280A" stroke-width="1.3" stroke-opacity="0.66" stroke-linecap="round"/><path d="M200.9 251.3L200.6 249.0" stroke="#46280A" stroke-width="2.2" stroke-opacity="0.37" stroke-linecap="round"/><path d="M216.3 273.9L216.2 272.3" stroke="#46280A" stroke-width="2.6" stroke-opacity="0.82" stroke-linecap="round"/><path d="M204.9 254.9L204.9 253.5" stroke="#46280A" stroke-width="1.8" stroke-opacity="0.54" stroke-linecap="round"/><path d="M249.7 229.2L249.9 228.6" stroke="#46280A" stroke-width="2.3" stroke-opacity="0.48" stroke-linecap="round"/><path d="M238.0 244.2L237.9 241.3" stroke="#46280A" stroke-width="1.4" stroke-opacity="0.77" stroke-linecap="round"/>
<path d="M222.8 315.3L224.3 307.9" stroke="#DEC890" stroke-width="1.6" stroke-opacity="0.46" stroke-linecap="round"/><path d="M207.3 279.8L208.8 273.8" stroke="#DEC890" stroke-width="1.9" stroke-opacity="0.45" stroke-linecap="round"/><path d="M184.8 264.2L184.3 259.3" stroke="#DEC890" stroke-width="1.3" stroke-opacity="0.53" stroke-linecap="round"/><path d="M194.3 298.4L195.3 294.0" stroke="#DEC890" stroke-width="1.0" stroke-opacity="0.52" stroke-linecap="round"/><path d="M233.7 317.7L232.3 310.4" stroke="#DEC890" stroke-width="1.8" stroke-opacity="0.44" stroke-linecap="round"/><path d="M217.1 281.2L218.5 277.0" stroke="#DEC890" stroke-width="1.5" stroke-opacity="0.44" stroke-linecap="round"/><path d="M248.5 307.5L248.9 304.7" stroke="#DEC890" stroke-width="1.1" stroke-opacity="0.57" stroke-linecap="round"/><path d="M186.2 279.1L184.4 272.4" stroke="#DEC890" stroke-width="1.3" stroke-opacity="0.51" stroke-linecap="round"/><path d="M228.0 238.8L229.7 231.4" stroke="#DEC890" stroke-width="1.5" stroke-opacity="0.59" stroke-linecap="round"/><path d="M217.1 337.4L218.0 331.7" stroke="#DEC890" stroke-width="1.9" stroke-opacity="0.45" stroke-linecap="round"/><path d="M229.0 281.5L229.4 277.1" stroke="#DEC890" stroke-width="1.0" stroke-opacity="0.52" stroke-linecap="round"/><path d="M193.5 308.7L194.3 304.0" stroke="#DEC890" stroke-width="2.0" stroke-opacity="0.33" stroke-linecap="round"/><path d="M197.5 267.3L196.6 260.1" stroke="#DEC890" stroke-width="1.9" stroke-opacity="0.34" stroke-linecap="round"/><path d="M186.2 281.6L185.9 274.2" stroke="#DEC890" stroke-width="1.1" stroke-opacity="0.39" stroke-linecap="round"/><path d="M217.0 301.0L217.7 294.1" stroke="#DEC890" stroke-width="1.3" stroke-opacity="0.37" stroke-linecap="round"/><path d="M242.9 334.6L243.2 328.0" stroke="#DEC890" stroke-width="1.4" stroke-opacity="0.39" stroke-linecap="round"/><path d="M223.0 273.3L223.1 269.3" stroke="#DEC890" stroke-width="1.1" stroke-opacity="0.54" stroke-linecap="round"/><path d="M229.5 313.8L230.1 310.2" stroke="#DEC890" stroke-width="1.4" stroke-opacity="0.41" stroke-linecap="round"/><path d="M193.3 242.2L195.5 235.4" stroke="#DEC890" stroke-width="1.2" stroke-opacity="0.59" stroke-linecap="round"/><path d="M187.6 299.4L189.3 295.2" stroke="#DEC890" stroke-width="1.1" stroke-opacity="0.47" stroke-linecap="round"/><path d="M189.9 263.4L190.7 260.1" stroke="#DEC890" stroke-width="1.0" stroke-opacity="0.54" stroke-linecap="round"/><path d="M244.9 288.2L244.4 284.1" stroke="#DEC890" stroke-width="1.6" stroke-opacity="0.53" stroke-linecap="round"/><path d="M187.8 230.0L188.3 226.1" stroke="#DEC890" stroke-width="1.7" stroke-opacity="0.50" stroke-linecap="round"/><path d="M191.1 302.3L191.0 298.9" stroke="#DEC890" stroke-width="1.1" stroke-opacity="0.31" stroke-linecap="round"/><path d="M213.9 243.8L214.0 239.5" stroke="#DEC890" stroke-width="1.5" stroke-opacity="0.32" stroke-linecap="round"/><path d="M244.8 307.5L246.1 303.7" stroke="#DEC890" stroke-width="1.1" stroke-opacity="0.51" stroke-linecap="round"/><path d="M232.3 240.4L233.4 234.2" stroke="#DEC890" stroke-width="1.3" stroke-opacity="0.56" stroke-linecap="round"/><path d="M221.5 282.0L223.9 274.5" stroke="#DEC890" stroke-width="1.6" stroke-opacity="0.51" stroke-linecap="round"/><path d="M243.8 317.0L244.5 312.1" stroke="#DEC890" stroke-width="1.4" stroke-opacity="0.43" stroke-linecap="round"/><path d="M203.1 323.4L203.3 318.1" stroke="#DEC890" stroke-width="1.8" stroke-opacity="0.46" stroke-linecap="round"/><path d="M239.5 323.5L238.2 317.3" stroke="#DEC890" stroke-width="1.4" stroke-opacity="0.35" stroke-linecap="round"/><path d="M183.5 328.1L184.5 324.4" stroke="#DEC890" stroke-width="1.3" stroke-opacity="0.39" stroke-linecap="round"/><path d="M238.1 256.1L239.0 252.2" stroke="#DEC890" stroke-width="1.4" stroke-opacity="0.58" stroke-linecap="round"/><path d="M213.1 289.3L213.6 286.8" stroke="#DEC890" stroke-width="1.5" stroke-opacity="0.54" stroke-linecap="round"/><path d="M230.9 276.9L233.0 269.8" stroke="#DEC890" stroke-width="1.9" stroke-opacity="0.36" stroke-linecap="round"/><path d="M182.4 318.8L185.3 312.4" stroke="#DEC890" stroke-width="1.9" stroke-opacity="0.32" stroke-linecap="round"/><path d="M240.9 272.5L241.7 269.0" stroke="#DEC890" stroke-width="1.6" stroke-opacity="0.40" stroke-linecap="round"/><path d="M205.0 332.1L206.0 324.5" stroke="#DEC890" stroke-width="1.3" stroke-opacity="0.60" stroke-linecap="round"/><path d="M249.5 333.3L249.7 328.3" stroke="#DEC890" stroke-width="1.3" stroke-opacity="0.41" stroke-linecap="round"/><path d="M234.3 333.9L233.8 329.3" stroke="#DEC890" stroke-width="1.7" stroke-opacity="0.51" stroke-linecap="round"/><path d="M220.1 323.3L220.9 315.4" stroke="#DEC890" stroke-width="1.1" stroke-opacity="0.41" stroke-linecap="round"/><path d="M186.6 277.9L186.3 274.5" stroke="#DEC890" stroke-width="1.8" stroke-opacity="0.42" stroke-linecap="round"/><path d="M243.1 274.3L243.4 268.9" stroke="#DEC890" stroke-width="1.1" stroke-opacity="0.60" stroke-linecap="round"/><path d="M185.9 263.1L185.3 255.5" stroke="#DEC890" stroke-width="1.5" stroke-opacity="0.52" stroke-linecap="round"/><path d="M249.9 254.7L250.4 248.5" stroke="#DEC890" stroke-width="1.9" stroke-opacity="0.51" stroke-linecap="round"/>
<path d="M228.8 238.1L228.6 237.5" stroke="#7478AE" stroke-width="1.9" stroke-opacity="0.77" stroke-linecap="round"/><path d="M248.0 335.5L248.4 333.2" stroke="#7478AE" stroke-width="1.6" stroke-opacity="0.57" stroke-linecap="round"/><path d="M214.2 255.2L214.3 254.3" stroke="#7478AE" stroke-width="1.9" stroke-opacity="0.72" stroke-linecap="round"/><path d="M248.6 296.7L248.4 295.5" stroke="#7478AE" stroke-width="1.4" stroke-opacity="0.80" stroke-linecap="round"/><path d="M198.5 234.7L198.5 232.6" stroke="#7478AE" stroke-width="2.4" stroke-opacity="0.58" stroke-linecap="round"/><path d="M244.9 340.4L245.1 339.8" stroke="#7478AE" stroke-width="1.9" stroke-opacity="0.63" stroke-linecap="round"/><path d="M205.9 315.1L205.9 314.3" stroke="#7478AE" stroke-width="2.2" stroke-opacity="0.55" stroke-linecap="round"/><path d="M241.7 235.7L241.9 234.7" stroke="#7478AE" stroke-width="2.2" stroke-opacity="0.53" stroke-linecap="round"/><path d="M241.4 324.0L241.7 323.1" stroke="#7478AE" stroke-width="1.4" stroke-opacity="0.52" stroke-linecap="round"/><path d="M228.3 301.6L228.5 300.1" stroke="#7478AE" stroke-width="1.3" stroke-opacity="0.41" stroke-linecap="round"/><path d="M235.5 279.1L235.4 277.7" stroke="#7478AE" stroke-width="2.2" stroke-opacity="0.71" stroke-linecap="round"/><path d="M183.5 295.2L183.8 294.0" stroke="#7478AE" stroke-width="2.1" stroke-opacity="0.69" stroke-linecap="round"/><path d="M214.4 308.0L214.1 306.4" stroke="#7478AE" stroke-width="1.4" stroke-opacity="0.40" stroke-linecap="round"/><path d="M200.9 277.7L200.7 275.4" stroke="#7478AE" stroke-width="1.7" stroke-opacity="0.72" stroke-linecap="round"/><path d="M194.9 301.2L195.7 299.2" stroke="#7478AE" stroke-width="2.1" stroke-opacity="0.79" stroke-linecap="round"/><path d="M184.0 233.6L184.0 232.4" stroke="#7478AE" stroke-width="2.1" stroke-opacity="0.76" stroke-linecap="round"/><path d="M186.3 279.3L186.3 277.7" stroke="#7478AE" stroke-width="1.8" stroke-opacity="0.46" stroke-linecap="round"/><path d="M181.4 260.5L181.6 259.2" stroke="#7478AE" stroke-width="2.1" stroke-opacity="0.65" stroke-linecap="round"/><path d="M250.9 292.8L250.9 290.8" stroke="#7478AE" stroke-width="1.6" stroke-opacity="0.60" stroke-linecap="round"/><path d="M217.9 259.2L218.4 258.0" stroke="#7478AE" stroke-width="1.4" stroke-opacity="0.58" stroke-linecap="round"/><path d="M203.3 249.2L203.1 247.4" stroke="#7478AE" stroke-width="2.5" stroke-opacity="0.66" stroke-linecap="round"/><path d="M194.7 251.9L195.2 250.9" stroke="#7478AE" stroke-width="1.7" stroke-opacity="0.44" stroke-linecap="round"/>
<path d="M323.1 293.9L323.7 297.9" stroke="#2A1704" stroke-width="1.7" stroke-opacity="0.75" stroke-linecap="round"/><path d="M319.6 260.0L319.0 264.5" stroke="#2A1704" stroke-width="1.1" stroke-opacity="0.85" stroke-linecap="round"/><path d="M320.4 294.7L320.2 298.9" stroke="#2A1704" stroke-width="2.0" stroke-opacity="0.77" stroke-linecap="round"/><path d="M328.0 301.2L327.7 304.1" stroke="#2A1704" stroke-width="1.8" stroke-opacity="0.57" stroke-linecap="round"/><path d="M317.2 319.0L317.0 323.9" stroke="#2A1704" stroke-width="1.9" stroke-opacity="0.85" stroke-linecap="round"/><path d="M329.3 294.4L329.4 299.1" stroke="#2A1704" stroke-width="1.6" stroke-opacity="0.84" stroke-linecap="round"/><path d="M327.8 334.9L327.6 337.7" stroke="#2A1704" stroke-width="2.2" stroke-opacity="0.80" stroke-linecap="round"/><path d="M319.3 249.7L319.5 254.0" stroke="#2A1704" stroke-width="1.2" stroke-opacity="0.85" stroke-linecap="round"/><path d="M318.6 228.2L318.9 231.0" stroke="#2A1704" stroke-width="2.1" stroke-opacity="0.60" stroke-linecap="round"/><path d="M324.8 330.5L325.1 332.2" stroke="#2A1704" stroke-width="1.9" stroke-opacity="0.86" stroke-linecap="round"/><path d="M321.8 331.0L321.7 334.7" stroke="#2A1704" stroke-width="1.2" stroke-opacity="0.79" stroke-linecap="round"/><path d="M322.6 242.2L322.8 244.1" stroke="#2A1704" stroke-width="1.6" stroke-opacity="0.50" stroke-linecap="round"/><path d="M319.7 312.7L319.3 316.9" stroke="#2A1704" stroke-width="1.7" stroke-opacity="0.73" stroke-linecap="round"/><path d="M319.3 314.1L319.3 318.5" stroke="#2A1704" stroke-width="1.6" stroke-opacity="0.48" stroke-linecap="round"/><path d="M317.3 263.8L317.7 268.5" stroke="#2A1704" stroke-width="2.1" stroke-opacity="0.87" stroke-linecap="round"/><path d="M320.5 276.9L320.4 281.4" stroke="#2A1704" stroke-width="1.7" stroke-opacity="0.57" stroke-linecap="round"/><path d="M318.7 288.2L318.6 291.5" stroke="#2A1704" stroke-width="1.3" stroke-opacity="0.66" stroke-linecap="round"/><path d="M319.1 301.6L319.6 305.4" stroke="#2A1704" stroke-width="1.2" stroke-opacity="0.48" stroke-linecap="round"/><path d="M316.9 333.2L317.2 337.2" stroke="#2A1704" stroke-width="2.0" stroke-opacity="0.51" stroke-linecap="round"/><path d="M329.6 246.9L329.6 250.6" stroke="#2A1704" stroke-width="1.6" stroke-opacity="0.54" stroke-linecap="round"/><path d="M324.1 336.9L324.0 340.9" stroke="#2A1704" stroke-width="2.1" stroke-opacity="0.55" stroke-linecap="round"/><path d="M317.7 250.0L317.7 252.6" stroke="#2A1704" stroke-width="2.0" stroke-opacity="0.77" stroke-linecap="round"/><path d="M326.2 297.2L326.6 300.5" stroke="#2A1704" stroke-width="1.7" stroke-opacity="0.53" stroke-linecap="round"/><path d="M319.3 286.5L319.4 288.6" stroke="#2A1704" stroke-width="1.7" stroke-opacity="0.56" stroke-linecap="round"/><path d="M328.8 280.7L329.1 282.3" stroke="#2A1704" stroke-width="1.2" stroke-opacity="0.72" stroke-linecap="round"/><path d="M327.4 242.0L327.1 244.6" stroke="#2A1704" stroke-width="2.0" stroke-opacity="0.78" stroke-linecap="round"/><path d="M325.3 336.5L325.9 340.6" stroke="#2A1704" stroke-width="1.6" stroke-opacity="0.88" stroke-linecap="round"/><path d="M320.3 321.5L320.2 325.6" stroke="#2A1704" stroke-width="1.1" stroke-opacity="0.45" stroke-linecap="round"/><path d="M325.1 316.0L325.5 319.3" stroke="#2A1704" stroke-width="2.1" stroke-opacity="0.71" stroke-linecap="round"/><path d="M319.9 313.6L319.8 317.3" stroke="#2A1704" stroke-width="1.5" stroke-opacity="0.58" stroke-linecap="round"/><path d="M321.7 300.4L322.0 304.1" stroke="#2A1704" stroke-width="1.2" stroke-opacity="0.61" stroke-linecap="round"/><path d="M324.3 237.1L324.1 239.3" stroke="#2A1704" stroke-width="1.4" stroke-opacity="0.63" stroke-linecap="round"/><path d="M317.9 285.1L318.3 287.1" stroke="#2A1704" stroke-width="1.6" stroke-opacity="0.67" stroke-linecap="round"/><path d="M324.8 269.9L324.6 272.2" stroke="#2A1704" stroke-width="2.0" stroke-opacity="0.50" stroke-linecap="round"/><path d="M328.5 305.2L328.6 309.8" stroke="#2A1704" stroke-width="1.3" stroke-opacity="0.84" stroke-linecap="round"/><path d="M326.2 250.7L326.6 253.2" stroke="#2A1704" stroke-width="1.5" stroke-opacity="0.90" stroke-linecap="round"/><path d="M322.6 281.8L322.8 286.3" stroke="#2A1704" stroke-width="1.3" stroke-opacity="0.67" stroke-linecap="round"/><path d="M321.1 255.7L321.8 259.3" stroke="#2A1704" stroke-width="1.2" stroke-opacity="0.48" stroke-linecap="round"/><path d="M320.6 279.1L321.0 281.2" stroke="#2A1704" stroke-width="1.7" stroke-opacity="0.89" stroke-linecap="round"/><path d="M318.5 273.0L318.5 275.2" stroke="#2A1704" stroke-width="1.6" stroke-opacity="0.82" stroke-linecap="round"/>
</g>
<rect x="281" y="327.6" width="40" height="1.3" fill="#EEF0EA" fill-opacity="0.92"/>
</g>
<text x="175.40" y="353.20" font-size="9.8" text-anchor="middle">F4/80</text>
<path d="M423.50 276.25V261.25M411.75 261.25H435.25" stroke="#1a1a1a" stroke-width="1.25" fill="none"/>
<rect x="404.50" y="275.75" width="38.00" height="59.15" fill="#AB062D"/>
<path d="M479.88 287.25V277.50M468.12 277.50H491.62" stroke="#1a1a1a" stroke-width="1.25" fill="none"/>
<rect x="460.50" y="286.75" width="38.75" height="48.15" fill="#2E4B7E"/>
<path d="M394.50 217.00V334.90M391.10 334.90H508.75" stroke="#000" stroke-width="1.3" fill="none"/>
<path d="M391.10 334.90H394.50M391.10 296.80H394.50M391.10 258.70H394.50M391.10 220.60H394.50M423.25 334.90V338.10M480.00 334.90V338.10" stroke="#000" stroke-width="1.3" fill="none"/>
<text x="387.90" y="338.05" font-size="8.7" text-anchor="end">0</text>
<text x="387.90" y="299.95" font-size="8.7" text-anchor="end">50</text>
<text x="387.90" y="261.85" font-size="8.7" text-anchor="end">100</text>
<text x="387.90" y="223.75" font-size="8.7" text-anchor="end">150</text>
<text x="423.50" y="353.00" font-size="8.7" font-style="italic" text-anchor="middle">Tp53<tspan font-size="5.74" dy="-3.22" letter-spacing="0.45">+/+</tspan></text>
<text x="480.50" y="353.00" font-size="8.7" font-style="italic" text-anchor="middle">Tp53<tspan font-size="5.74" dy="-3.22" letter-spacing="0.45">-/-</tspan></text>
<text transform="translate(366.20,276.60) rotate(-90)" font-size="9.3" text-anchor="middle" textLength="70.2" lengthAdjust="spacingAndGlyphs">Cell number/4hpf</text>
<text x="351.30" y="210.70" font-size="12.0" text-anchor="start" font-weight="bold" style="stroke-width:0.5px">D</text>
<text x="8.50" y="382.60" font-size="12.0" text-anchor="start" font-weight="bold" style="stroke-width:0.5px">E</text>
<path d="M73.50 443.00V438.00M68.25 438.00H78.75" stroke="#1a1a1a" stroke-width="1.25" fill="none"/>
<rect x="64.50" y="442.50" width="18.00" height="83.90" fill="#AB062D"/>
<path d="M96.75 439.25V430.50M91.50 430.50H102.00" stroke="#1a1a1a" stroke-width="1.25" fill="none"/>
<rect x="88.00" y="438.75" width="17.50" height="87.65" fill="#2E4B7E"/>
<path d="M136.75 443.00V438.00M131.50 438.00H142.00" stroke="#1a1a1a" stroke-width="1.25" fill="none"/>
<rect x="128.00" y="442.50" width="17.50" height="83.90" fill="#AB062D"/>
<path d="M160.00 436.00V432.00M154.75 432.00H165.25" stroke="#1a1a1a" stroke-width="1.25" fill="none"/>
<rect x="151.25" y="435.50" width="17.50" height="90.90" fill="#2E4B7E"/>
<path d="M54.00 397.55V526.40M50.60 526.40H180.30" stroke="#000" stroke-width="1.3" fill="none"/>
<path d="M50.60 526.40H54.00M50.60 484.65H54.00M50.60 442.90H54.00M50.60 401.15H54.00M85.00 526.40V529.60M148.30 526.40V529.60" stroke="#000" stroke-width="1.3" fill="none"/>
<text x="47.40" y="529.55" font-size="8.7" text-anchor="end">0.0</text>
<text x="47.40" y="487.80" font-size="8.7" text-anchor="end">0.5</text>
<text x="47.40" y="446.05" font-size="8.7" text-anchor="end">1.0</text>
<text x="47.40" y="404.30" font-size="8.7" text-anchor="end">1.5</text>
<text x="85.30" y="540.56" font-size="8.7" text-anchor="middle">Day 8</text>
<text x="148.60" y="540.56" font-size="8.7" text-anchor="middle">Day 12</text>
<text x="117.20" y="390.10" font-size="10.1" text-anchor="middle">F4/80</text>
<text transform="translate(29.80,462.80) rotate(-90)" font-size="9.5" text-anchor="middle" textLength="93" lengthAdjust="spacingAndGlyphs">Fold mRNA expression</text>
<path d="M235.90 442.00V435.75M230.65 435.75H241.15" stroke="#1a1a1a" stroke-width="1.25" fill="none"/>
<rect x="226.90" y="441.50" width="18.00" height="84.90" fill="#AB062D"/>
<path d="M259.15 438.75V406.25M253.90 406.25H264.40" stroke="#1a1a1a" stroke-width="1.25" fill="none"/>
<rect x="250.40" y="438.25" width="17.50" height="88.15" fill="#2E4B7E"/>
<path d="M299.15 442.00V436.75M293.90 436.75H304.40" stroke="#1a1a1a" stroke-width="1.25" fill="none"/>
<rect x="290.40" y="441.50" width="17.50" height="84.90" fill="#AB062D"/>
<path d="M322.40 475.00V463.25M317.15 463.25H327.65" stroke="#1a1a1a" stroke-width="1.25" fill="none"/>
<rect x="313.65" y="474.50" width="17.50" height="51.90" fill="#2E4B7E"/>
<circle cx="322.40" cy="457.50" r="1.25" fill="#111"/>
<path d="M216.40 395.90V526.40M213.00 526.40H342.70" stroke="#000" stroke-width="1.3" fill="none"/>
<path d="M213.00 526.40H216.40M213.00 484.10H216.40M213.00 441.80H216.40M213.00 399.50H216.40M247.40 526.40V529.60M310.70 526.40V529.60" stroke="#000" stroke-width="1.3" fill="none"/>
<text x="209.80" y="529.55" font-size="8.7" text-anchor="end">0.0</text>
<text x="209.80" y="487.25" font-size="8.7" text-anchor="end">0.5</text>
<text x="209.80" y="444.95" font-size="8.7" text-anchor="end">1.0</text>
<text x="209.80" y="402.65" font-size="8.7" text-anchor="end">1.5</text>
<text x="247.70" y="540.56" font-size="8.7" text-anchor="middle">Day 8</text>
<text x="311.00" y="540.56" font-size="8.7" text-anchor="middle">Day 12</text>
<text x="279.60" y="390.10" font-size="10.1" text-anchor="middle">CD206</text>
<path d="M398.30 442.00V415.00M393.05 415.00H403.55" stroke="#1a1a1a" stroke-width="1.25" fill="none"/>
<rect x="389.30" y="441.50" width="18.00" height="84.90" fill="#AB062D"/>
<path d="M421.55 453.00V428.75M416.30 428.75H426.80" stroke="#1a1a1a" stroke-width="1.25" fill="none"/>
<rect x="412.80" y="452.50" width="17.50" height="73.90" fill="#2E4B7E"/>
<path d="M461.55 442.00V417.00M456.30 417.00H466.80" stroke="#1a1a1a" stroke-width="1.25" fill="none"/>
<rect x="452.80" y="441.50" width="17.50" height="84.90" fill="#AB062D"/>
<path d="M484.80 497.25V482.50M479.55 482.50H490.05" stroke="#1a1a1a" stroke-width="1.25" fill="none"/>
<rect x="476.05" y="496.75" width="17.50" height="29.65" fill="#2E4B7E"/>
<circle cx="484.80" cy="476.25" r="1.25" fill="#111"/>
<path d="M378.80 395.90V526.40M375.40 526.40H505.10" stroke="#000" stroke-width="1.3" fill="none"/>
<path d="M375.40 526.40H378.80M375.40 484.10H378.80M375.40 441.80H378.80M375.40 399.50H378.80M409.80 526.40V529.60M473.10 526.40V529.60" stroke="#000" stroke-width="1.3" fill="none"/>
<text x="372.20" y="529.55" font-size="8.7" text-anchor="end">0.0</text>
<text x="372.20" y="487.25" font-size="8.7" text-anchor="end">0.5</text>
<text x="372.20" y="444.95" font-size="8.7" text-anchor="end">1.0</text>
<text x="372.20" y="402.65" font-size="8.7" text-anchor="end">1.5</text>
<text x="410.10" y="540.56" font-size="8.7" text-anchor="middle">Day 8</text>
<text x="473.40" y="540.56" font-size="8.7" text-anchor="middle">Day 12</text>
<text x="442.00" y="390.10" font-size="10.1" text-anchor="middle">YM1</text>
<path d="M74.30 619.25V603.75M69.05 603.75H79.55" stroke="#1a1a1a" stroke-width="1.25" fill="none"/>
<rect x="65.30" y="618.75" width="18.00" height="85.55" fill="#AB062D"/>
<path d="M97.55 656.00V643.75M92.30 643.75H102.80" stroke="#1a1a1a" stroke-width="1.25" fill="none"/>
<rect x="88.80" y="655.50" width="17.50" height="48.80" fill="#2E4B7E"/>
<circle cx="97.55" cy="637.60" r="1.25" fill="#111"/>
<path d="M137.55 619.25V612.50M132.30 612.50H142.80" stroke="#1a1a1a" stroke-width="1.25" fill="none"/>
<rect x="128.80" y="618.75" width="17.50" height="85.55" fill="#AB062D"/>
<path d="M160.80 653.75V649.00M155.55 649.00H166.05" stroke="#1a1a1a" stroke-width="1.25" fill="none"/>
<rect x="152.05" y="653.25" width="17.50" height="51.05" fill="#2E4B7E"/>
<circle cx="160.80" cy="643.00" r="1.25" fill="#111"/>
<path d="M54.00 573.50V704.30M50.60 704.30H180.30" stroke="#000" stroke-width="1.3" fill="none"/>
<path d="M50.60 704.30H54.00M50.60 661.90H54.00M50.60 619.50H54.00M50.60 577.10H54.00M85.80 704.30V707.50M149.10 704.30V707.50" stroke="#000" stroke-width="1.3" fill="none"/>
<text x="47.40" y="707.45" font-size="8.7" text-anchor="end">0.0</text>
<text x="47.40" y="665.05" font-size="8.7" text-anchor="end">0.5</text>
<text x="47.40" y="622.65" font-size="8.7" text-anchor="end">1.0</text>
<text x="47.40" y="580.25" font-size="8.7" text-anchor="end">1.5</text>
<text x="86.10" y="718.32" font-size="8.7" text-anchor="middle">Day 8</text>
<text x="149.40" y="718.32" font-size="8.7" text-anchor="middle">Day 12</text>
<text x="117.20" y="567.30" font-size="10.1" text-anchor="middle">Arginase 1</text>
<text transform="translate(29.80,640.70) rotate(-90)" font-size="9.5" text-anchor="middle" textLength="93" lengthAdjust="spacingAndGlyphs">Fold mRNA expression</text>
<path d="M235.90 620.50V610.50M230.65 610.50H241.15" stroke="#1a1a1a" stroke-width="1.25" fill="none"/>
<rect x="226.90" y="620.00" width="18.00" height="84.30" fill="#AB062D"/>
<path d="M259.15 613.00V606.75M253.90 606.75H264.40" stroke="#1a1a1a" stroke-width="1.25" fill="none"/>
<rect x="250.40" y="612.50" width="17.50" height="91.80" fill="#2E4B7E"/>
<path d="M299.15 620.50V615.75M293.90 615.75H304.40" stroke="#1a1a1a" stroke-width="1.25" fill="none"/>
<rect x="290.40" y="620.00" width="17.50" height="84.30" fill="#AB062D"/>
<path d="M322.40 605.50V596.25M317.15 596.25H327.65" stroke="#1a1a1a" stroke-width="1.25" fill="none"/>
<rect x="313.65" y="605.00" width="17.50" height="99.30" fill="#2E4B7E"/>
<path d="M216.40 574.70V704.30M213.00 704.30H342.70" stroke="#000" stroke-width="1.3" fill="none"/>
<path d="M213.00 704.30H216.40M213.00 662.30H216.40M213.00 620.30H216.40M213.00 578.30H216.40M247.40 704.30V707.50M310.70 704.30V707.50" stroke="#000" stroke-width="1.3" fill="none"/>
<text x="209.80" y="707.45" font-size="8.7" text-anchor="end">0.0</text>
<text x="209.80" y="665.45" font-size="8.7" text-anchor="end">0.5</text>
<text x="209.80" y="623.45" font-size="8.7" text-anchor="end">1.0</text>
<text x="209.80" y="581.45" font-size="8.7" text-anchor="end">1.5</text>
<text x="247.70" y="718.36" font-size="8.7" text-anchor="middle">Day 8</text>
<text x="311.00" y="718.36" font-size="8.7" text-anchor="middle">Day 12</text>
<text x="279.60" y="567.50" font-size="10.1" text-anchor="middle">iNOS</text>
<path d="M398.30 620.50V599.70M393.05 599.70H403.55" stroke="#1a1a1a" stroke-width="1.25" fill="none"/>
<rect x="389.30" y="620.00" width="18.00" height="84.30" fill="#AB062D"/>
<path d="M421.55 632.20V605.80M416.30 605.80H426.80" stroke="#1a1a1a" stroke-width="1.25" fill="none"/>
<rect x="412.80" y="631.70" width="17.50" height="72.60" fill="#2E4B7E"/>
<path d="M461.55 620.50V618.50M456.30 618.50H466.80" stroke="#1a1a1a" stroke-width="1.25" fill="none"/>
<rect x="452.80" y="620.00" width="17.50" height="84.30" fill="#AB062D"/>
<path d="M484.80 605.10V593.00M479.55 593.00H490.05" stroke="#1a1a1a" stroke-width="1.25" fill="none"/>
<rect x="476.05" y="604.60" width="17.50" height="99.70" fill="#2E4B7E"/>
<path d="M378.80 574.70V704.30M375.40 704.30H505.10" stroke="#000" stroke-width="1.3" fill="none"/>
<path d="M375.40 704.30H378.80M375.40 662.30H378.80M375.40 620.30H378.80M375.40 578.30H378.80M409.80 704.30V707.50M473.10 704.30V707.50" stroke="#000" stroke-width="1.3" fill="none"/>
<text x="372.20" y="707.45" font-size="8.7" text-anchor="end">0.0</text>
<text x="372.20" y="665.45" font-size="8.7" text-anchor="end">0.5</text>
<text x="372.20" y="623.45" font-size="8.7" text-anchor="end">1.0</text>
<text x="372.20" y="581.45" font-size="8.7" text-anchor="end">1.5</text>
<text x="410.10" y="718.36" font-size="8.7" text-anchor="middle">Day 8</text>
<text x="473.40" y="718.36" font-size="8.7" text-anchor="middle">Day 12</text>
<text x="442.00" y="567.50" font-size="10.1" text-anchor="middle">FIZZ</text>
<rect x="230.5" y="727" width="17" height="16.75" fill="#AB062D"/>
<rect x="284.5" y="727" width="17.25" height="16.75" fill="#2E4B7E"/>
<text x="252.50" y="739.30" font-size="8.7" font-style="italic" text-anchor="start">Tp53<tspan font-size="5.74" dy="-3.22" letter-spacing="0.45">+/+</tspan></text>
<text x="306.50" y="739.30" font-size="8.7" font-style="italic" text-anchor="start">Tp53<tspan font-size="5.74" dy="-3.22" letter-spacing="0.45">-/-</tspan></text>
<rect x="0" y="0" width="520" height="1.1" fill="#000"/>
<rect x="0" y="0" width="1.4" height="752" fill="#000"/>
<rect x="518.1" y="0" width="1.9" height="752" fill="#000"/>
<rect x="0" y="750.5" width="520" height="1.5" fill="#000"/>
</svg>
</body></html>
